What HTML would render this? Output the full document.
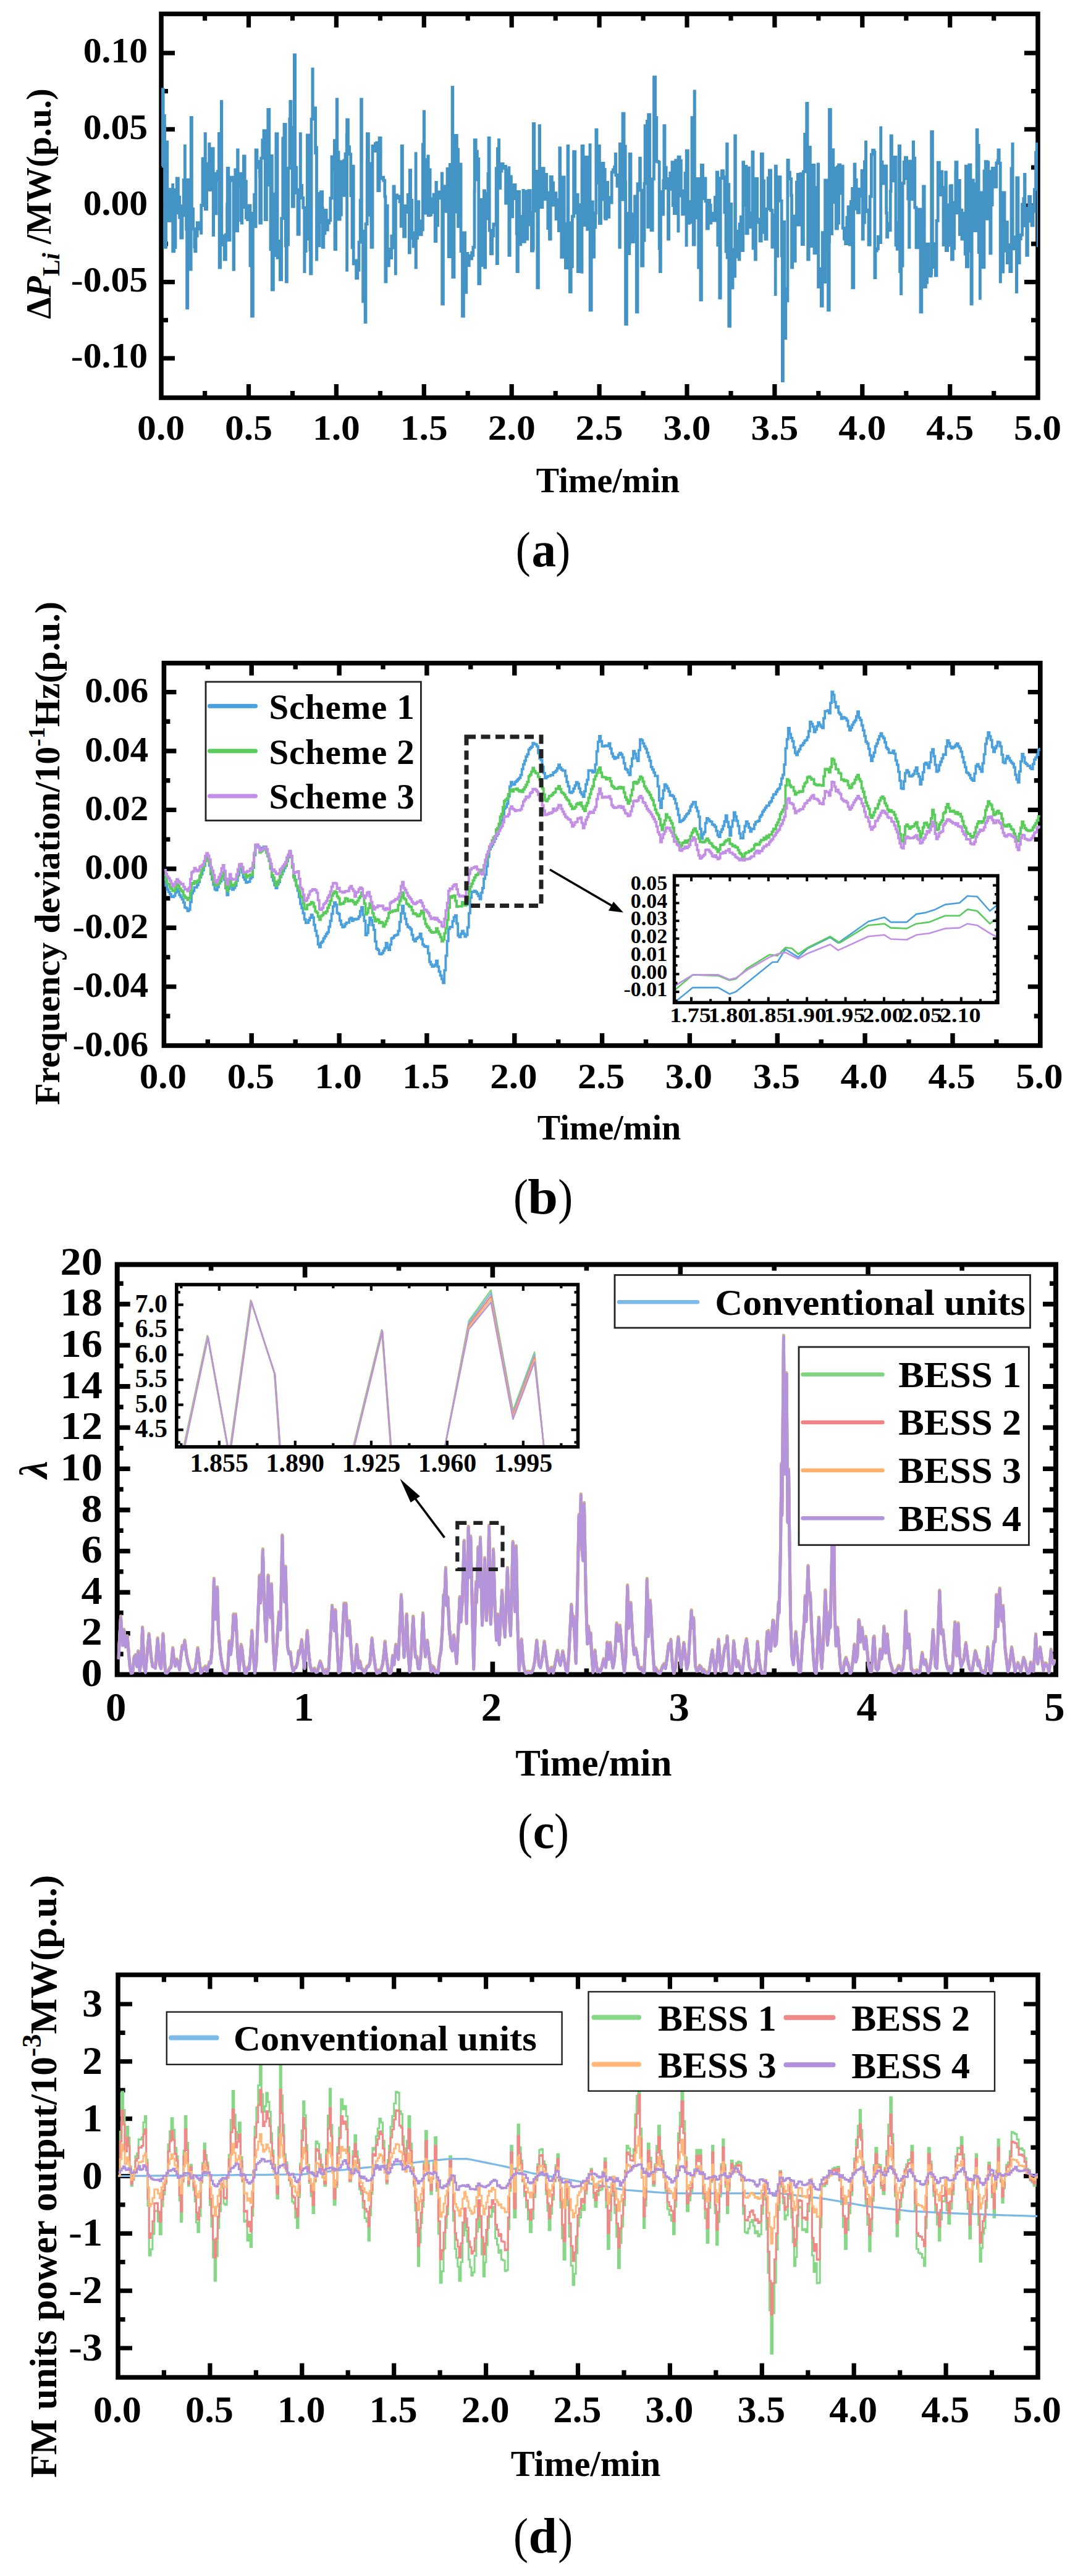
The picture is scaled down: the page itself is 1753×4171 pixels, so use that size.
<!DOCTYPE html>
<html><head><meta charset="utf-8"><title>Figure</title>
<style>html,body{margin:0;padding:0;background:#fff;} svg{display:block;} text{font-family:"Liberation Serif", serif;fill:#000;}</style>
</head><body>
<svg width="1753" height="4171" viewBox="0 0 1753 4171">
<rect width="1753" height="4171" fill="#fff"/>
<rect x="261" y="22.5" width="1419" height="621.5" fill="none" stroke="#000" stroke-width="7.5" stroke-linecap="square"/>
<path d="M402.5 644V622M402.5 22.5V44.5M544.4 644V622M544.4 22.5V44.5M686.3 644V622M686.3 22.5V44.5M828.2 644V622M828.2 22.5V44.5M970.1 644V622M970.1 22.5V44.5M1112 644V622M1112 22.5V44.5M1253.9 644V622M1253.9 22.5V44.5M1395.8 644V622M1395.8 22.5V44.5M1537.7 644V622M1537.7 22.5V44.5" stroke="#000" stroke-width="7.2" fill="none"/>
<path d="M331.6 644V633M331.6 22.5V33.5M473.5 644V633M473.5 22.5V33.5M615.4 644V633M615.4 22.5V33.5M757.2 644V633M757.2 22.5V33.5M899.2 644V633M899.2 22.5V33.5M1041.1 644V633M1041.1 22.5V33.5M1183 644V633M1183 22.5V33.5M1324.8 644V633M1324.8 22.5V33.5M1466.8 644V633M1466.8 22.5V33.5M1608.7 644V633M1608.7 22.5V33.5" stroke="#000" stroke-width="7.2" fill="none"/>
<path d="M261 580.1H283M1680 580.1H1658M261 456.6H283M1680 456.6H1658M261 333H283M1680 333H1658M261 209.4H283M1680 209.4H1658M261 85.9H283M1680 85.9H1658" stroke="#000" stroke-width="7.2" fill="none"/>
<path d="M261 518.4H272M1680 518.4H1669M261 394.8H272M1680 394.8H1669M261 271.2H272M1680 271.2H1669M261 147.6H272M1680 147.6H1669" stroke="#000" stroke-width="7.2" fill="none"/>
<clipPath id="c1"><rect x="261" y="22.5" width="1419" height="621.5"/></clipPath>
<g clip-path="url(#c1)">
<polyline points="262.0,269.1 263.3,269.1 263.3,144.6 264.2,144.6 264.2,187.4 266.4,187.4 266.4,205.0 266.6,205.0 266.6,400.3 268.6,400.3 268.6,301.4 269.8,301.4 269.8,229.8 270.8,229.8 270.8,334.8 273.0,334.8 273.0,357.6 275.2,357.6 275.2,306.7 277.4,306.7 277.4,327.6 279.6,327.6 279.6,299.3 279.7,299.3 279.7,406.9 281.8,406.9 281.8,400.7 284.0,400.7 284.0,307.4 286.2,307.4 286.2,346.9 286.2,346.9 286.2,288.9 288.4,288.9 288.4,319.2 290.6,319.2 290.6,352.0 292.8,352.0 292.8,385.2 295.0,385.2 295.0,333.5 297.2,333.5 297.2,291.3 299.3,291.3 299.3,236.4 299.4,236.4 299.4,348.8 301.6,348.8 301.6,371.2 302.6,371.2 302.6,498.7 303.8,498.7 303.8,291.2 306.0,291.2 306.0,400.5 308.2,400.5 308.2,436.0 309.2,436.0 309.2,190.5 310.4,190.5 310.4,338.3 312.6,338.3 312.6,370.7 314.8,370.7 314.8,399.5 315.7,399.5 315.7,406.9 317.0,406.9 317.0,382.0 319.2,382.0 319.2,360.7 321.4,360.7 321.4,370.2 323.6,370.2 323.6,370.8 325.6,370.8 325.6,377.4 325.8,377.4 325.8,332.5 328.0,332.5 328.0,257.0 330.2,257.0 330.2,296.4 332.1,296.4 332.1,216.7 332.4,216.7 332.4,338.5 334.6,338.5 334.6,293.5 336.8,293.5 336.8,265.2 338.7,265.2 338.7,233.1 339.0,233.1 339.0,307.7 341.2,307.7 341.2,272.6 343.4,272.6 343.4,240.7 345.2,240.7 345.2,380.7 345.6,380.7 345.6,281.2 347.8,281.2 347.8,345.9 350.0,345.9 350.0,292.5 352.2,292.5 352.2,277.6 354.4,277.6 354.4,216.4 355.1,216.4 355.1,433.1 356.6,433.1 356.6,376.1 358.4,376.1 358.4,164.3 358.8,164.3 358.8,381.9 361.0,381.9 361.0,396.5 363.2,396.5 363.2,420.0 365.4,420.0 365.4,380.2 367.6,380.2 367.6,331.0 368.2,331.0 368.2,272.5 369.8,272.5 369.8,388.8 372.0,388.8 372.0,292.4 374.2,292.4 374.2,287.2 376.4,287.2 376.4,289.2 378.0,289.2 378.0,436.4 378.6,436.4 378.6,297.0 380.8,297.0 380.8,275.0 383.0,275.0 383.0,373.9 384.6,373.9 384.6,243.0 385.2,243.0 385.2,302.6 387.4,302.6 387.4,281.1 389.6,281.1 389.6,356.6 391.1,356.6 391.1,361.0 391.8,361.0 391.8,316.7 394.0,316.7 394.0,335.6 394.4,335.6 394.4,252.8 396.2,252.8 396.2,293.7 398.4,293.7 398.4,352.8 400.6,352.8 400.6,355.6 402.8,355.6 402.8,333.0 405.0,333.0 405.0,430.0 407.2,430.0 407.2,345.5 407.5,345.5 407.5,511.8 409.4,511.8 409.4,366.9 411.6,366.9 411.6,315.2 413.8,315.2 413.8,366.8 414.1,366.8 414.1,243.0 416.0,243.0 416.0,271.4 418.2,271.4 418.2,261.3 420.4,261.3 420.4,284.8 420.7,284.8 420.7,361.0 422.6,361.0 422.6,256.2 424.8,256.2 424.8,227.0 427.0,227.0 427.0,211.6 429.2,211.6 429.2,355.5 431.4,355.5 431.4,252.1 433.6,252.1 433.6,245.5 433.8,245.5 433.8,177.4 435.8,177.4 435.8,299.6 438.0,299.6 438.0,403.8 440.2,403.8 440.2,252.3 440.3,252.3 440.3,469.2 442.4,469.2 442.4,413.6 444.6,413.6 444.6,314.2 446.8,314.2 446.8,247.0 446.9,247.0 446.9,216.7 449.0,216.7 449.0,417.4 451.2,417.4 451.2,390.3 453.4,390.3 453.4,426.2 453.4,426.2 453.4,452.8 455.6,452.8 455.6,353.7 457.8,353.7 457.8,223.8 460.0,223.8 460.0,201.3 462.2,201.3 462.2,398.0 463.3,398.0 463.3,456.1 464.4,456.1 464.4,396.2 466.6,396.2 466.6,272.3 468.8,272.3 468.8,192.7 469.8,192.7 469.8,164.3 471.0,164.3 471.0,206.2 473.2,206.2 473.2,334.4 475.4,334.4 475.4,253.6 476.4,253.6 476.4,88.9 477.6,88.9 477.6,271.1 479.8,271.1 479.8,312.4 482.0,312.4 482.0,379.3 484.2,379.3 484.2,307.1 486.2,307.1 486.2,216.7 486.4,216.7 486.4,300.5 488.6,300.5 488.6,320.5 490.8,320.5 490.8,336.3 492.8,336.3 492.8,439.7 493.0,439.7 493.0,406.5 495.2,406.5 495.2,387.2 497.4,387.2 497.4,218.8 499.6,218.8 499.6,280.9 501.8,280.9 501.8,404.6 502.6,404.6 502.6,443.0 504.0,443.0 504.0,192.8 505.9,192.8 505.9,111.8 506.2,111.8 506.2,189.6 508.4,189.6 508.4,174.8 510.6,174.8 510.6,247.9 512.5,247.9 512.5,236.4 512.5,236.4 512.5,420.0 512.8,420.0 512.8,339.4 515.0,339.4 515.0,397.8 517.2,397.8 517.2,313.5 519.4,313.5 519.4,310.6 521.6,310.6 521.6,359.8 522.3,359.8 522.3,334.8 522.3,334.8 522.3,400.3 523.8,400.3 523.8,377.9 526.0,377.9 526.0,340.3 528.2,340.3 528.2,372.1 530.4,372.1 530.4,361.1 532.6,361.1 532.6,356.9 534.8,356.9 534.8,320.8 537.0,320.8 537.0,253.8 539.2,253.8 539.2,275.8 541.4,275.8 541.4,227.7 542.0,227.7 542.0,403.6 543.6,403.6 543.6,288.0 545.2,288.0 545.2,161.0 545.8,161.0 545.8,246.6 548.0,246.6 548.0,355.0 550.2,355.0 550.2,344.8 551.8,344.8 551.8,347.9 552.4,347.9 552.4,261.7 554.6,261.7 554.6,316.4 556.8,316.4 556.8,260.0 559.0,260.0 559.0,249.1 561.2,249.1 561.2,218.5 561.6,218.5 561.6,439.7 561.6,439.7 561.6,193.8 563.4,193.8 563.4,237.8 565.6,237.8 565.6,249.6 567.8,249.6 567.8,316.5 570.0,316.5 570.0,400.8 571.5,400.8 571.5,269.2 572.2,269.2 572.2,427.0 574.4,427.0 574.4,422.0 576.6,422.0 576.6,450.4 578.8,450.4 578.8,437.3 581.0,437.3 581.0,392.2 583.2,392.2 583.2,324.7 584.6,324.7 584.6,161.0 585.4,161.0 585.4,374.4 587.6,374.4 587.6,488.0 589.8,488.0 589.8,439.9 591.1,439.9 591.1,521.6 592.0,521.6 592.0,362.7 594.2,362.7 594.2,262.4 594.4,262.4 594.4,216.7 596.4,216.7 596.4,264.9 598.6,264.9 598.6,348.3 600.8,348.3 600.8,361.1 601.0,361.1 601.0,400.3 603.0,400.3 603.0,236.5 605.2,236.5 605.2,244.7 607.4,244.7 607.4,232.7 609.6,232.7 609.6,231.2 611.8,231.2 611.8,308.5 614.0,308.5 614.0,292.9 614.1,292.9 614.1,223.3 616.2,223.3 616.2,289.1 618.4,289.1 618.4,287.1 620.6,287.1 620.6,292.2 622.8,292.2 622.8,318.1 623.9,318.1 623.9,456.1 625.0,456.1 625.0,333.2 627.2,333.2 627.2,430.2 629.4,430.2 629.4,403.3 631.6,403.3 631.6,417.7 633.8,417.7 633.8,382.2 636.0,382.2 636.0,401.0 637.0,401.0 637.0,302.0 638.2,302.0 638.2,347.3 640.3,347.3 640.3,443.0 640.4,443.0 640.4,315.9 642.6,315.9 642.6,320.5 644.8,320.5 644.8,317.9 647.0,317.9 647.0,326.7 649.2,326.7 649.2,366.4 650.2,366.4 650.2,236.4 651.4,236.4 651.4,361.2 653.6,361.2 653.6,383.1 655.8,383.1 655.8,333.3 658.0,333.3 658.0,343.6 660.2,343.6 660.2,315.4 662.4,315.4 662.4,409.2 663.3,409.2 663.3,275.7 664.6,275.7 664.6,324.4 666.8,324.4 666.8,385.3 669.0,385.3 669.0,399.0 671.2,399.0 671.2,377.0 673.1,377.0 673.1,246.2 673.1,246.2 673.1,433.1 673.4,433.1 673.4,385.7 675.6,385.7 675.6,326.7 677.8,326.7 677.8,357.8 680.0,357.8 680.0,379.9 682.2,379.9 682.2,372.0 684.4,372.0 684.4,233.9 686.2,233.9 686.2,180.7 686.6,180.7 686.6,258.6 688.8,258.6 688.8,345.2 691.0,345.2 691.0,317.5 692.8,317.5 692.8,252.8 693.2,252.8 693.2,348.7 695.4,348.7 695.4,274.8 696.1,274.8 696.1,347.9 697.6,347.9 697.6,343.9 699.8,343.9 699.8,321.9 702.0,321.9 702.0,314.9 704.2,314.9 704.2,390.6 705.9,390.6 705.9,295.4 706.4,295.4 706.4,364.8 708.6,364.8 708.6,311.4 710.8,311.4 710.8,310.9 713.0,310.9 713.0,320.8 715.2,320.8 715.2,280.9 715.7,280.9 715.7,492.1 717.4,492.1 717.4,307.9 719.6,307.9 719.6,301.6 721.8,301.6 721.8,342.3 724.0,342.3 724.0,273.4 726.2,273.4 726.2,415.6 728.4,415.6 728.4,266.5 730.6,266.5 730.6,366.8 732.1,366.8 732.1,141.3 732.8,141.3 732.8,448.7 735.0,448.7 735.0,343.1 737.2,343.1 737.2,219.3 739.4,219.3 739.4,241.9 741.6,241.9 741.6,366.7 743.8,366.7 743.8,318.5 745.2,318.5 745.2,265.9 746.0,265.9 746.0,406.5 748.2,406.5 748.2,404.7 748.5,404.7 748.5,511.8 750.4,511.8 750.4,376.9 752.6,376.9 752.6,473.3 754.8,473.3 754.8,410.3 757.0,410.3 757.0,429.9 759.2,429.9 759.2,414.2 761.4,414.2 761.4,418.8 763.6,418.8 763.6,409.2 764.9,409.2 764.9,413.4 765.8,413.4 765.8,400.3 768.0,400.3 768.0,310.1 768.2,310.1 768.2,226.6 770.2,226.6 770.2,245.1 772.4,245.1 772.4,291.2 774.6,291.2 774.6,257.5 774.8,257.5 774.8,459.3 776.8,459.3 776.8,323.3 779.0,323.3 779.0,429.8 781.2,429.8 781.2,372.2 783.4,372.2 783.4,308.8 784.6,308.8 784.6,433.1 785.6,433.1 785.6,354.2 787.8,354.2 787.8,313.3 790.0,313.3 790.0,281.3 791.1,281.3 791.1,223.3 792.2,223.3 792.2,373.1 794.4,373.1 794.4,410.8 796.6,410.8 796.6,382.1 798.8,382.1 798.8,363.0 801.0,363.0 801.0,364.5 803.2,364.5 803.2,272.6 804.3,272.6 804.3,426.6 805.4,426.6 805.4,240.6 807.5,240.6 807.5,226.6 807.6,226.6 807.6,304.5 809.8,304.5 809.8,277.0 812.0,277.0 812.0,265.3 814.2,265.3 814.2,272.3 816.4,272.3 816.4,269.4 818.6,269.4 818.6,329.0 820.8,329.0 820.8,297.9 823.0,297.9 823.0,275.6 823.9,275.6 823.9,269.2 823.9,269.2 823.9,413.4 825.2,413.4 825.2,285.9 827.4,285.9 827.4,350.9 829.6,350.9 829.6,321.6 831.8,321.6 831.8,299.5 834.0,299.5 834.0,317.9 836.2,317.9 836.2,378.2 837.0,378.2 837.0,439.7 838.4,439.7 838.4,310.5 840.6,310.5 840.6,395.8 842.8,395.8 842.8,350.4 845.0,350.4 845.0,356.9 846.9,356.9 846.9,308.5 847.2,308.5 847.2,391.4 849.4,391.4 849.4,317.0 851.6,317.0 851.6,309.8 853.4,309.8 853.4,387.2 853.8,387.2 853.8,363.8 856.0,363.8 856.0,308.7 858.2,308.7 858.2,343.9 860.4,343.9 860.4,406.2 862.6,406.2 862.6,403.2 863.3,403.2 863.3,200.3 864.8,200.3 864.8,341.6 867.0,341.6 867.0,277.4 869.2,277.4 869.2,297.9 869.8,297.9 869.8,465.9 871.4,465.9 871.4,314.8 873.1,314.8 873.1,203.6 873.6,203.6 873.6,283.1 875.8,283.1 875.8,335.7 878.0,335.7 878.0,272.6 880.2,272.6 880.2,309.9 882.4,309.9 882.4,322.5 883.0,322.5 883.0,282.3 884.6,282.3 884.6,312.0 886.8,312.0 886.8,369.5 889.0,369.5 889.0,366.8 889.5,366.8 889.5,387.2 891.2,387.2 891.2,286.3 893.4,286.3 893.4,296.1 895.6,296.1 895.6,332.1 897.8,332.1 897.8,312.7 900.0,312.7 900.0,354.6 902.2,354.6 902.2,323.5 904.4,323.5 904.4,373.6 905.9,373.6 905.9,239.7 906.6,239.7 906.6,331.1 908.8,331.1 908.8,416.4 911.0,416.4 911.0,287.0 913.2,287.0 913.2,362.1 915.4,362.1 915.4,433.8 917.6,433.8 917.6,408.3 919.0,408.3 919.0,236.4 919.8,236.4 919.8,403.2 922.0,403.2 922.0,360.8 922.3,360.8 922.3,472.5 924.2,472.5 924.2,431.6 926.4,431.6 926.4,350.4 928.6,350.4 928.6,245.7 930.8,245.7 930.8,344.8 933.0,344.8 933.0,315.2 935.2,315.2 935.2,353.2 935.4,353.2 935.4,439.7 937.4,439.7 937.4,331.3 939.6,331.3 939.6,434.1 941.8,434.1 941.8,440.4 942.0,440.4 942.0,236.4 944.0,236.4 944.0,364.5 946.2,364.5 946.2,361.4 948.4,361.4 948.4,254.5 950.6,254.5 950.6,371.4 952.8,371.4 952.8,346.7 955.0,346.7 955.0,234.7 955.1,234.7 955.1,502.0 957.2,502.0 957.2,327.0 959.4,327.0 959.4,416.1 961.6,416.1 961.6,368.0 963.8,368.0 963.8,344.8 964.9,344.8 964.9,210.2 966.0,210.2 966.0,268.1 968.2,268.1 968.2,296.2 970.0,296.2 970.0,236.4 970.4,236.4 970.4,361.5 972.6,361.5 972.6,323.0 974.8,323.0 974.8,264.5 977.0,264.5 977.0,274.5 979.2,274.5 979.2,352.4 979.8,352.4 979.8,354.4 981.4,354.4 981.4,342.0 983.1,342.0 983.1,295.4 983.6,295.4 983.6,351.3 985.8,351.3 985.8,319.8 988.0,319.8 988.0,328.0 990.2,328.0 990.2,278.8 992.4,278.8 992.4,274.8 994.6,274.8 994.6,270.3 996.2,270.3 996.2,249.5 996.8,249.5 996.8,283.6 999.0,283.6 999.0,301.4 1001.2,301.4 1001.2,283.2 1002.8,283.2 1002.8,400.3 1003.4,400.3 1003.4,233.1 1005.6,233.1 1005.6,240.5 1007.8,240.5 1007.8,323.2 1008.0,323.2 1008.0,183.9 1010.0,183.9 1010.0,236.8 1012.2,236.8 1012.2,294.8 1012.6,294.8 1012.6,524.9 1014.4,524.9 1014.4,345.3 1016.6,345.3 1016.6,410.6 1018.8,410.6 1018.8,394.9 1019.2,394.9 1019.2,249.5 1021.0,249.5 1021.0,375.5 1022.5,375.5 1022.5,387.2 1023.2,387.2 1023.2,391.7 1025.4,391.7 1025.4,346.7 1027.6,346.7 1027.6,317.9 1029.8,317.9 1029.8,377.9 1030.3,377.9 1030.3,505.2 1032.0,505.2 1032.0,297.7 1034.2,297.7 1034.2,307.1 1035.6,307.1 1035.6,256.1 1036.4,256.1 1036.4,308.2 1038.6,308.2 1038.6,430.4 1040.8,430.4 1040.8,389.3 1043.0,389.3 1043.0,297.1 1044.1,297.1 1044.1,203.6 1045.2,203.6 1045.2,216.2 1047.4,216.2 1047.4,196.4 1048.7,196.4 1048.7,367.5 1049.6,367.5 1049.6,185.6 1051.8,185.6 1051.8,299.5 1054.0,299.5 1054.0,372.9 1056.2,372.9 1056.2,289.8 1058.4,289.8 1058.4,270.4 1058.5,270.4 1058.5,124.9 1060.6,124.9 1060.6,190.3 1062.8,190.3 1062.8,261.4 1065.0,261.4 1065.0,262.3 1067.2,262.3 1067.2,402.3 1068.4,402.3 1068.4,439.7 1069.4,439.7 1069.4,310.4 1071.6,310.4 1071.6,347.0 1073.8,347.0 1073.8,292.4 1074.9,292.4 1074.9,203.6 1076.0,203.6 1076.0,271.1 1078.2,271.1 1078.2,304.7 1080.4,304.7 1080.4,289.4 1081.5,289.4 1081.5,387.2 1082.6,387.2 1082.6,306.3 1084.8,306.3 1084.8,280.1 1087.0,280.1 1087.0,287.8 1088.0,287.8 1088.0,262.6 1089.2,262.6 1089.2,332.5 1091.4,332.5 1091.4,345.5 1093.6,345.5 1093.6,259.6 1095.8,259.6 1095.8,285.5 1097.9,285.5 1097.9,374.1 1098.0,374.1 1098.0,254.1 1100.2,254.1 1100.2,260.3 1102.4,260.3 1102.4,317.1 1104.6,317.1 1104.6,346.8 1106.8,346.8 1106.8,308.8 1109.0,308.8 1109.0,280.3 1111.0,280.3 1111.0,397.0 1111.2,397.0 1111.2,244.2 1113.4,244.2 1113.4,361.4 1115.6,361.4 1115.6,359.9 1117.8,359.9 1117.8,326.5 1120.0,326.5 1120.0,190.5 1122.2,190.5 1122.2,396.2 1124.1,396.2 1124.1,147.9 1124.4,147.9 1124.4,307.4 1126.6,307.4 1126.6,352.6 1128.8,352.6 1128.8,289.4 1130.7,289.4 1130.7,433.1 1131.0,433.1 1131.0,358.1 1133.2,358.1 1133.2,329.6 1133.9,329.6 1133.9,485.6 1135.4,485.6 1135.4,267.4 1137.6,267.4 1137.6,303.4 1139.8,303.4 1139.8,321.6 1140.5,321.6 1140.5,288.9 1142.0,288.9 1142.0,325.9 1144.2,325.9 1144.2,370.0 1146.4,370.0 1146.4,324.5 1148.6,324.5 1148.6,332.3 1150.3,332.3 1150.3,361.0 1150.8,361.0 1150.8,346.8 1153.0,346.8 1153.0,345.5 1155.2,345.5 1155.2,357.0 1157.4,357.0 1157.4,319.5 1159.6,319.5 1159.6,348.4 1160.2,348.4 1160.2,279.0 1161.8,279.0 1161.8,396.9 1164.0,396.9 1164.0,296.8 1164.8,296.8 1164.8,482.3 1166.2,482.3 1166.2,288.6 1168.4,288.6 1168.4,276.6 1170.6,276.6 1170.6,286.6 1172.8,286.6 1172.8,343.9 1175.0,343.9 1175.0,407.0 1176.6,407.0 1176.6,233.1 1177.2,233.1 1177.2,417.2 1179.4,417.2 1179.4,298.7 1179.8,298.7 1179.8,528.2 1181.6,528.2 1181.6,330.4 1183.8,330.4 1183.8,466.0 1186.0,466.0 1186.0,403.8 1188.2,403.8 1188.2,447.4 1189.7,447.4 1189.7,220.0 1190.4,220.0 1190.4,374.4 1192.6,374.4 1192.6,415.9 1194.8,415.9 1194.8,412.1 1196.2,412.1 1196.2,420.0 1197.0,420.0 1197.0,362.9 1199.2,362.9 1199.2,351.2 1201.4,351.2 1201.4,405.7 1202.8,405.7 1202.8,262.6 1203.6,262.6 1203.6,332.7 1205.8,332.7 1205.8,269.5 1208.0,269.5 1208.0,377.9 1210.2,377.9 1210.2,271.8 1212.4,271.8 1212.4,344.8 1214.6,344.8 1214.6,367.8 1216.8,367.8 1216.8,357.1 1217.9,357.1 1217.9,246.2 1219.0,246.2 1219.0,402.0 1221.2,402.0 1221.2,289.8 1222.5,289.8 1222.5,420.0 1223.4,420.0 1223.4,289.4 1225.6,289.4 1225.6,360.0 1227.8,360.0 1227.8,355.0 1230.0,355.0 1230.0,390.1 1232.2,390.1 1232.2,369.9 1232.3,369.9 1232.3,249.5 1234.4,249.5 1234.4,292.8 1236.6,292.8 1236.6,376.3 1238.8,376.3 1238.8,361.4 1238.9,361.4 1238.9,387.2 1241.0,387.2 1241.0,338.3 1243.2,338.3 1243.2,288.2 1245.4,288.2 1245.4,275.9 1247.6,275.9 1247.6,340.5 1249.8,340.5 1249.8,400.2 1252.0,400.2 1252.0,348.4 1254.2,348.4 1254.2,392.9 1255.2,392.9 1255.2,479.0 1255.2,479.0 1255.2,269.2 1256.4,269.2 1256.4,414.7 1258.6,414.7 1258.6,318.5 1260.8,318.5 1260.8,286.6 1263.0,286.6 1263.0,325.4 1265.2,325.4 1265.2,414.2 1266.4,414.2 1266.4,616.7 1267.4,616.7 1267.4,359.5 1269.6,359.5 1269.6,547.7 1271.8,547.7 1271.8,467.2 1274.0,467.2 1274.0,487.0 1274.9,487.0 1274.9,259.3 1276.2,259.3 1276.2,279.0 1278.4,279.0 1278.4,289.6 1280.6,289.6 1280.6,316.7 1281.5,316.7 1281.5,433.1 1282.8,433.1 1282.8,349.8 1285.0,349.8 1285.0,422.7 1287.2,422.7 1287.2,362.9 1289.4,362.9 1289.4,295.2 1291.3,295.2 1291.3,282.3 1291.6,282.3 1291.6,364.0 1293.8,364.0 1293.8,309.0 1296.0,309.0 1296.0,281.3 1298.2,281.3 1298.2,395.5 1300.4,395.5 1300.4,277.8 1302.6,277.8 1302.6,217.3 1304.8,217.3 1304.8,234.9 1305.7,234.9 1305.7,167.5 1307.0,167.5 1307.0,278.4 1307.7,278.4 1307.7,420.0 1309.2,420.0 1309.2,238.5 1311.4,238.5 1311.4,398.7 1313.6,398.7 1313.6,354.2 1315.8,354.2 1315.8,267.3 1318.0,267.3 1318.0,409.9 1320.2,409.9 1320.2,303.6 1322.4,303.6 1322.4,378.8 1324.1,378.8 1324.1,265.9 1324.6,265.9 1324.6,464.7 1326.8,464.7 1326.8,435.1 1329.0,435.1 1329.0,458.8 1329.3,458.8 1329.3,495.4 1331.2,495.4 1331.2,376.7 1333.4,376.7 1333.4,456.6 1335.6,456.6 1335.6,291.8 1337.8,291.8 1337.8,406.1 1340.0,406.1 1340.0,324.9 1340.5,324.9 1340.5,502.0 1342.2,502.0 1342.2,391.6 1342.5,391.6 1342.5,177.4 1344.4,177.4 1344.4,378.7 1346.6,378.7 1346.6,242.6 1348.8,242.6 1348.8,272.4 1351.0,272.4 1351.0,327.7 1353.2,327.7 1353.2,370.2 1355.4,370.2 1355.4,270.5 1356.9,270.5 1356.9,361.0 1357.6,361.0 1357.6,266.9 1359.8,266.9 1359.8,313.1 1362.0,313.1 1362.0,312.3 1363.4,312.3 1363.4,269.2 1364.2,269.2 1364.2,369.3 1366.4,369.3 1366.4,386.8 1368.6,386.8 1368.6,394.5 1370.8,394.5 1370.8,352.2 1373.0,352.2 1373.0,334.8 1375.2,334.8 1375.2,396.2 1377.4,396.2 1377.4,326.5 1379.6,326.5 1379.6,305.4 1379.8,305.4 1379.8,465.9 1381.8,465.9 1381.8,326.5 1383.1,326.5 1383.1,265.9 1384.0,265.9 1384.0,291.2 1386.2,291.2 1386.2,338.4 1388.4,338.4 1388.4,344.3 1390.6,344.3 1390.6,306.1 1392.8,306.1 1392.8,317.9 1395.0,317.9 1395.0,276.4 1396.2,276.4 1396.2,387.2 1397.2,387.2 1397.2,360.4 1399.4,360.4 1399.4,261.8 1401.5,261.8 1401.5,229.8 1401.6,229.8 1401.6,342.5 1403.8,342.5 1403.8,340.2 1406.0,340.2 1406.0,396.4 1408.2,396.4 1408.2,318.1 1410.4,318.1 1410.4,250.1 1412.6,250.1 1412.6,243.2 1414.8,243.2 1414.8,246.3 1415.9,246.3 1415.9,449.5 1417.0,449.5 1417.0,406.0 1419.2,406.0 1419.2,402.8 1421.4,402.8 1421.4,383.3 1423.6,383.3 1423.6,392.6 1425.7,392.6 1425.7,206.9 1425.8,206.9 1425.8,262.1 1428.0,262.1 1428.0,277.8 1430.2,277.8 1430.2,297.1 1432.4,297.1 1432.4,268.8 1434.6,268.8 1434.6,345.1 1435.6,345.1 1435.6,383.9 1436.8,383.9 1436.8,361.9 1439.0,361.9 1439.0,372.9 1441.2,372.9 1441.2,309.7 1442.1,309.7 1442.1,220.0 1443.4,220.0 1443.4,292.9 1445.6,292.9 1445.6,276.2 1447.8,276.2 1447.8,254.4 1450.0,254.4 1450.0,396.9 1452.2,396.9 1452.2,403.4 1454.4,403.4 1454.4,360.6 1455.2,360.6 1455.2,236.4 1456.6,236.4 1456.6,439.6 1458.5,439.6 1458.5,475.7 1458.8,475.7 1458.8,430.4 1461.0,430.4 1461.0,296.6 1463.2,296.6 1463.2,262.5 1465.4,262.5 1465.4,255.2 1467.6,255.2 1467.6,289.0 1469.8,289.0 1469.8,322.1 1471.6,322.1 1471.6,400.3 1472.0,400.3 1472.0,261.2 1474.2,261.2 1474.2,322.7 1476.4,322.7 1476.4,304.2 1478.2,304.2 1478.2,229.8 1478.6,229.8 1478.6,256.2 1480.8,256.2 1480.8,336.0 1483.0,336.0 1483.0,400.8 1485.2,400.8 1485.2,386.1 1487.4,386.1 1487.4,339.0 1489.6,339.0 1489.6,340.2 1490.0,340.2 1490.0,505.2 1491.8,505.2 1491.8,365.1 1494.0,365.1 1494.0,350.9 1494.6,350.9 1494.6,302.0 1496.2,302.0 1496.2,464.6 1498.4,464.6 1498.4,457.4 1500.6,457.4 1500.6,395.1 1502.8,395.1 1502.8,432.9 1505.0,432.9 1505.0,446.9 1507.2,446.9 1507.2,442.5 1507.7,442.5 1507.7,213.4 1509.4,213.4 1509.4,432.6 1511.6,432.6 1511.6,394.6 1513.8,394.6 1513.8,417.0 1514.3,417.0 1514.3,446.2 1516.0,446.2 1516.0,357.3 1518.2,357.3 1518.2,263.2 1520.4,263.2 1520.4,315.7 1522.6,315.7 1522.6,277.9 1524.8,277.9 1524.8,303.5 1527.0,303.5 1527.0,396.7 1529.2,396.7 1529.2,383.8 1530.7,383.8 1530.7,279.0 1531.4,279.0 1531.4,405.6 1533.6,405.6 1533.6,331.6 1535.8,331.6 1535.8,397.2 1538.0,397.2 1538.0,301.2 1540.2,301.2 1540.2,300.6 1540.5,300.6 1540.5,420.0 1542.4,420.0 1542.4,402.4 1544.6,402.4 1544.6,328.0 1546.8,328.0 1546.8,277.3 1547.0,277.3 1547.0,262.6 1549.0,262.6 1549.0,344.9 1551.2,344.9 1551.2,292.3 1553.4,292.3 1553.4,379.5 1555.6,379.5 1555.6,340.2 1556.9,340.2 1556.9,387.2 1557.8,387.2 1557.8,382.4 1560.0,382.4 1560.0,345.4 1562.2,345.4 1562.2,411.3 1563.4,411.3 1563.4,269.2 1564.4,269.2 1564.4,431.8 1566.6,431.8 1566.6,406.4 1568.8,406.4 1568.8,266.9 1571.0,266.9 1571.0,354.4 1572.0,354.4 1572.0,492.1 1573.2,492.1 1573.2,292.0 1575.4,292.0 1575.4,320.3 1577.6,320.3 1577.6,373.7 1579.8,373.7 1579.8,297.8 1581.1,297.8 1581.1,210.2 1582.0,210.2 1582.0,235.3 1584.2,235.3 1584.2,408.5 1586.4,408.5 1586.4,485.6 1586.4,485.6 1586.4,321.1 1588.6,321.1 1588.6,312.0 1590.8,312.0 1590.8,432.9 1593.0,432.9 1593.0,277.0 1595.2,277.0 1595.2,261.7 1597.4,261.7 1597.4,354.3 1599.5,354.3 1599.5,262.6 1599.6,262.6 1599.6,277.6 1601.8,277.6 1601.8,302.4 1602.8,302.4 1602.8,410.2 1604.0,410.2 1604.0,331.6 1606.2,331.6 1606.2,272.5 1608.4,272.5 1608.4,294.4 1610.6,294.4 1610.6,302.7 1612.8,302.7 1612.8,264.0 1615.0,264.0 1615.0,259.8 1615.9,259.8 1615.9,243.0 1617.2,243.0 1617.2,264.4 1619.2,264.4 1619.2,456.1 1619.4,456.1 1619.4,408.9 1621.6,408.9 1621.6,440.2 1623.8,440.2 1623.8,311.9 1626.0,311.9 1626.0,406.3 1628.2,406.3 1628.2,359.7 1630.4,359.7 1630.4,425.5 1632.6,425.5 1632.6,396.5 1634.8,396.5 1634.8,439.6 1637.0,439.6 1637.0,272.8 1638.9,272.8 1638.9,233.1 1639.2,233.1 1639.2,402.8 1641.4,402.8 1641.4,383.9 1643.6,383.9 1643.6,384.1 1645.4,384.1 1645.4,472.5 1645.8,472.5 1645.8,287.8 1648.0,287.8 1648.0,425.6 1650.2,425.6 1650.2,386.5 1652.4,386.5 1652.4,380.3 1654.6,380.3 1654.6,331.0 1656.8,331.0 1656.8,321.7 1658.5,321.7 1658.5,282.3 1659.0,282.3 1659.0,365.6 1661.2,365.6 1661.2,337.5 1661.8,337.5 1661.8,413.4 1663.4,413.4 1663.4,358.1 1665.6,358.1 1665.6,318.5 1667.8,318.5 1667.8,332.9 1670.0,332.9 1670.0,365.2 1672.2,365.2 1672.2,342.1 1674.4,342.1 1674.4,306.9 1676.6,306.9 1676.6,246.8 1678.2,246.8 1678.2,233.1 1678.8,233.1 1678.8,296.3 1680.2,296.3 1680.2,400.3" fill="none" stroke="#4394c4" stroke-width="4.8" stroke-linejoin="miter" stroke-linecap="butt" />
</g>
<text x="0" y="0" font-size="56" text-anchor="end" font-weight="bold" transform="translate(239 595.3) scale(1.065 1)" ><tspan font-weight="normal">-</tspan>0.10</text>
<text x="0" y="0" font-size="56" text-anchor="end" font-weight="bold" transform="translate(239 471.8) scale(1.065 1)" ><tspan font-weight="normal">-</tspan>0.05</text>
<text x="0" y="0" font-size="56" text-anchor="end" font-weight="bold" transform="translate(239 348.2) scale(1.065 1)" >0.00</text>
<text x="0" y="0" font-size="56" text-anchor="end" font-weight="bold" transform="translate(239 224.6) scale(1.065 1)" >0.05</text>
<text x="0" y="0" font-size="56" text-anchor="end" font-weight="bold" transform="translate(239 101.1) scale(1.065 1)" >0.10</text>
<text x="0" y="0" font-size="56.5" text-anchor="middle" font-weight="bold" transform="translate(260.6 712) scale(1.09 1)" >0.0</text>
<text x="0" y="0" font-size="56.5" text-anchor="middle" font-weight="bold" transform="translate(402.5 712) scale(1.09 1)" >0.5</text>
<text x="0" y="0" font-size="56.5" text-anchor="middle" font-weight="bold" transform="translate(544.4 712) scale(1.09 1)" >1.0</text>
<text x="0" y="0" font-size="56.5" text-anchor="middle" font-weight="bold" transform="translate(686.3 712) scale(1.09 1)" >1.5</text>
<text x="0" y="0" font-size="56.5" text-anchor="middle" font-weight="bold" transform="translate(828.2 712) scale(1.09 1)" >2.0</text>
<text x="0" y="0" font-size="56.5" text-anchor="middle" font-weight="bold" transform="translate(970.1 712) scale(1.09 1)" >2.5</text>
<text x="0" y="0" font-size="56.5" text-anchor="middle" font-weight="bold" transform="translate(1112 712) scale(1.09 1)" >3.0</text>
<text x="0" y="0" font-size="56.5" text-anchor="middle" font-weight="bold" transform="translate(1253.9 712) scale(1.09 1)" >3.5</text>
<text x="0" y="0" font-size="56.5" text-anchor="middle" font-weight="bold" transform="translate(1395.8 712) scale(1.09 1)" >4.0</text>
<text x="0" y="0" font-size="56.5" text-anchor="middle" font-weight="bold" transform="translate(1537.7 712) scale(1.09 1)" >4.5</text>
<text x="0" y="0" font-size="56.5" text-anchor="middle" font-weight="bold" transform="translate(1679.6 712) scale(1.09 1)" >5.0</text>
<text x="984" y="797" font-size="56" text-anchor="middle" font-weight="bold" >Time/min</text>
<text transform="translate(81.5 330) rotate(-90)" font-size="56" font-weight="bold" text-anchor="middle">&#916;<tspan font-style="italic">P</tspan><tspan font-size="40" dy="14.5">L<tspan font-style="italic">i</tspan></tspan><tspan dy="-14.5"> /MW(p.u.)</tspan></text>
<text x="0" y="0" font-size="72" transform="translate(834.7 916.7) scale(1 1.13)">(</text>
<text x="0" y="0" font-size="72" transform="translate(899.3 916.7) scale(1 1.13)">)</text>
<text x="0" y="0" font-size="72" font-weight="bold" text-anchor="middle" transform="translate(880.4 916.7) scale(1.1 1.13)">a</text>
<rect x="265.4" y="1073.7" width="1418.4" height="619.3" fill="none" stroke="#000" stroke-width="7.6" stroke-linecap="square"/>
<path d="M407.2 1693V1673M407.2 1073.7V1093.7M549.1 1693V1673M549.1 1073.7V1093.7M690.9 1693V1673M690.9 1073.7V1093.7M832.8 1693V1673M832.8 1073.7V1093.7M974.6 1693V1673M974.6 1073.7V1093.7M1116.4 1693V1673M1116.4 1073.7V1093.7M1258.3 1693V1673M1258.3 1073.7V1093.7M1400.1 1693V1673M1400.1 1073.7V1093.7M1542 1693V1673M1542 1073.7V1093.7" stroke="#000" stroke-width="7.4" fill="none"/>
<path d="M336.3 1693V1683M336.3 1073.7V1083.7M478.2 1693V1683M478.2 1073.7V1083.7M620 1693V1683M620 1073.7V1083.7M761.8 1693V1683M761.8 1073.7V1083.7M903.7 1693V1683M903.7 1073.7V1083.7M1045.5 1693V1683M1045.5 1073.7V1083.7M1187.4 1693V1683M1187.4 1073.7V1083.7M1329.2 1693V1683M1329.2 1073.7V1083.7M1471 1693V1683M1471 1073.7V1083.7M1612.9 1693V1683M1612.9 1073.7V1083.7" stroke="#000" stroke-width="7.4" fill="none"/>
<path d="M265.4 1597.6H285.4M1683.8 1597.6H1663.8M265.4 1502.2H285.4M1683.8 1502.2H1663.8M265.4 1406.8H285.4M1683.8 1406.8H1663.8M265.4 1311.4H285.4M1683.8 1311.4H1663.8M265.4 1216H285.4M1683.8 1216H1663.8M265.4 1120.6H285.4M1683.8 1120.6H1663.8" stroke="#000" stroke-width="7.4" fill="none"/>
<path d="M265.4 1645.3H275.4M1683.8 1645.3H1673.8M265.4 1549.9H275.4M1683.8 1549.9H1673.8M265.4 1454.5H275.4M1683.8 1454.5H1673.8M265.4 1359.1H275.4M1683.8 1359.1H1673.8M265.4 1263.7H275.4M1683.8 1263.7H1673.8M265.4 1168.3H275.4M1683.8 1168.3H1673.8" stroke="#000" stroke-width="7.4" fill="none"/>
<clipPath id="c2"><rect x="265.4" y="1073.7" width="1418.4" height="619.3"/></clipPath>
<g clip-path="url(#c2)">
<polyline points="266.0,1424.3 268.2,1424.3 268.2,1433.9 270.4,1433.9 270.4,1440.1 272.6,1440.1 272.6,1444.2 274.8,1444.2 274.8,1447.6 277.0,1447.6 277.0,1452.1 279.2,1452.1 279.2,1452.4 281.4,1452.4 281.4,1450.4 283.6,1450.4 283.6,1445.3 285.8,1445.3 285.8,1439.0 288.0,1439.0 288.0,1443.3 290.2,1443.3 290.2,1449.1 292.4,1449.1 292.4,1452.6 294.6,1452.6 294.6,1456.1 296.8,1456.1 296.8,1461.3 299.0,1461.3 299.0,1469.4 301.2,1469.4 301.2,1470.4 303.4,1470.4 303.4,1475.0 305.6,1475.0 305.6,1472.9 307.8,1472.9 307.8,1460.6 310.0,1460.6 310.0,1446.7 312.2,1446.7 312.2,1442.6 314.4,1442.6 314.4,1436.8 316.6,1436.8 316.6,1436.8 318.8,1436.8 318.8,1433.2 321.0,1433.2 321.0,1428.1 323.2,1428.1 323.2,1420.7 325.4,1420.7 325.4,1415.5 327.6,1415.5 327.6,1409.0 329.8,1409.0 329.8,1401.8 332.0,1401.8 332.0,1392.0 334.2,1392.0 334.2,1387.9 336.4,1387.9 336.4,1391.6 338.6,1391.6 338.6,1401.6 340.8,1401.6 340.8,1415.3 343.0,1415.3 343.0,1424.2 345.2,1424.2 345.2,1432.7 347.4,1432.7 347.4,1439.8 349.6,1439.8 349.6,1441.3 351.8,1441.3 351.8,1436.4 354.0,1436.4 354.0,1430.3 356.2,1430.3 356.2,1427.0 358.4,1427.0 358.4,1418.7 360.6,1418.7 360.6,1413.1 362.8,1413.1 362.8,1424.7 365.0,1424.7 365.0,1438.1 367.2,1438.1 367.2,1449.4 369.4,1449.4 369.4,1439.1 371.6,1439.1 371.6,1430.1 373.8,1430.1 373.8,1435.7 376.0,1435.7 376.0,1440.5 378.2,1440.5 378.2,1437.8 380.4,1437.8 380.4,1434.2 382.6,1434.2 382.6,1426.0 384.8,1426.0 384.8,1417.3 387.0,1417.3 387.0,1406.9 389.2,1406.9 389.2,1404.1 391.4,1404.1 391.4,1412.6 393.6,1412.6 393.6,1420.7 395.8,1420.7 395.8,1424.3 398.0,1424.3 398.0,1429.1 400.2,1429.1 400.2,1428.2 402.4,1428.2 402.4,1427.6 404.6,1427.6 404.6,1422.6 406.8,1422.6 406.8,1420.2 409.0,1420.2 409.0,1404.9 411.2,1404.9 411.2,1384.6 413.4,1384.6 413.4,1367.8 415.6,1367.8 415.6,1368.2 417.8,1368.2 417.8,1371.0 420.0,1371.0 420.0,1375.5 422.2,1375.5 422.2,1372.9 424.4,1372.9 424.4,1373.8 426.6,1373.8 426.6,1371.0 428.8,1371.0 428.8,1371.1 431.0,1371.1 431.0,1377.3 433.2,1377.3 433.2,1386.4 435.4,1386.4 435.4,1393.4 437.6,1393.4 437.6,1406.5 439.8,1406.5 439.8,1419.8 442.0,1419.8 442.0,1425.9 444.2,1425.9 444.2,1433.3 446.4,1433.3 446.4,1438.2 448.6,1438.2 448.6,1431.8 450.8,1431.8 450.8,1428.1 453.0,1428.1 453.0,1420.1 455.2,1420.1 455.2,1415.7 457.4,1415.7 457.4,1410.6 459.6,1410.6 459.6,1405.6 461.8,1405.6 461.8,1401.9 464.0,1401.9 464.0,1392.7 466.2,1392.7 466.2,1388.0 468.4,1388.0 468.4,1379.8 470.6,1379.8 470.6,1386.9 472.8,1386.9 472.8,1403.1 475.0,1403.1 475.0,1418.3 477.2,1418.3 477.2,1424.7 479.4,1424.7 479.4,1434.3 481.6,1434.3 481.6,1442.3 483.8,1442.3 483.8,1452.5 486.0,1452.5 486.0,1463.6 488.2,1463.6 488.2,1470.5 490.4,1470.5 490.4,1478.6 492.6,1478.6 492.6,1488.7 494.8,1488.7 494.8,1494.3 497.0,1494.3 497.0,1494.1 499.2,1494.1 499.2,1490.0 501.4,1490.0 501.4,1486.1 503.6,1486.1 503.6,1481.2 505.8,1481.2 505.8,1485.5 508.0,1485.5 508.0,1497.5 510.2,1497.5 510.2,1507.2 512.4,1507.2 512.4,1515.3 514.6,1515.3 514.6,1529.2 516.8,1529.2 516.8,1533.5 519.0,1533.5 519.0,1526.7 521.2,1526.7 521.2,1524.4 523.4,1524.4 523.4,1519.5 525.6,1519.5 525.6,1516.1 527.8,1516.1 527.8,1512.2 530.0,1512.2 530.0,1509.3 532.2,1509.3 532.2,1500.7 534.4,1500.7 534.4,1491.0 536.6,1491.0 536.6,1479.6 538.8,1479.6 538.8,1467.7 541.0,1467.7 541.0,1461.2 543.2,1461.2 543.2,1464.9 545.4,1464.9 545.4,1478.2 547.6,1478.2 547.6,1479.9 549.8,1479.9 549.8,1490.6 552.0,1490.6 552.0,1497.1 554.2,1497.1 554.2,1501.3 556.4,1501.3 556.4,1500.0 558.6,1500.0 558.6,1496.0 560.8,1496.0 560.8,1493.8 563.0,1493.8 563.0,1493.9 565.2,1493.9 565.2,1488.2 567.4,1488.2 567.4,1486.1 569.6,1486.1 569.6,1491.0 571.8,1491.0 571.8,1488.0 574.0,1488.0 574.0,1488.8 576.2,1488.8 576.2,1488.4 578.4,1488.4 578.4,1487.7 580.6,1487.7 580.6,1484.0 582.8,1484.0 582.8,1475.1 585.0,1475.1 585.0,1469.0 587.2,1469.0 587.2,1481.4 589.4,1481.4 589.4,1491.0 591.6,1491.0 591.6,1514.2 593.8,1514.2 593.8,1510.7 596.0,1510.7 596.0,1497.7 598.2,1497.7 598.2,1485.8 600.4,1485.8 600.4,1489.8 602.6,1489.8 602.6,1498.0 604.8,1498.0 604.8,1505.7 607.0,1505.7 607.0,1524.4 609.2,1524.4 609.2,1536.0 611.4,1536.0 611.4,1538.2 613.6,1538.2 613.6,1544.4 615.8,1544.4 615.8,1545.0 618.0,1545.0 618.0,1543.1 620.2,1543.1 620.2,1539.4 622.4,1539.4 622.4,1535.4 624.6,1535.4 624.6,1527.0 626.8,1527.0 626.8,1534.2 629.0,1534.2 629.0,1538.2 631.2,1538.2 631.2,1529.4 633.4,1529.4 633.4,1519.5 635.6,1519.5 635.6,1518.4 637.8,1518.4 637.8,1515.1 640.0,1515.1 640.0,1514.4 642.2,1514.4 642.2,1513.3 644.4,1513.3 644.4,1507.4 646.6,1507.4 646.6,1492.9 648.8,1492.9 648.8,1478.9 651.0,1478.9 651.0,1466.6 653.2,1466.6 653.2,1479.1 655.4,1479.1 655.4,1487.6 657.6,1487.6 657.6,1496.6 659.8,1496.6 659.8,1500.6 662.0,1500.6 662.0,1501.8 664.2,1501.8 664.2,1504.5 666.4,1504.5 666.4,1513.6 668.6,1513.6 668.6,1521.3 670.8,1521.3 670.8,1524.1 673.0,1524.1 673.0,1520.2 675.2,1520.2 675.2,1518.4 677.4,1518.4 677.4,1517.1 679.6,1517.1 679.6,1511.9 681.8,1511.9 681.8,1520.5 684.0,1520.5 684.0,1529.3 686.2,1529.3 686.2,1531.8 688.4,1531.8 688.4,1533.1 690.6,1533.1 690.6,1532.3 692.8,1532.3 692.8,1543.5 695.0,1543.5 695.0,1557.5 697.2,1557.5 697.2,1561.7 699.4,1561.7 699.4,1565.0 701.6,1565.0 701.6,1564.4 703.8,1564.4 703.8,1562.2 706.0,1562.2 706.0,1555.7 708.2,1555.7 708.2,1565.1 710.4,1565.1 710.4,1573.1 712.6,1573.1 712.6,1579.6 714.8,1579.6 714.8,1585.3 717.0,1585.3 717.0,1591.7 719.2,1591.7 719.2,1571.1 721.4,1571.1 721.4,1547.5 723.6,1547.5 723.6,1523.6 725.8,1523.6 725.8,1504.2 728.0,1504.2 728.0,1501.2 730.2,1501.2 730.2,1500.8 732.4,1500.8 732.4,1491.6 734.6,1491.6 734.6,1485.2 736.8,1485.2 736.8,1482.2 739.0,1482.2 739.0,1495.2 741.2,1495.2 741.2,1514.9 743.4,1514.9 743.4,1517.3 745.6,1517.3 745.6,1512.0 747.8,1512.0 747.8,1507.4 750.0,1507.4 750.0,1511.7 752.2,1511.7 752.2,1516.6 754.4,1516.6 754.4,1513.9 756.6,1513.9 756.6,1501.5 758.8,1501.5 758.8,1478.7 761.0,1478.7 761.0,1453.7 763.2,1453.7 763.2,1443.9 765.4,1443.9 765.4,1444.3 767.6,1444.3 767.6,1442.3 769.8,1442.3 769.8,1444.2 772.0,1444.2 772.0,1447.1 774.2,1447.1 774.2,1450.9 776.4,1450.9 776.4,1455.8 778.6,1455.8 778.6,1445.7 780.8,1445.7 780.8,1438.0 783.0,1438.0 783.0,1422.9 785.2,1422.9 785.2,1416.1 787.4,1416.1 787.4,1402.6 789.6,1402.6 789.6,1387.3 791.8,1387.3 791.8,1375.2 794.0,1375.2 794.0,1371.2 796.2,1371.2 796.2,1367.7 798.4,1367.7 798.4,1363.1 800.6,1363.1 800.6,1358.1 802.8,1358.1 802.8,1353.0 805.0,1353.0 805.0,1350.4 807.2,1350.4 807.2,1343.0 809.4,1343.0 809.4,1333.0 811.6,1333.0 811.6,1328.5 813.8,1328.5 813.8,1318.5 816.0,1318.5 816.0,1308.8 818.2,1308.8 818.2,1306.7 820.4,1306.7 820.4,1301.4 822.6,1301.4 822.6,1289.6 824.8,1289.6 824.8,1273.4 827.0,1273.4 827.0,1266.2 829.2,1266.2 829.2,1270.6 831.4,1270.6 831.4,1270.0 833.6,1270.0 833.6,1266.1 835.8,1266.1 835.8,1264.3 838.0,1264.3 838.0,1261.9 840.2,1261.9 840.2,1259.6 842.4,1259.6 842.4,1254.9 844.6,1254.9 844.6,1245.3 846.8,1245.3 846.8,1237.6 849.0,1237.6 849.0,1231.8 851.2,1231.8 851.2,1225.2 853.4,1225.2 853.4,1221.4 855.6,1221.4 855.6,1213.7 857.8,1213.7 857.8,1211.2 860.0,1211.2 860.0,1209.1 862.2,1209.1 862.2,1203.2 864.4,1203.2 864.4,1204.6 866.6,1204.6 866.6,1205.4 868.8,1205.4 868.8,1208.3 871.0,1208.3 871.0,1219.3 873.2,1219.3 873.2,1228.1 875.4,1228.1 875.4,1230.9 877.6,1230.9 877.6,1241.5 879.8,1241.5 879.8,1251.9 882.0,1251.9 882.0,1260.1 884.2,1260.1 884.2,1258.3 886.4,1258.3 886.4,1256.7 888.6,1256.7 888.6,1256.7 890.8,1256.7 890.8,1255.1 893.0,1255.1 893.0,1255.0 895.2,1255.0 895.2,1251.0 897.4,1251.0 897.4,1250.2 899.6,1250.2 899.6,1247.8 901.8,1247.8 901.8,1244.0 904.0,1244.0 904.0,1238.1 906.2,1238.1 906.2,1242.8 908.4,1242.8 908.4,1246.0 910.6,1246.0 910.6,1247.9 912.8,1247.9 912.8,1247.7 915.0,1247.7 915.0,1256.5 917.2,1256.5 917.2,1266.1 919.4,1266.1 919.4,1273.1 921.6,1273.1 921.6,1282.6 923.8,1282.6 923.8,1283.9 926.0,1283.9 926.0,1281.7 928.2,1281.7 928.2,1276.9 930.4,1276.9 930.4,1271.8 932.6,1271.8 932.6,1266.3 934.8,1266.3 934.8,1268.9 937.0,1268.9 937.0,1276.7 939.2,1276.7 939.2,1283.0 941.4,1283.0 941.4,1286.4 943.6,1286.4 943.6,1290.2 945.8,1290.2 945.8,1281.2 948.0,1281.2 948.0,1270.0 950.2,1270.0 950.2,1262.6 952.4,1262.6 952.4,1247.3 954.6,1247.3 954.6,1247.9 956.8,1247.9 956.8,1247.4 959.0,1247.4 959.0,1250.7 961.2,1250.7 961.2,1249.4 963.4,1249.4 963.4,1237.8 965.6,1237.8 965.6,1216.6 967.8,1216.6 967.8,1201.2 970.0,1201.2 970.0,1191.9 972.2,1191.9 972.2,1200.2 974.4,1200.2 974.4,1208.4 976.6,1208.4 976.6,1208.6 978.8,1208.6 978.8,1207.3 981.0,1207.3 981.0,1207.1 983.2,1207.1 983.2,1208.1 985.4,1208.1 985.4,1203.7 987.6,1203.7 987.6,1212.2 989.8,1212.2 989.8,1220.1 992.0,1220.1 992.0,1225.1 994.2,1225.1 994.2,1228.7 996.4,1228.7 996.4,1226.1 998.6,1226.1 998.6,1226.9 1000.8,1226.9 1000.8,1222.2 1003.0,1222.2 1003.0,1219.1 1005.2,1219.1 1005.2,1221.4 1007.4,1221.4 1007.4,1226.4 1009.6,1226.4 1009.6,1235.8 1011.8,1235.8 1011.8,1244.8 1014.0,1244.8 1014.0,1246.5 1016.2,1246.5 1016.2,1250.8 1018.4,1250.8 1018.4,1254.9 1020.6,1254.9 1020.6,1240.9 1022.8,1240.9 1022.8,1228.2 1025.0,1228.2 1025.0,1216.2 1027.2,1216.2 1027.2,1220.3 1029.4,1220.3 1029.4,1227.5 1031.6,1227.5 1031.6,1232.0 1033.8,1232.0 1033.8,1214.6 1036.0,1214.6 1036.0,1197.2 1038.2,1197.2 1038.2,1198.7 1040.4,1198.7 1040.4,1203.6 1042.6,1203.6 1042.6,1208.5 1044.8,1208.5 1044.8,1212.3 1047.0,1212.3 1047.0,1218.8 1049.2,1218.8 1049.2,1225.5 1051.4,1225.5 1051.4,1231.8 1053.6,1231.8 1053.6,1241.8 1055.8,1241.8 1055.8,1245.9 1058.0,1245.9 1058.0,1250.8 1060.2,1250.8 1060.2,1256.3 1062.4,1256.3 1062.4,1256.3 1064.6,1256.3 1064.6,1273.1 1066.8,1273.1 1066.8,1296.1 1069.0,1296.1 1069.0,1308.1 1071.2,1308.1 1071.2,1293.0 1073.4,1293.0 1073.4,1280.0 1075.6,1280.0 1075.6,1270.1 1077.8,1270.1 1077.8,1272.7 1080.0,1272.7 1080.0,1276.4 1082.2,1276.4 1082.2,1281.5 1084.4,1281.5 1084.4,1288.0 1086.6,1288.0 1086.6,1287.5 1088.8,1287.5 1088.8,1289.3 1091.0,1289.3 1091.0,1293.6 1093.2,1293.6 1093.2,1300.9 1095.4,1300.9 1095.4,1309.5 1097.6,1309.5 1097.6,1319.7 1099.8,1319.7 1099.8,1330.8 1102.0,1330.8 1102.0,1329.1 1104.2,1329.1 1104.2,1328.2 1106.4,1328.2 1106.4,1325.5 1108.6,1325.5 1108.6,1322.0 1110.8,1322.0 1110.8,1318.7 1113.0,1318.7 1113.0,1316.8 1115.2,1316.8 1115.2,1312.9 1117.4,1312.9 1117.4,1306.0 1119.6,1306.0 1119.6,1302.5 1121.8,1302.5 1121.8,1298.6 1124.0,1298.6 1124.0,1298.7 1126.2,1298.7 1126.2,1307.3 1128.4,1307.3 1128.4,1313.3 1130.6,1313.3 1130.6,1322.5 1132.8,1322.5 1132.8,1342.1 1135.0,1342.1 1135.0,1357.9 1137.2,1357.9 1137.2,1350.9 1139.4,1350.9 1139.4,1347.4 1141.6,1347.4 1141.6,1332.6 1143.8,1332.6 1143.8,1324.9 1146.0,1324.9 1146.0,1326.9 1148.2,1326.9 1148.2,1329.6 1150.4,1329.6 1150.4,1330.3 1152.6,1330.3 1152.6,1334.9 1154.8,1334.9 1154.8,1336.0 1157.0,1336.0 1157.0,1338.7 1159.2,1338.7 1159.2,1345.3 1161.4,1345.3 1161.4,1352.5 1163.6,1352.5 1163.6,1355.1 1165.8,1355.1 1165.8,1347.2 1168.0,1347.2 1168.0,1342.9 1170.2,1342.9 1170.2,1337.4 1172.4,1337.4 1172.4,1330.0 1174.6,1330.0 1174.6,1320.4 1176.8,1320.4 1176.8,1330.8 1179.0,1330.8 1179.0,1339.2 1181.2,1339.2 1181.2,1352.9 1183.4,1352.9 1183.4,1338.7 1185.6,1338.7 1185.6,1328.7 1187.8,1328.7 1187.8,1315.5 1190.0,1315.5 1190.0,1321.9 1192.2,1321.9 1192.2,1329.2 1194.4,1329.2 1194.4,1337.4 1196.6,1337.4 1196.6,1349.5 1198.8,1349.5 1198.8,1357.4 1201.0,1357.4 1201.0,1357.0 1203.2,1357.0 1203.2,1346.8 1205.4,1346.8 1205.4,1337.5 1207.6,1337.5 1207.6,1330.1 1209.8,1330.1 1209.8,1333.9 1212.0,1333.9 1212.0,1340.0 1214.2,1340.0 1214.2,1346.5 1216.4,1346.5 1216.4,1341.9 1218.6,1341.9 1218.6,1342.3 1220.8,1342.3 1220.8,1335.1 1223.0,1335.1 1223.0,1330.9 1225.2,1330.9 1225.2,1330.1 1227.4,1330.1 1227.4,1329.0 1229.6,1329.0 1229.6,1322.4 1231.8,1322.4 1231.8,1319.7 1234.0,1319.7 1234.0,1314.4 1236.2,1314.4 1236.2,1311.4 1238.4,1311.4 1238.4,1307.8 1240.6,1307.8 1240.6,1304.7 1242.8,1304.7 1242.8,1304.3 1245.0,1304.3 1245.0,1299.5 1247.2,1299.5 1247.2,1297.5 1249.4,1297.5 1249.4,1292.0 1251.6,1292.0 1251.6,1286.5 1253.8,1286.5 1253.8,1286.0 1256.0,1286.0 1256.0,1282.0 1258.2,1282.0 1258.2,1278.3 1260.4,1278.3 1260.4,1276.6 1262.6,1276.6 1262.6,1270.0 1264.8,1270.0 1264.8,1260.3 1267.0,1260.3 1267.0,1254.5 1269.2,1254.5 1269.2,1238.0 1271.4,1238.0 1271.4,1211.6 1273.6,1211.6 1273.6,1196.9 1275.8,1196.9 1275.8,1178.9 1278.0,1178.9 1278.0,1188.3 1280.2,1188.3 1280.2,1194.8 1282.4,1194.8 1282.4,1200.2 1284.6,1200.2 1284.6,1210.1 1286.8,1210.1 1286.8,1219.4 1289.0,1219.4 1289.0,1222.6 1291.2,1222.6 1291.2,1216.9 1293.4,1216.9 1293.4,1213.4 1295.6,1213.4 1295.6,1207.7 1297.8,1207.7 1297.8,1206.3 1300.0,1206.3 1300.0,1203.2 1302.2,1203.2 1302.2,1199.5 1304.4,1199.5 1304.4,1198.4 1306.6,1198.4 1306.6,1193.7 1308.8,1193.7 1308.8,1184.0 1311.0,1184.0 1311.0,1168.6 1313.2,1168.6 1313.2,1172.2 1315.4,1172.2 1315.4,1176.7 1317.6,1176.7 1317.6,1185.4 1319.8,1185.4 1319.8,1181.3 1322.0,1181.3 1322.0,1175.9 1324.2,1175.9 1324.2,1169.6 1326.4,1169.6 1326.4,1173.3 1328.6,1173.3 1328.6,1176.5 1330.8,1176.5 1330.8,1178.9 1333.0,1178.9 1333.0,1163.0 1335.2,1163.0 1335.2,1151.5 1337.4,1151.5 1337.4,1151.5 1339.6,1151.5 1339.6,1150.1 1341.8,1150.1 1341.8,1154.8 1344.0,1154.8 1344.0,1138.1 1346.2,1138.1 1346.2,1120.1 1348.4,1120.1 1348.4,1125.1 1350.6,1125.1 1350.6,1136.7 1352.8,1136.7 1352.8,1145.5 1355.0,1145.5 1355.0,1143.8 1357.2,1143.8 1357.2,1153.9 1359.4,1153.9 1359.4,1156.7 1361.6,1156.7 1361.6,1163.8 1363.8,1163.8 1363.8,1161.2 1366.0,1161.2 1366.0,1162.2 1368.2,1162.2 1368.2,1163.3 1370.4,1163.3 1370.4,1166.7 1372.6,1166.7 1372.6,1175.8 1374.8,1175.8 1374.8,1182.6 1377.0,1182.6 1377.0,1178.3 1379.2,1178.3 1379.2,1173.5 1381.4,1173.5 1381.4,1169.5 1383.6,1169.5 1383.6,1166.6 1385.8,1166.6 1385.8,1159.8 1388.0,1159.8 1388.0,1152.2 1390.2,1152.2 1390.2,1162.1 1392.4,1162.1 1392.4,1165.9 1394.6,1165.9 1394.6,1174.5 1396.8,1174.5 1396.8,1182.6 1399.0,1182.6 1399.0,1191.6 1401.2,1191.6 1401.2,1201.0 1403.4,1201.0 1403.4,1203.8 1405.6,1203.8 1405.6,1212.4 1407.8,1212.4 1407.8,1222.9 1410.0,1222.9 1410.0,1232.0 1412.2,1232.0 1412.2,1225.2 1414.4,1225.2 1414.4,1218.6 1416.6,1218.6 1416.6,1208.4 1418.8,1208.4 1418.8,1203.8 1421.0,1203.8 1421.0,1197.4 1423.2,1197.4 1423.2,1191.9 1425.4,1191.9 1425.4,1187.5 1427.6,1187.5 1427.6,1192.3 1429.8,1192.3 1429.8,1195.4 1432.0,1195.4 1432.0,1202.0 1434.2,1202.0 1434.2,1210.3 1436.4,1210.3 1436.4,1213.2 1438.6,1213.2 1438.6,1218.7 1440.8,1218.7 1440.8,1219.0 1443.0,1219.0 1443.0,1219.0 1445.2,1219.0 1445.2,1215.4 1447.4,1215.4 1447.4,1220.4 1449.6,1220.4 1449.6,1231.4 1451.8,1231.4 1451.8,1238.4 1454.0,1238.4 1454.0,1249.6 1456.2,1249.6 1456.2,1264.2 1458.4,1264.2 1458.4,1276.3 1460.6,1276.3 1460.6,1277.4 1462.8,1277.4 1462.8,1265.2 1465.0,1265.2 1465.0,1251.8 1467.2,1251.8 1467.2,1247.2 1469.4,1247.2 1469.4,1250.2 1471.6,1250.2 1471.6,1256.8 1473.8,1256.8 1473.8,1257.1 1476.0,1257.1 1476.0,1255.5 1478.2,1255.5 1478.2,1253.1 1480.4,1253.1 1480.4,1247.8 1482.6,1247.8 1482.6,1242.7 1484.8,1242.7 1484.8,1252.9 1487.0,1252.9 1487.0,1257.3 1489.2,1257.3 1489.2,1270.0 1491.4,1270.0 1491.4,1262.0 1493.6,1262.0 1493.6,1250.4 1495.8,1250.4 1495.8,1237.2 1498.0,1237.2 1498.0,1235.1 1500.2,1235.1 1500.2,1238.2 1502.4,1238.2 1502.4,1243.6 1504.6,1243.6 1504.6,1234.1 1506.8,1234.1 1506.8,1218.5 1509.0,1218.5 1509.0,1213.1 1511.2,1213.1 1511.2,1224.5 1513.4,1224.5 1513.4,1238.4 1515.6,1238.4 1515.6,1249.7 1517.8,1249.7 1517.8,1247.6 1520.0,1247.6 1520.0,1238.9 1522.2,1238.9 1522.2,1233.5 1524.4,1233.5 1524.4,1227.9 1526.6,1227.9 1526.6,1221.4 1528.8,1221.4 1528.8,1222.0 1531.0,1222.0 1531.0,1208.8 1533.2,1208.8 1533.2,1199.0 1535.4,1199.0 1535.4,1203.2 1537.6,1203.2 1537.6,1208.6 1539.8,1208.6 1539.8,1211.7 1542.0,1211.7 1542.0,1210.5 1544.2,1210.5 1544.2,1209.1 1546.4,1209.1 1546.4,1206.3 1548.6,1206.3 1548.6,1203.9 1550.8,1203.9 1550.8,1208.3 1553.0,1208.3 1553.0,1211.4 1555.2,1211.4 1555.2,1217.1 1557.4,1217.1 1557.4,1225.9 1559.6,1225.9 1559.6,1234.5 1561.8,1234.5 1561.8,1242.2 1564.0,1242.2 1564.0,1250.6 1566.2,1250.6 1566.2,1252.2 1568.4,1252.2 1568.4,1255.0 1570.6,1255.0 1570.6,1259.8 1572.8,1259.8 1572.8,1262.5 1575.0,1262.5 1575.0,1264.0 1577.2,1264.0 1577.2,1252.7 1579.4,1252.7 1579.4,1240.1 1581.6,1240.1 1581.6,1237.3 1583.8,1237.3 1583.8,1241.6 1586.0,1241.6 1586.0,1245.2 1588.2,1245.2 1588.2,1249.7 1590.4,1249.7 1590.4,1235.8 1592.6,1235.8 1592.6,1221.4 1594.8,1221.4 1594.8,1204.5 1597.0,1204.5 1597.0,1195.5 1599.2,1195.5 1599.2,1185.9 1601.4,1185.9 1601.4,1192.2 1603.6,1192.2 1603.6,1198.3 1605.8,1198.3 1605.8,1209.9 1608.0,1209.9 1608.0,1217.7 1610.2,1217.7 1610.2,1211.7 1612.4,1211.7 1612.4,1207.9 1614.6,1207.9 1614.6,1201.1 1616.8,1201.1 1616.8,1202.3 1619.0,1202.3 1619.0,1208.6 1621.2,1208.6 1621.2,1221.9 1623.4,1221.9 1623.4,1234.1 1625.6,1234.1 1625.6,1235.5 1627.8,1235.5 1627.8,1228.7 1630.0,1228.7 1630.0,1224.2 1632.2,1224.2 1632.2,1227.5 1634.4,1227.5 1634.4,1231.6 1636.6,1231.6 1636.6,1234.6 1638.8,1234.6 1638.8,1236.7 1641.0,1236.7 1641.0,1242.5 1643.2,1242.5 1643.2,1254.5 1645.4,1254.5 1645.4,1262.0 1647.6,1262.0 1647.6,1266.8 1649.8,1266.8 1649.8,1249.2 1652.0,1249.2 1652.0,1232.9 1654.2,1232.9 1654.2,1220.9 1656.4,1220.9 1656.4,1226.2 1658.6,1226.2 1658.6,1235.1 1660.8,1235.1 1660.8,1237.1 1663.0,1237.1 1663.0,1239.9 1665.2,1239.9 1665.2,1240.0 1667.4,1240.0 1667.4,1243.7 1669.6,1243.7 1669.6,1245.3 1671.8,1245.3 1671.8,1237.1 1674.0,1237.1 1674.0,1229.8 1676.2,1229.8 1676.2,1226.6 1678.4,1226.6 1678.4,1222.1 1680.6,1222.1 1680.6,1214.3 1682.8,1214.3 1682.8,1210.9" fill="none" stroke="#4aa0dd" stroke-width="3.8" stroke-linejoin="miter" stroke-linecap="butt" />
<polyline points="266.0,1417.6 268.2,1417.6 268.2,1423.0 270.4,1423.0 270.4,1430.8 272.6,1430.8 272.6,1431.4 274.8,1431.4 274.8,1436.6 277.0,1436.6 277.0,1439.1 279.2,1439.1 279.2,1442.7 281.4,1442.7 281.4,1442.7 283.6,1442.7 283.6,1436.7 285.8,1436.7 285.8,1431.6 288.0,1431.6 288.0,1434.2 290.2,1434.2 290.2,1438.7 292.4,1438.7 292.4,1441.5 294.6,1441.5 294.6,1443.5 296.8,1443.5 296.8,1449.8 299.0,1449.8 299.0,1452.4 301.2,1452.4 301.2,1454.2 303.4,1454.2 303.4,1457.0 305.6,1457.0 305.6,1453.9 307.8,1453.9 307.8,1442.8 310.0,1442.8 310.0,1429.8 312.2,1429.8 312.2,1431.4 314.4,1431.4 314.4,1426.8 316.6,1426.8 316.6,1429.0 318.8,1429.0 318.8,1426.6 321.0,1426.6 321.0,1425.1 323.2,1425.1 323.2,1418.0 325.4,1418.0 325.4,1409.2 327.6,1409.2 327.6,1404.7 329.8,1404.7 329.8,1400.9 332.0,1400.9 332.0,1394.2 334.2,1394.2 334.2,1387.8 336.4,1387.8 336.4,1391.3 338.6,1391.3 338.6,1397.5 340.8,1397.5 340.8,1411.9 343.0,1411.9 343.0,1420.5 345.2,1420.5 345.2,1427.5 347.4,1427.5 347.4,1433.0 349.6,1433.0 349.6,1433.7 351.8,1433.7 351.8,1431.4 354.0,1431.4 354.0,1429.9 356.2,1429.9 356.2,1424.2 358.4,1424.2 358.4,1417.1 360.6,1417.1 360.6,1412.4 362.8,1412.4 362.8,1421.6 365.0,1421.6 365.0,1435.7 367.2,1435.7 367.2,1442.9 369.4,1442.9 369.4,1434.2 371.6,1434.2 371.6,1425.6 373.8,1425.6 373.8,1432.6 376.0,1432.6 376.0,1434.5 378.2,1434.5 378.2,1432.5 380.4,1432.5 380.4,1429.6 382.6,1429.6 382.6,1420.1 384.8,1420.1 384.8,1411.0 387.0,1411.0 387.0,1402.5 389.2,1402.5 389.2,1399.6 391.4,1399.6 391.4,1405.7 393.6,1405.7 393.6,1413.9 395.8,1413.9 395.8,1415.4 398.0,1415.4 398.0,1420.8 400.2,1420.8 400.2,1417.7 402.4,1417.7 402.4,1418.6 404.6,1418.6 404.6,1416.1 406.8,1416.1 406.8,1417.0 409.0,1417.0 409.0,1403.4 411.2,1403.4 411.2,1383.3 413.4,1383.3 413.4,1370.3 415.6,1370.3 415.6,1369.9 417.8,1369.9 417.8,1372.1 420.0,1372.1 420.0,1380.1 422.2,1380.1 422.2,1378.6 424.4,1378.6 424.4,1376.6 426.6,1376.6 426.6,1373.4 428.8,1373.4 428.8,1374.7 431.0,1374.7 431.0,1380.9 433.2,1380.9 433.2,1386.6 435.4,1386.6 435.4,1394.1 437.6,1394.1 437.6,1404.2 439.8,1404.2 439.8,1416.8 442.0,1416.8 442.0,1420.6 444.2,1420.6 444.2,1427.3 446.4,1427.3 446.4,1434.2 448.6,1434.2 448.6,1428.2 450.8,1428.2 450.8,1425.3 453.0,1425.3 453.0,1419.0 455.2,1419.0 455.2,1413.4 457.4,1413.4 457.4,1405.1 459.6,1405.1 459.6,1403.2 461.8,1403.2 461.8,1399.9 464.0,1399.9 464.0,1394.8 466.2,1394.8 466.2,1385.8 468.4,1385.8 468.4,1382.2 470.6,1382.2 470.6,1387.4 472.8,1387.4 472.8,1404.5 475.0,1404.5 475.0,1420.7 477.2,1420.7 477.2,1425.9 479.4,1425.9 479.4,1434.4 481.6,1434.4 481.6,1437.3 483.8,1437.3 483.8,1443.2 486.0,1443.2 486.0,1451.2 488.2,1451.2 488.2,1452.1 490.4,1452.1 490.4,1462.7 492.6,1462.7 492.6,1471.3 494.8,1471.3 494.8,1472.2 497.0,1472.2 497.0,1465.4 499.2,1465.4 499.2,1464.9 501.4,1464.9 501.4,1463.9 503.6,1463.9 503.6,1460.7 505.8,1460.7 505.8,1462.1 508.0,1462.1 508.0,1468.2 510.2,1468.2 510.2,1475.7 512.4,1475.7 512.4,1477.6 514.6,1477.6 514.6,1484.2 516.8,1484.2 516.8,1489.4 519.0,1489.4 519.0,1483.4 521.2,1483.4 521.2,1481.9 523.4,1481.9 523.4,1477.3 525.6,1477.3 525.6,1478.9 527.8,1478.9 527.8,1475.8 530.0,1475.8 530.0,1469.9 532.2,1469.9 532.2,1465.0 534.4,1465.0 534.4,1458.7 536.6,1458.7 536.6,1450.4 538.8,1450.4 538.8,1446.8 541.0,1446.8 541.0,1443.3 543.2,1443.3 543.2,1444.7 545.4,1444.7 545.4,1451.6 547.6,1451.6 547.6,1454.5 549.8,1454.5 549.8,1464.4 552.0,1464.4 552.0,1462.8 554.2,1462.8 554.2,1463.4 556.4,1463.4 556.4,1460.3 558.6,1460.3 558.6,1454.3 560.8,1454.3 560.8,1455.3 563.0,1455.3 563.0,1459.3 565.2,1459.3 565.2,1459.0 567.4,1459.0 567.4,1457.1 569.6,1457.1 569.6,1458.3 571.8,1458.3 571.8,1460.8 574.0,1460.8 574.0,1464.4 576.2,1464.4 576.2,1461.1 578.4,1461.1 578.4,1458.3 580.6,1458.3 580.6,1454.1 582.8,1454.1 582.8,1451.1 585.0,1451.1 585.0,1445.0 587.2,1445.0 587.2,1450.2 589.4,1450.2 589.4,1463.0 591.6,1463.0 591.6,1480.5 593.8,1480.5 593.8,1477.6 596.0,1477.6 596.0,1470.4 598.2,1470.4 598.2,1463.0 600.4,1463.0 600.4,1468.2 602.6,1468.2 602.6,1478.6 604.8,1478.6 604.8,1485.3 607.0,1485.3 607.0,1491.9 609.2,1491.9 609.2,1488.4 611.4,1488.4 611.4,1489.1 613.6,1489.1 613.6,1494.7 615.8,1494.7 615.8,1492.9 618.0,1492.9 618.0,1494.2 620.2,1494.2 620.2,1500.3 622.4,1500.3 622.4,1496.8 624.6,1496.8 624.6,1491.7 626.8,1491.7 626.8,1486.6 629.0,1486.6 629.0,1478.2 631.2,1478.2 631.2,1476.1 633.4,1476.1 633.4,1476.6 635.6,1476.6 635.6,1474.5 637.8,1474.5 637.8,1475.2 640.0,1475.2 640.0,1473.5 642.2,1473.5 642.2,1474.6 644.4,1474.6 644.4,1465.2 646.6,1465.2 646.6,1458.8 648.8,1458.8 648.8,1451.9 651.0,1451.9 651.0,1445.1 653.2,1445.1 653.2,1454.3 655.4,1454.3 655.4,1456.3 657.6,1456.3 657.6,1463.2 659.8,1463.2 659.8,1464.6 662.0,1464.6 662.0,1467.7 664.2,1467.7 664.2,1468.4 666.4,1468.4 666.4,1473.6 668.6,1473.6 668.6,1479.7 670.8,1479.7 670.8,1478.8 673.0,1478.8 673.0,1480.7 675.2,1480.7 675.2,1483.5 677.4,1483.5 677.4,1483.2 679.6,1483.2 679.6,1479.9 681.8,1479.9 681.8,1474.6 684.0,1474.6 684.0,1477.5 686.2,1477.5 686.2,1487.8 688.4,1487.8 688.4,1496.2 690.6,1496.2 690.6,1500.0 692.8,1500.0 692.8,1502.1 695.0,1502.1 695.0,1506.1 697.2,1506.1 697.2,1508.9 699.4,1508.9 699.4,1510.0 701.6,1510.0 701.6,1509.2 703.8,1509.2 703.8,1509.6 706.0,1509.6 706.0,1503.2 708.2,1503.2 708.2,1508.3 710.4,1508.3 710.4,1512.3 712.6,1512.3 712.6,1517.4 714.8,1517.4 714.8,1524.4 717.0,1524.4 717.0,1521.3 719.2,1521.3 719.2,1511.1 721.4,1511.1 721.4,1503.0 723.6,1503.0 723.6,1489.3 725.8,1489.3 725.8,1469.6 728.0,1469.6 728.0,1451.5 730.2,1451.5 730.2,1453.6 732.4,1453.6 732.4,1450.8 734.6,1450.8 734.6,1450.2 736.8,1450.2 736.8,1458.7 739.0,1458.7 739.0,1468.2 741.2,1468.2 741.2,1467.5 743.4,1467.5 743.4,1467.4 745.6,1467.4 745.6,1467.5 747.8,1467.5 747.8,1460.9 750.0,1460.9 750.0,1464.2 752.2,1464.2 752.2,1466.1 754.4,1466.1 754.4,1464.9 756.6,1464.9 756.6,1457.2 758.8,1457.2 758.8,1443.2 761.0,1443.2 761.0,1435.6 763.2,1435.6 763.2,1430.8 765.4,1430.8 765.4,1425.6 767.6,1425.6 767.6,1420.9 769.8,1420.9 769.8,1417.0 772.0,1417.0 772.0,1416.1 774.2,1416.1 774.2,1412.9 776.4,1412.9 776.4,1412.3 778.6,1412.3 778.6,1408.5 780.8,1408.5 780.8,1410.5 783.0,1410.5 783.0,1400.8 785.2,1400.8 785.2,1396.4 787.4,1396.4 787.4,1388.1 789.6,1388.1 789.6,1381.3 791.8,1381.3 791.8,1372.8 794.0,1372.8 794.0,1367.0 796.2,1367.0 796.2,1360.7 798.4,1360.7 798.4,1356.2 800.6,1356.2 800.6,1353.8 802.8,1353.8 802.8,1343.1 805.0,1343.1 805.0,1340.8 807.2,1340.8 807.2,1333.9 809.4,1333.9 809.4,1322.5 811.6,1322.5 811.6,1318.0 813.8,1318.0 813.8,1307.0 816.0,1307.0 816.0,1297.0 818.2,1297.0 818.2,1295.0 820.4,1295.0 820.4,1292.6 822.6,1292.6 822.6,1285.8 824.8,1285.8 824.8,1281.6 827.0,1281.6 827.0,1278.1 829.2,1278.1 829.2,1281.6 831.4,1281.6 831.4,1277.8 833.6,1277.8 833.6,1278.0 835.8,1278.0 835.8,1276.8 838.0,1276.8 838.0,1279.4 840.2,1279.4 840.2,1281.7 842.4,1281.7 842.4,1280.0 844.6,1280.0 844.6,1282.3 846.8,1282.3 846.8,1278.1 849.0,1278.1 849.0,1274.7 851.2,1274.7 851.2,1270.7 853.4,1270.7 853.4,1266.0 855.6,1266.0 855.6,1256.8 857.8,1256.8 857.8,1254.5 860.0,1254.5 860.0,1249.4 862.2,1249.4 862.2,1243.5 864.4,1243.5 864.4,1248.4 866.6,1248.4 866.6,1251.6 868.8,1251.6 868.8,1252.3 871.0,1252.3 871.0,1257.8 873.2,1257.8 873.2,1262.7 875.4,1262.7 875.4,1265.5 877.6,1265.5 877.6,1276.6 879.8,1276.6 879.8,1286.3 882.0,1286.3 882.0,1295.7 884.2,1295.7 884.2,1297.1 886.4,1297.1 886.4,1293.4 888.6,1293.4 888.6,1288.9 890.8,1288.9 890.8,1288.5 893.0,1288.5 893.0,1286.9 895.2,1286.9 895.2,1283.8 897.4,1283.8 897.4,1282.7 899.6,1282.7 899.6,1276.8 901.8,1276.8 901.8,1277.2 904.0,1277.2 904.0,1272.9 906.2,1272.9 906.2,1277.9 908.4,1277.9 908.4,1282.9 910.6,1282.9 910.6,1284.4 912.8,1284.4 912.8,1286.6 915.0,1286.6 915.0,1290.9 917.2,1290.9 917.2,1294.4 919.4,1294.4 919.4,1296.3 921.6,1296.3 921.6,1301.8 923.8,1301.8 923.8,1305.1 926.0,1305.1 926.0,1309.8 928.2,1309.8 928.2,1309.1 930.4,1309.1 930.4,1306.7 932.6,1306.7 932.6,1302.2 934.8,1302.2 934.8,1300.3 937.0,1300.3 937.0,1302.7 939.2,1302.7 939.2,1299.5 941.4,1299.5 941.4,1305.3 943.6,1305.3 943.6,1309.9 945.8,1309.9 945.8,1313.2 948.0,1313.2 948.0,1304.6 950.2,1304.6 950.2,1300.0 952.4,1300.0 952.4,1292.0 954.6,1292.0 954.6,1285.6 956.8,1285.6 956.8,1277.6 959.0,1277.6 959.0,1273.0 961.2,1273.0 961.2,1262.0 963.4,1262.0 963.4,1256.7 965.6,1256.7 965.6,1251.6 967.8,1251.6 967.8,1246.4 970.0,1246.4 970.0,1242.8 972.2,1242.8 972.2,1251.2 974.4,1251.2 974.4,1258.0 976.6,1258.0 976.6,1258.3 978.8,1258.3 978.8,1258.6 981.0,1258.6 981.0,1261.8 983.2,1261.8 983.2,1259.9 985.4,1259.9 985.4,1259.8 987.6,1259.8 987.6,1264.9 989.8,1264.9 989.8,1272.3 992.0,1272.3 992.0,1274.2 994.2,1274.2 994.2,1276.9 996.4,1276.9 996.4,1277.0 998.6,1277.0 998.6,1276.9 1000.8,1276.9 1000.8,1275.0 1003.0,1275.0 1003.0,1274.2 1005.2,1274.2 1005.2,1276.5 1007.4,1276.5 1007.4,1274.7 1009.6,1274.7 1009.6,1283.1 1011.8,1283.1 1011.8,1291.2 1014.0,1291.2 1014.0,1295.0 1016.2,1295.0 1016.2,1301.1 1018.4,1301.1 1018.4,1297.1 1020.6,1297.1 1020.6,1287.6 1022.8,1287.6 1022.8,1278.6 1025.0,1278.6 1025.0,1266.8 1027.2,1266.8 1027.2,1265.9 1029.4,1265.9 1029.4,1268.9 1031.6,1268.9 1031.6,1266.9 1033.8,1266.9 1033.8,1262.3 1036.0,1262.3 1036.0,1257.4 1038.2,1257.4 1038.2,1259.6 1040.4,1259.6 1040.4,1265.5 1042.6,1265.5 1042.6,1273.1 1044.8,1273.1 1044.8,1276.7 1047.0,1276.7 1047.0,1280.7 1049.2,1280.7 1049.2,1283.1 1051.4,1283.1 1051.4,1287.0 1053.6,1287.0 1053.6,1292.3 1055.8,1292.3 1055.8,1295.7 1058.0,1295.7 1058.0,1303.7 1060.2,1303.7 1060.2,1311.0 1062.4,1311.0 1062.4,1316.7 1064.6,1316.7 1064.6,1319.7 1066.8,1319.7 1066.8,1326.1 1069.0,1326.1 1069.0,1336.1 1071.2,1336.1 1071.2,1343.9 1073.4,1343.9 1073.4,1335.1 1075.6,1335.1 1075.6,1328.7 1077.8,1328.7 1077.8,1318.4 1080.0,1318.4 1080.0,1323.1 1082.2,1323.1 1082.2,1323.9 1084.4,1323.9 1084.4,1328.7 1086.6,1328.7 1086.6,1333.0 1088.8,1333.0 1088.8,1340.5 1091.0,1340.5 1091.0,1352.1 1093.2,1352.1 1093.2,1355.6 1095.4,1355.6 1095.4,1358.9 1097.6,1358.9 1097.6,1364.2 1099.8,1364.2 1099.8,1371.1 1102.0,1371.1 1102.0,1369.1 1104.2,1369.1 1104.2,1365.0 1106.4,1365.0 1106.4,1364.0 1108.6,1364.0 1108.6,1361.2 1110.8,1361.2 1110.8,1364.5 1113.0,1364.5 1113.0,1360.8 1115.2,1360.8 1115.2,1359.8 1117.4,1359.8 1117.4,1353.4 1119.6,1353.4 1119.6,1348.1 1121.8,1348.1 1121.8,1343.6 1124.0,1343.6 1124.0,1341.4 1126.2,1341.4 1126.2,1346.4 1128.4,1346.4 1128.4,1351.1 1130.6,1351.1 1130.6,1357.6 1132.8,1357.6 1132.8,1363.1 1135.0,1363.1 1135.0,1362.8 1137.2,1362.8 1137.2,1363.8 1139.4,1363.8 1139.4,1363.0 1141.6,1363.0 1141.6,1360.4 1143.8,1360.4 1143.8,1358.0 1146.0,1358.0 1146.0,1361.0 1148.2,1361.0 1148.2,1364.9 1150.4,1364.9 1150.4,1365.8 1152.6,1365.8 1152.6,1369.6 1154.8,1369.6 1154.8,1371.8 1157.0,1371.8 1157.0,1372.4 1159.2,1372.4 1159.2,1374.8 1161.4,1374.8 1161.4,1379.7 1163.6,1379.7 1163.6,1375.7 1165.8,1375.7 1165.8,1368.0 1168.0,1368.0 1168.0,1368.0 1170.2,1368.0 1170.2,1367.0 1172.4,1367.0 1172.4,1363.4 1174.6,1363.4 1174.6,1361.0 1176.8,1361.0 1176.8,1360.4 1179.0,1360.4 1179.0,1358.5 1181.2,1358.5 1181.2,1366.2 1183.4,1366.2 1183.4,1366.9 1185.6,1366.9 1185.6,1370.1 1187.8,1370.1 1187.8,1369.1 1190.0,1369.1 1190.0,1371.5 1192.2,1371.5 1192.2,1372.2 1194.4,1372.2 1194.4,1376.3 1196.6,1376.3 1196.6,1381.0 1198.8,1381.0 1198.8,1382.9 1201.0,1382.9 1201.0,1388.1 1203.2,1388.1 1203.2,1386.9 1205.4,1386.9 1205.4,1381.8 1207.6,1381.8 1207.6,1380.3 1209.8,1380.3 1209.8,1380.3 1212.0,1380.3 1212.0,1378.0 1214.2,1378.0 1214.2,1377.8 1216.4,1377.8 1216.4,1375.5 1218.6,1375.5 1218.6,1374.3 1220.8,1374.3 1220.8,1368.4 1223.0,1368.4 1223.0,1366.5 1225.2,1366.5 1225.2,1367.8 1227.4,1367.8 1227.4,1367.7 1229.6,1367.7 1229.6,1363.5 1231.8,1363.5 1231.8,1360.1 1234.0,1360.1 1234.0,1360.1 1236.2,1360.1 1236.2,1356.5 1238.4,1356.5 1238.4,1358.8 1240.6,1358.8 1240.6,1353.3 1242.8,1353.3 1242.8,1356.3 1245.0,1356.3 1245.0,1351.5 1247.2,1351.5 1247.2,1351.3 1249.4,1351.3 1249.4,1346.9 1251.6,1346.9 1251.6,1342.2 1253.8,1342.2 1253.8,1342.8 1256.0,1342.8 1256.0,1335.9 1258.2,1335.9 1258.2,1331.8 1260.4,1331.8 1260.4,1327.0 1262.6,1327.0 1262.6,1318.1 1264.8,1318.1 1264.8,1314.7 1267.0,1314.7 1267.0,1310.9 1269.2,1310.9 1269.2,1304.8 1271.4,1304.8 1271.4,1271.8 1273.6,1271.8 1273.6,1261.7 1275.8,1261.7 1275.8,1264.2 1278.0,1264.2 1278.0,1271.5 1280.2,1271.5 1280.2,1274.7 1282.4,1274.7 1282.4,1274.5 1284.6,1274.5 1284.6,1280.6 1286.8,1280.6 1286.8,1286.7 1289.0,1286.7 1289.0,1283.3 1291.2,1283.3 1291.2,1283.3 1293.4,1283.3 1293.4,1281.2 1295.6,1281.2 1295.6,1282.2 1297.8,1282.2 1297.8,1281.5 1300.0,1281.5 1300.0,1273.4 1302.2,1273.4 1302.2,1268.3 1304.4,1268.3 1304.4,1266.4 1306.6,1266.4 1306.6,1258.7 1308.8,1258.7 1308.8,1257.4 1311.0,1257.4 1311.0,1259.3 1313.2,1259.3 1313.2,1262.3 1315.4,1262.3 1315.4,1261.7 1317.6,1261.7 1317.6,1269.1 1319.8,1269.1 1319.8,1270.6 1322.0,1270.6 1322.0,1271.6 1324.2,1271.6 1324.2,1270.4 1326.4,1270.4 1326.4,1271.3 1328.6,1271.3 1328.6,1271.4 1330.8,1271.4 1330.8,1272.1 1333.0,1272.1 1333.0,1257.1 1335.2,1257.1 1335.2,1245.1 1337.4,1245.1 1337.4,1246.6 1339.6,1246.6 1339.6,1245.1 1341.8,1245.1 1341.8,1250.6 1344.0,1250.6 1344.0,1242.1 1346.2,1242.1 1346.2,1228.3 1348.4,1228.3 1348.4,1230.5 1350.6,1230.5 1350.6,1237.1 1352.8,1237.1 1352.8,1245.3 1355.0,1245.3 1355.0,1245.6 1357.2,1245.6 1357.2,1251.3 1359.4,1251.3 1359.4,1252.3 1361.6,1252.3 1361.6,1262.7 1363.8,1262.7 1363.8,1262.1 1366.0,1262.1 1366.0,1264.7 1368.2,1264.7 1368.2,1263.5 1370.4,1263.5 1370.4,1264.9 1372.6,1264.9 1372.6,1271.3 1374.8,1271.3 1374.8,1276.0 1377.0,1276.0 1377.0,1274.9 1379.2,1274.9 1379.2,1269.5 1381.4,1269.5 1381.4,1267.8 1383.6,1267.8 1383.6,1262.5 1385.8,1262.5 1385.8,1257.9 1388.0,1257.9 1388.0,1255.0 1390.2,1255.0 1390.2,1261.5 1392.4,1261.5 1392.4,1265.1 1394.6,1265.1 1394.6,1276.3 1396.8,1276.3 1396.8,1282.1 1399.0,1282.1 1399.0,1291.0 1401.2,1291.0 1401.2,1299.5 1403.4,1299.5 1403.4,1304.9 1405.6,1304.9 1405.6,1309.7 1407.8,1309.7 1407.8,1319.4 1410.0,1319.4 1410.0,1324.2 1412.2,1324.2 1412.2,1320.4 1414.4,1320.4 1414.4,1315.2 1416.6,1315.2 1416.6,1309.0 1418.8,1309.0 1418.8,1308.9 1421.0,1308.9 1421.0,1302.2 1423.2,1302.2 1423.2,1296.1 1425.4,1296.1 1425.4,1291.8 1427.6,1291.8 1427.6,1290.0 1429.8,1290.0 1429.8,1293.0 1432.0,1293.0 1432.0,1300.6 1434.2,1300.6 1434.2,1304.7 1436.4,1304.7 1436.4,1310.8 1438.6,1310.8 1438.6,1314.1 1440.8,1314.1 1440.8,1312.0 1443.0,1312.0 1443.0,1314.3 1445.2,1314.3 1445.2,1314.8 1447.4,1314.8 1447.4,1319.2 1449.6,1319.2 1449.6,1325.4 1451.8,1325.4 1451.8,1330.4 1454.0,1330.4 1454.0,1338.3 1456.2,1338.3 1456.2,1350.4 1458.4,1350.4 1458.4,1361.0 1460.6,1361.0 1460.6,1362.0 1462.8,1362.0 1462.8,1351.8 1465.0,1351.8 1465.0,1338.2 1467.2,1338.2 1467.2,1335.1 1469.4,1335.1 1469.4,1338.1 1471.6,1338.1 1471.6,1341.8 1473.8,1341.8 1473.8,1339.7 1476.0,1339.7 1476.0,1338.1 1478.2,1338.1 1478.2,1337.7 1480.4,1337.7 1480.4,1333.9 1482.6,1333.9 1482.6,1331.3 1484.8,1331.3 1484.8,1340.5 1487.0,1340.5 1487.0,1345.7 1489.2,1345.7 1489.2,1356.5 1491.4,1356.5 1491.4,1349.6 1493.6,1349.6 1493.6,1339.6 1495.8,1339.6 1495.8,1332.9 1498.0,1332.9 1498.0,1332.2 1500.2,1332.2 1500.2,1336.2 1502.4,1336.2 1502.4,1340.2 1504.6,1340.2 1504.6,1334.7 1506.8,1334.7 1506.8,1324.8 1509.0,1324.8 1509.0,1311.4 1511.2,1311.4 1511.2,1319.1 1513.4,1319.1 1513.4,1332.1 1515.6,1332.1 1515.6,1343.9 1517.8,1343.9 1517.8,1342.5 1520.0,1342.5 1520.0,1335.0 1522.2,1335.0 1522.2,1331.6 1524.4,1331.6 1524.4,1328.1 1526.6,1328.1 1526.6,1316.8 1528.8,1316.8 1528.8,1315.0 1531.0,1315.0 1531.0,1306.9 1533.2,1306.9 1533.2,1301.9 1535.4,1301.9 1535.4,1308.3 1537.6,1308.3 1537.6,1314.1 1539.8,1314.1 1539.8,1314.0 1542.0,1314.0 1542.0,1312.7 1544.2,1312.7 1544.2,1314.6 1546.4,1314.6 1546.4,1317.6 1548.6,1317.6 1548.6,1315.2 1550.8,1315.2 1550.8,1318.5 1553.0,1318.5 1553.0,1318.0 1555.2,1318.0 1555.2,1322.3 1557.4,1322.3 1557.4,1329.5 1559.6,1329.5 1559.6,1337.4 1561.8,1337.4 1561.8,1340.4 1564.0,1340.4 1564.0,1347.7 1566.2,1347.7 1566.2,1350.1 1568.4,1350.1 1568.4,1350.2 1570.6,1350.2 1570.6,1353.8 1572.8,1353.8 1572.8,1356.1 1575.0,1356.1 1575.0,1353.8 1577.2,1353.8 1577.2,1347.8 1579.4,1347.8 1579.4,1339.5 1581.6,1339.5 1581.6,1333.6 1583.8,1333.6 1583.8,1329.8 1586.0,1329.8 1586.0,1329.8 1588.2,1329.8 1588.2,1332.3 1590.4,1332.3 1590.4,1329.9 1592.6,1329.9 1592.6,1324.3 1594.8,1324.3 1594.8,1311.9 1597.0,1311.9 1597.0,1305.8 1599.2,1305.8 1599.2,1297.4 1601.4,1297.4 1601.4,1301.4 1603.6,1301.4 1603.6,1303.5 1605.8,1303.5 1605.8,1310.7 1608.0,1310.7 1608.0,1319.5 1610.2,1319.5 1610.2,1318.3 1612.4,1318.3 1612.4,1314.8 1614.6,1314.8 1614.6,1312.9 1616.8,1312.9 1616.8,1317.0 1619.0,1317.0 1619.0,1317.1 1621.2,1317.1 1621.2,1325.6 1623.4,1325.6 1623.4,1335.4 1625.6,1335.4 1625.6,1337.6 1627.8,1337.6 1627.8,1338.2 1630.0,1338.2 1630.0,1335.8 1632.2,1335.8 1632.2,1334.9 1634.4,1334.9 1634.4,1338.2 1636.6,1338.2 1636.6,1342.3 1638.8,1342.3 1638.8,1343.6 1641.0,1343.6 1641.0,1349.8 1643.2,1349.8 1643.2,1354.6 1645.4,1354.6 1645.4,1360.9 1647.6,1360.9 1647.6,1362.2 1649.8,1362.2 1649.8,1350.0 1652.0,1350.0 1652.0,1340.1 1654.2,1340.1 1654.2,1330.5 1656.4,1330.5 1656.4,1336.5 1658.6,1336.5 1658.6,1341.2 1660.8,1341.2 1660.8,1343.7 1663.0,1343.7 1663.0,1344.9 1665.2,1344.9 1665.2,1345.6 1667.4,1345.6 1667.4,1344.5 1669.6,1344.5 1669.6,1344.2 1671.8,1344.2 1671.8,1339.8 1674.0,1339.8 1674.0,1336.7 1676.2,1336.7 1676.2,1332.8 1678.4,1332.8 1678.4,1328.5 1680.6,1328.5 1680.6,1321.8 1682.8,1321.8 1682.8,1323.3" fill="none" stroke="#58cc58" stroke-width="3.8" stroke-linejoin="miter" stroke-linecap="butt" />
<polyline points="266.0,1408.9 268.2,1408.9 268.2,1415.0 270.4,1415.0 270.4,1419.3 272.6,1419.3 272.6,1422.1 274.8,1422.1 274.8,1426.0 277.0,1426.0 277.0,1430.6 279.2,1430.6 279.2,1435.1 281.4,1435.1 281.4,1432.1 283.6,1432.1 283.6,1428.0 285.8,1428.0 285.8,1423.7 288.0,1423.7 288.0,1426.7 290.2,1426.7 290.2,1428.6 292.4,1428.6 292.4,1431.5 294.6,1431.5 294.6,1431.1 296.8,1431.1 296.8,1435.9 299.0,1435.9 299.0,1440.2 301.2,1440.2 301.2,1439.7 303.4,1439.7 303.4,1442.8 305.6,1442.8 305.6,1437.5 307.8,1437.5 307.8,1423.5 310.0,1423.5 310.0,1412.5 312.2,1412.5 312.2,1410.8 314.4,1410.8 314.4,1405.5 316.6,1405.5 316.6,1408.3 318.8,1408.3 318.8,1410.5 321.0,1410.5 321.0,1408.3 323.2,1408.3 323.2,1403.1 325.4,1403.1 325.4,1402.0 327.6,1402.0 327.6,1399.9 329.8,1399.9 329.8,1394.4 332.0,1394.4 332.0,1385.8 334.2,1385.8 334.2,1381.5 336.4,1381.5 336.4,1385.3 338.6,1385.3 338.6,1391.7 340.8,1391.7 340.8,1404.2 343.0,1404.2 343.0,1409.6 345.2,1409.6 345.2,1417.0 347.4,1417.0 347.4,1426.6 349.6,1426.6 349.6,1429.5 351.8,1429.5 351.8,1424.8 354.0,1424.8 354.0,1420.2 356.2,1420.2 356.2,1415.2 358.4,1415.2 358.4,1405.8 360.6,1405.8 360.6,1400.9 362.8,1400.9 362.8,1409.9 365.0,1409.9 365.0,1423.5 367.2,1423.5 367.2,1432.4 369.4,1432.4 369.4,1423.0 371.6,1423.0 371.6,1415.4 373.8,1415.4 373.8,1422.3 376.0,1422.3 376.0,1424.4 378.2,1424.4 378.2,1424.2 380.4,1424.2 380.4,1423.7 382.6,1423.7 382.6,1415.6 384.8,1415.6 384.8,1407.3 387.0,1407.3 387.0,1399.7 389.2,1399.7 389.2,1398.8 391.4,1398.8 391.4,1403.8 393.6,1403.8 393.6,1412.7 395.8,1412.7 395.8,1412.1 398.0,1412.1 398.0,1412.4 400.2,1412.4 400.2,1410.4 402.4,1410.4 402.4,1410.9 404.6,1410.9 404.6,1406.8 406.8,1406.8 406.8,1405.7 409.0,1405.7 409.0,1397.0 411.2,1397.0 411.2,1380.8 413.4,1380.8 413.4,1367.9 415.6,1367.9 415.6,1367.5 417.8,1367.5 417.8,1372.0 420.0,1372.0 420.0,1377.3 422.2,1377.3 422.2,1377.2 424.4,1377.2 424.4,1374.9 426.6,1374.9 426.6,1371.7 428.8,1371.7 428.8,1372.3 431.0,1372.3 431.0,1375.0 433.2,1375.0 433.2,1382.6 435.4,1382.6 435.4,1391.2 437.6,1391.2 437.6,1398.3 439.8,1398.3 439.8,1409.2 442.0,1409.2 442.0,1407.9 444.2,1407.9 444.2,1411.1 446.4,1411.1 446.4,1414.6 448.6,1414.6 448.6,1415.4 450.8,1415.4 450.8,1414.2 453.0,1414.2 453.0,1407.8 455.2,1407.8 455.2,1405.7 457.4,1405.7 457.4,1402.3 459.6,1402.3 459.6,1399.3 461.8,1399.3 461.8,1395.8 464.0,1395.8 464.0,1388.3 466.2,1388.3 466.2,1383.9 468.4,1383.9 468.4,1377.6 470.6,1377.6 470.6,1386.0 472.8,1386.0 472.8,1399.1 475.0,1399.1 475.0,1413.8 477.2,1413.8 477.2,1412.5 479.4,1412.5 479.4,1412.0 481.6,1412.0 481.6,1410.9 483.8,1410.9 483.8,1422.9 486.0,1422.9 486.0,1437.4 488.2,1437.4 488.2,1439.7 490.4,1439.7 490.4,1448.7 492.6,1448.7 492.6,1458.8 494.8,1458.8 494.8,1458.1 497.0,1458.1 497.0,1454.2 499.2,1454.2 499.2,1448.6 501.4,1448.6 501.4,1443.3 503.6,1443.3 503.6,1442.2 505.8,1442.2 505.8,1439.8 508.0,1439.8 508.0,1440.2 510.2,1440.2 510.2,1441.3 512.4,1441.3 512.4,1445.5 514.6,1445.5 514.6,1457.7 516.8,1457.7 516.8,1472.6 519.0,1472.6 519.0,1473.1 521.2,1473.1 521.2,1470.1 523.4,1470.1 523.4,1464.1 525.6,1464.1 525.6,1462.2 527.8,1462.2 527.8,1459.1 530.0,1459.1 530.0,1453.3 532.2,1453.3 532.2,1449.6 534.4,1449.6 534.4,1443.4 536.6,1443.4 536.6,1435.8 538.8,1435.8 538.8,1430.1 541.0,1430.1 541.0,1429.7 543.2,1429.7 543.2,1430.7 545.4,1430.7 545.4,1439.1 547.6,1439.1 547.6,1437.7 549.8,1437.7 549.8,1443.7 552.0,1443.7 552.0,1443.6 554.2,1443.6 554.2,1445.4 556.4,1445.4 556.4,1444.7 558.6,1444.7 558.6,1442.8 560.8,1442.8 560.8,1443.1 563.0,1443.1 563.0,1442.5 565.2,1442.5 565.2,1437.3 567.4,1437.3 567.4,1434.7 569.6,1434.7 569.6,1439.3 571.8,1439.3 571.8,1442.6 574.0,1442.6 574.0,1451.8 576.2,1451.8 576.2,1445.0 578.4,1445.0 578.4,1444.2 580.6,1444.2 580.6,1439.6 582.8,1439.6 582.8,1437.1 585.0,1437.1 585.0,1439.2 587.2,1439.2 587.2,1450.1 589.4,1450.1 589.4,1454.3 591.6,1454.3 591.6,1450.3 593.8,1450.3 593.8,1445.5 596.0,1445.5 596.0,1444.4 598.2,1444.4 598.2,1451.6 600.4,1451.6 600.4,1460.5 602.6,1460.5 602.6,1466.8 604.8,1466.8 604.8,1472.6 607.0,1472.6 607.0,1469.4 609.2,1469.4 609.2,1469.2 611.4,1469.2 611.4,1466.1 613.6,1466.1 613.6,1467.2 615.8,1467.2 615.8,1467.2 618.0,1467.2 618.0,1466.5 620.2,1466.5 620.2,1471.4 622.4,1471.4 622.4,1473.7 624.6,1473.7 624.6,1470.5 626.8,1470.5 626.8,1472.0 629.0,1472.0 629.0,1472.5 631.2,1472.5 631.2,1462.1 633.4,1462.1 633.4,1460.1 635.6,1460.1 635.6,1459.5 637.8,1459.5 637.8,1457.9 640.0,1457.9 640.0,1455.7 642.2,1455.7 642.2,1456.2 644.4,1456.2 644.4,1452.5 646.6,1452.5 646.6,1446.6 648.8,1446.6 648.8,1434.7 651.0,1434.7 651.0,1428.2 653.2,1428.2 653.2,1438.0 655.4,1438.0 655.4,1441.0 657.6,1441.0 657.6,1445.6 659.8,1445.6 659.8,1450.4 662.0,1450.4 662.0,1453.1 664.2,1453.1 664.2,1455.8 666.4,1455.8 666.4,1460.1 668.6,1460.1 668.6,1462.8 670.8,1462.8 670.8,1463.8 673.0,1463.8 673.0,1462.1 675.2,1462.1 675.2,1460.2 677.4,1460.2 677.4,1460.2 679.6,1460.2 679.6,1457.9 681.8,1457.9 681.8,1461.6 684.0,1461.6 684.0,1467.1 686.2,1467.1 686.2,1473.0 688.4,1473.0 688.4,1473.4 690.6,1473.4 690.6,1476.4 692.8,1476.4 692.8,1478.7 695.0,1478.7 695.0,1483.3 697.2,1483.3 697.2,1487.9 699.4,1487.9 699.4,1487.4 701.6,1487.4 701.6,1485.9 703.8,1485.9 703.8,1488.8 706.0,1488.8 706.0,1486.5 708.2,1486.5 708.2,1489.8 710.4,1489.8 710.4,1492.3 712.6,1492.3 712.6,1493.1 714.8,1493.1 714.8,1499.7 717.0,1499.7 717.0,1500.6 719.2,1500.6 719.2,1487.6 721.4,1487.6 721.4,1474.1 723.6,1474.1 723.6,1462.0 725.8,1462.0 725.8,1442.7 728.0,1442.7 728.0,1438.8 730.2,1438.8 730.2,1439.5 732.4,1439.5 732.4,1435.2 734.6,1435.2 734.6,1432.5 736.8,1432.5 736.8,1431.8 739.0,1431.8 739.0,1439.8 741.2,1439.8 741.2,1448.4 743.4,1448.4 743.4,1451.5 745.6,1451.5 745.6,1450.7 747.8,1450.7 747.8,1450.4 750.0,1450.4 750.0,1451.5 752.2,1451.5 752.2,1451.4 754.4,1451.4 754.4,1439.9 756.6,1439.9 756.6,1431.1 758.8,1431.1 758.8,1414.9 761.0,1414.9 761.0,1407.8 763.2,1407.8 763.2,1405.7 765.4,1405.7 765.4,1405.4 767.6,1405.4 767.6,1404.0 769.8,1404.0 769.8,1403.2 772.0,1403.2 772.0,1407.5 774.2,1407.5 774.2,1408.4 776.4,1408.4 776.4,1413.5 778.6,1413.5 778.6,1415.1 780.8,1415.1 780.8,1415.8 783.0,1415.8 783.0,1401.2 785.2,1401.2 785.2,1392.1 787.4,1392.1 787.4,1383.8 789.6,1383.8 789.6,1378.5 791.8,1378.5 791.8,1370.5 794.0,1370.5 794.0,1366.6 796.2,1366.6 796.2,1365.4 798.4,1365.4 798.4,1361.0 800.6,1361.0 800.6,1355.4 802.8,1355.4 802.8,1351.1 805.0,1351.1 805.0,1348.6 807.2,1348.6 807.2,1345.3 809.4,1345.3 809.4,1340.5 811.6,1340.5 811.6,1337.6 813.8,1337.6 813.8,1331.3 816.0,1331.3 816.0,1322.5 818.2,1322.5 818.2,1321.8 820.4,1321.8 820.4,1321.9 822.6,1321.9 822.6,1318.5 824.8,1318.5 824.8,1309.5 827.0,1309.5 827.0,1305.8 829.2,1305.8 829.2,1309.4 831.4,1309.4 831.4,1310.8 833.6,1310.8 833.6,1313.2 835.8,1313.2 835.8,1312.0 838.0,1312.0 838.0,1312.2 840.2,1312.2 840.2,1312.0 842.4,1312.0 842.4,1310.4 844.6,1310.4 844.6,1304.9 846.8,1304.9 846.8,1297.7 849.0,1297.7 849.0,1294.7 851.2,1294.7 851.2,1289.9 853.4,1289.9 853.4,1291.6 855.6,1291.6 855.6,1289.3 857.8,1289.3 857.8,1284.3 860.0,1284.3 860.0,1282.9 862.2,1282.9 862.2,1277.6 864.4,1277.6 864.4,1277.4 866.6,1277.4 866.6,1278.9 868.8,1278.9 868.8,1281.6 871.0,1281.6 871.0,1287.0 873.2,1287.0 873.2,1295.2 875.4,1295.2 875.4,1293.6 877.6,1293.6 877.6,1304.1 879.8,1304.1 879.8,1312.5 882.0,1312.5 882.0,1319.7 884.2,1319.7 884.2,1318.8 886.4,1318.8 886.4,1318.2 888.6,1318.2 888.6,1316.1 890.8,1316.1 890.8,1316.9 893.0,1316.9 893.0,1315.2 895.2,1315.2 895.2,1309.4 897.4,1309.4 897.4,1312.9 899.6,1312.9 899.6,1311.3 901.8,1311.3 901.8,1308.3 904.0,1308.3 904.0,1303.3 906.2,1303.3 906.2,1304.0 908.4,1304.0 908.4,1309.9 910.6,1309.9 910.6,1314.3 912.8,1314.3 912.8,1318.5 915.0,1318.5 915.0,1322.5 917.2,1322.5 917.2,1324.2 919.4,1324.2 919.4,1326.5 921.6,1326.5 921.6,1327.2 923.8,1327.2 923.8,1331.7 926.0,1331.7 926.0,1338.3 928.2,1338.3 928.2,1335.5 930.4,1335.5 930.4,1331.7 932.6,1331.7 932.6,1330.8 934.8,1330.8 934.8,1325.2 937.0,1325.2 937.0,1325.7 939.2,1325.7 939.2,1323.6 941.4,1323.6 941.4,1332.4 943.6,1332.4 943.6,1340.8 945.8,1340.8 945.8,1334.7 948.0,1334.7 948.0,1327.4 950.2,1327.4 950.2,1322.9 952.4,1322.9 952.4,1317.2 954.6,1317.2 954.6,1314.4 956.8,1314.4 956.8,1315.5 959.0,1315.5 959.0,1316.2 961.2,1316.2 961.2,1311.4 963.4,1311.4 963.4,1306.6 965.6,1306.6 965.6,1294.0 967.8,1294.0 967.8,1285.8 970.0,1285.8 970.0,1276.9 972.2,1276.9 972.2,1285.0 974.4,1285.0 974.4,1291.6 976.6,1291.6 976.6,1290.6 978.8,1290.6 978.8,1290.2 981.0,1290.2 981.0,1291.3 983.2,1291.3 983.2,1291.0 985.4,1291.0 985.4,1289.1 987.6,1289.1 987.6,1293.8 989.8,1293.8 989.8,1303.6 992.0,1303.6 992.0,1306.7 994.2,1306.7 994.2,1308.0 996.4,1308.0 996.4,1307.5 998.6,1307.5 998.6,1307.4 1000.8,1307.4 1000.8,1305.3 1003.0,1305.3 1003.0,1305.1 1005.2,1305.1 1005.2,1308.0 1007.4,1308.0 1007.4,1306.1 1009.6,1306.1 1009.6,1311.6 1011.8,1311.6 1011.8,1316.6 1014.0,1316.6 1014.0,1317.5 1016.2,1317.5 1016.2,1321.4 1018.4,1321.4 1018.4,1319.9 1020.6,1319.9 1020.6,1313.6 1022.8,1313.6 1022.8,1305.6 1025.0,1305.6 1025.0,1297.1 1027.2,1297.1 1027.2,1296.4 1029.4,1296.4 1029.4,1297.6 1031.6,1297.6 1031.6,1296.0 1033.8,1296.0 1033.8,1291.1 1036.0,1291.1 1036.0,1288.9 1038.2,1288.9 1038.2,1292.1 1040.4,1292.1 1040.4,1298.9 1042.6,1298.9 1042.6,1300.1 1044.8,1300.1 1044.8,1305.2 1047.0,1305.2 1047.0,1309.8 1049.2,1309.8 1049.2,1312.7 1051.4,1312.7 1051.4,1315.2 1053.6,1315.2 1053.6,1318.4 1055.8,1318.4 1055.8,1322.5 1058.0,1322.5 1058.0,1326.3 1060.2,1326.3 1060.2,1330.8 1062.4,1330.8 1062.4,1338.4 1064.6,1338.4 1064.6,1347.4 1066.8,1347.4 1066.8,1351.4 1069.0,1351.4 1069.0,1363.5 1071.2,1363.5 1071.2,1357.2 1073.4,1357.2 1073.4,1350.6 1075.6,1350.6 1075.6,1346.3 1077.8,1346.3 1077.8,1340.0 1080.0,1340.0 1080.0,1341.3 1082.2,1341.3 1082.2,1340.4 1084.4,1340.4 1084.4,1344.9 1086.6,1344.9 1086.6,1348.0 1088.8,1348.0 1088.8,1354.1 1091.0,1354.1 1091.0,1362.9 1093.2,1362.9 1093.2,1362.7 1095.4,1362.7 1095.4,1367.6 1097.6,1367.6 1097.6,1369.2 1099.8,1369.2 1099.8,1376.5 1102.0,1376.5 1102.0,1377.6 1104.2,1377.6 1104.2,1374.6 1106.4,1374.6 1106.4,1373.9 1108.6,1373.9 1108.6,1370.9 1110.8,1370.9 1110.8,1373.0 1113.0,1373.0 1113.0,1371.2 1115.2,1371.2 1115.2,1368.3 1117.4,1368.3 1117.4,1361.7 1119.6,1361.7 1119.6,1360.8 1121.8,1360.8 1121.8,1355.8 1124.0,1355.8 1124.0,1358.9 1126.2,1358.9 1126.2,1368.0 1128.4,1368.0 1128.4,1376.3 1130.6,1376.3 1130.6,1385.0 1132.8,1385.0 1132.8,1390.1 1135.0,1390.1 1135.0,1388.2 1137.2,1388.2 1137.2,1385.9 1139.4,1385.9 1139.4,1383.9 1141.6,1383.9 1141.6,1376.4 1143.8,1376.4 1143.8,1375.6 1146.0,1375.6 1146.0,1376.2 1148.2,1376.2 1148.2,1378.8 1150.4,1378.8 1150.4,1381.7 1152.6,1381.7 1152.6,1386.1 1154.8,1386.1 1154.8,1387.3 1157.0,1387.3 1157.0,1384.9 1159.2,1384.9 1159.2,1388.1 1161.4,1388.1 1161.4,1391.0 1163.6,1391.0 1163.6,1389.4 1165.8,1389.4 1165.8,1382.2 1168.0,1382.2 1168.0,1381.8 1170.2,1381.8 1170.2,1379.6 1172.4,1379.6 1172.4,1381.0 1174.6,1381.0 1174.6,1377.6 1176.8,1377.6 1176.8,1377.3 1179.0,1377.3 1179.0,1374.8 1181.2,1374.8 1181.2,1380.6 1183.4,1380.6 1183.4,1380.7 1185.6,1380.7 1185.6,1383.2 1187.8,1383.2 1187.8,1383.8 1190.0,1383.8 1190.0,1387.3 1192.2,1387.3 1192.2,1388.6 1194.4,1388.6 1194.4,1390.2 1196.6,1390.2 1196.6,1392.9 1198.8,1392.9 1198.8,1391.0 1201.0,1391.0 1201.0,1392.3 1203.2,1392.3 1203.2,1393.1 1205.4,1393.1 1205.4,1390.8 1207.6,1390.8 1207.6,1391.3 1209.8,1391.3 1209.8,1390.6 1212.0,1390.6 1212.0,1390.5 1214.2,1390.5 1214.2,1388.5 1216.4,1388.5 1216.4,1386.6 1218.6,1386.6 1218.6,1386.7 1220.8,1386.7 1220.8,1381.7 1223.0,1381.7 1223.0,1378.6 1225.2,1378.6 1225.2,1377.4 1227.4,1377.4 1227.4,1381.7 1229.6,1381.7 1229.6,1378.4 1231.8,1378.4 1231.8,1377.9 1234.0,1377.9 1234.0,1373.5 1236.2,1373.5 1236.2,1370.5 1238.4,1370.5 1238.4,1370.5 1240.6,1370.5 1240.6,1367.3 1242.8,1367.3 1242.8,1367.8 1245.0,1367.8 1245.0,1363.5 1247.2,1363.5 1247.2,1361.0 1249.4,1361.0 1249.4,1358.8 1251.6,1358.8 1251.6,1354.4 1253.8,1354.4 1253.8,1352.1 1256.0,1352.1 1256.0,1348.2 1258.2,1348.2 1258.2,1345.7 1260.4,1345.7 1260.4,1343.1 1262.6,1343.1 1262.6,1336.9 1264.8,1336.9 1264.8,1333.8 1267.0,1333.8 1267.0,1327.8 1269.2,1327.8 1269.2,1322.4 1271.4,1322.4 1271.4,1309.0 1273.6,1309.0 1273.6,1294.8 1275.8,1294.8 1275.8,1292.7 1278.0,1292.7 1278.0,1300.2 1280.2,1300.2 1280.2,1300.6 1282.4,1300.6 1282.4,1302.4 1284.6,1302.4 1284.6,1309.0 1286.8,1309.0 1286.8,1316.6 1289.0,1316.6 1289.0,1313.5 1291.2,1313.5 1291.2,1313.1 1293.4,1313.1 1293.4,1311.5 1295.6,1311.5 1295.6,1310.1 1297.8,1310.1 1297.8,1310.1 1300.0,1310.1 1300.0,1306.2 1302.2,1306.2 1302.2,1301.2 1304.4,1301.2 1304.4,1300.2 1306.6,1300.2 1306.6,1296.3 1308.8,1296.3 1308.8,1295.8 1311.0,1295.8 1311.0,1292.7 1313.2,1292.7 1313.2,1289.3 1315.4,1289.3 1315.4,1287.5 1317.6,1287.5 1317.6,1293.4 1319.8,1293.4 1319.8,1293.4 1322.0,1293.4 1322.0,1294.4 1324.2,1294.4 1324.2,1296.6 1326.4,1296.6 1326.4,1301.0 1328.6,1301.0 1328.6,1300.2 1330.8,1300.2 1330.8,1302.1 1333.0,1302.1 1333.0,1292.7 1335.2,1292.7 1335.2,1280.9 1337.4,1280.9 1337.4,1282.6 1339.6,1282.6 1339.6,1282.4 1341.8,1282.4 1341.8,1288.3 1344.0,1288.3 1344.0,1279.4 1346.2,1279.4 1346.2,1266.0 1348.4,1266.0 1348.4,1266.8 1350.6,1266.8 1350.6,1273.9 1352.8,1273.9 1352.8,1281.4 1355.0,1281.4 1355.0,1278.8 1357.2,1278.8 1357.2,1283.3 1359.4,1283.3 1359.4,1285.6 1361.6,1285.6 1361.6,1293.3 1363.8,1293.3 1363.8,1295.6 1366.0,1295.6 1366.0,1297.6 1368.2,1297.6 1368.2,1296.9 1370.4,1296.9 1370.4,1299.5 1372.6,1299.5 1372.6,1306.2 1374.8,1306.2 1374.8,1310.8 1377.0,1310.8 1377.0,1308.1 1379.2,1308.1 1379.2,1303.7 1381.4,1303.7 1381.4,1299.3 1383.6,1299.3 1383.6,1295.9 1385.8,1295.9 1385.8,1292.8 1388.0,1292.8 1388.0,1289.0 1390.2,1289.0 1390.2,1292.7 1392.4,1292.7 1392.4,1294.0 1394.6,1294.0 1394.6,1300.9 1396.8,1300.9 1396.8,1305.4 1399.0,1305.4 1399.0,1314.5 1401.2,1314.5 1401.2,1322.6 1403.4,1322.6 1403.4,1323.7 1405.6,1323.7 1405.6,1330.4 1407.8,1330.4 1407.8,1338.6 1410.0,1338.6 1410.0,1343.3 1412.2,1343.3 1412.2,1340.1 1414.4,1340.1 1414.4,1338.0 1416.6,1338.0 1416.6,1329.5 1418.8,1329.5 1418.8,1328.8 1421.0,1328.8 1421.0,1324.3 1423.2,1324.3 1423.2,1320.5 1425.4,1320.5 1425.4,1316.2 1427.6,1316.2 1427.6,1312.6 1429.8,1312.6 1429.8,1313.4 1432.0,1313.4 1432.0,1316.0 1434.2,1316.0 1434.2,1318.2 1436.4,1318.2 1436.4,1322.8 1438.6,1322.8 1438.6,1324.4 1440.8,1324.4 1440.8,1324.4 1443.0,1324.4 1443.0,1330.1 1445.2,1330.1 1445.2,1330.9 1447.4,1330.9 1447.4,1336.7 1449.6,1336.7 1449.6,1342.7 1451.8,1342.7 1451.8,1347.6 1454.0,1347.6 1454.0,1357.3 1456.2,1357.3 1456.2,1365.7 1458.4,1365.7 1458.4,1371.8 1460.6,1371.8 1460.6,1373.5 1462.8,1373.5 1462.8,1365.9 1465.0,1365.9 1465.0,1357.5 1467.2,1357.5 1467.2,1354.3 1469.4,1354.3 1469.4,1356.0 1471.6,1356.0 1471.6,1357.3 1473.8,1357.3 1473.8,1357.0 1476.0,1357.0 1476.0,1357.1 1478.2,1357.1 1478.2,1356.0 1480.4,1356.0 1480.4,1354.2 1482.6,1354.2 1482.6,1352.5 1484.8,1352.5 1484.8,1358.4 1487.0,1358.4 1487.0,1359.8 1489.2,1359.8 1489.2,1365.7 1491.4,1365.7 1491.4,1364.0 1493.6,1364.0 1493.6,1359.4 1495.8,1359.4 1495.8,1356.5 1498.0,1356.5 1498.0,1351.2 1500.2,1351.2 1500.2,1345.8 1502.4,1345.8 1502.4,1347.8 1504.6,1347.8 1504.6,1344.2 1506.8,1344.2 1506.8,1338.1 1509.0,1338.1 1509.0,1330.7 1511.2,1330.7 1511.2,1336.8 1513.4,1336.8 1513.4,1350.1 1515.6,1350.1 1515.6,1358.6 1517.8,1358.6 1517.8,1354.7 1520.0,1354.7 1520.0,1348.8 1522.2,1348.8 1522.2,1347.4 1524.4,1347.4 1524.4,1346.2 1526.6,1346.2 1526.6,1336.1 1528.8,1336.1 1528.8,1333.1 1531.0,1333.1 1531.0,1329.7 1533.2,1329.7 1533.2,1326.7 1535.4,1326.7 1535.4,1327.5 1537.6,1327.5 1537.6,1329.5 1539.8,1329.5 1539.8,1330.8 1542.0,1330.8 1542.0,1333.2 1544.2,1333.2 1544.2,1332.6 1546.4,1332.6 1546.4,1335.6 1548.6,1335.6 1548.6,1333.2 1550.8,1333.2 1550.8,1338.1 1553.0,1338.1 1553.0,1338.0 1555.2,1338.0 1555.2,1339.7 1557.4,1339.7 1557.4,1346.0 1559.6,1346.0 1559.6,1350.5 1561.8,1350.5 1561.8,1352.7 1564.0,1352.7 1564.0,1358.9 1566.2,1358.9 1566.2,1359.1 1568.4,1359.1 1568.4,1358.8 1570.6,1358.8 1570.6,1365.5 1572.8,1365.5 1572.8,1366.8 1575.0,1366.8 1575.0,1367.2 1577.2,1367.2 1577.2,1363.0 1579.4,1363.0 1579.4,1355.0 1581.6,1355.0 1581.6,1350.9 1583.8,1350.9 1583.8,1347.4 1586.0,1347.4 1586.0,1343.3 1588.2,1343.3 1588.2,1345.0 1590.4,1345.0 1590.4,1344.0 1592.6,1344.0 1592.6,1339.5 1594.8,1339.5 1594.8,1332.4 1597.0,1332.4 1597.0,1329.0 1599.2,1329.0 1599.2,1322.7 1601.4,1322.7 1601.4,1324.4 1603.6,1324.4 1603.6,1322.1 1605.8,1322.1 1605.8,1327.6 1608.0,1327.6 1608.0,1332.5 1610.2,1332.5 1610.2,1332.3 1612.4,1332.3 1612.4,1328.4 1614.6,1328.4 1614.6,1328.7 1616.8,1328.7 1616.8,1331.7 1619.0,1331.7 1619.0,1333.7 1621.2,1333.7 1621.2,1341.2 1623.4,1341.2 1623.4,1348.6 1625.6,1348.6 1625.6,1353.0 1627.8,1353.0 1627.8,1354.7 1630.0,1354.7 1630.0,1352.3 1632.2,1352.3 1632.2,1350.8 1634.4,1350.8 1634.4,1351.1 1636.6,1351.1 1636.6,1353.7 1638.8,1353.7 1638.8,1354.4 1641.0,1354.4 1641.0,1355.9 1643.2,1355.9 1643.2,1362.9 1645.4,1362.9 1645.4,1371.6 1647.6,1371.6 1647.6,1376.3 1649.8,1376.3 1649.8,1367.4 1652.0,1367.4 1652.0,1356.8 1654.2,1356.8 1654.2,1351.8 1656.4,1351.8 1656.4,1352.7 1658.6,1352.7 1658.6,1358.1 1660.8,1358.1 1660.8,1358.8 1663.0,1358.8 1663.0,1360.0 1665.2,1360.0 1665.2,1360.5 1667.4,1360.5 1667.4,1359.3 1669.6,1359.3 1669.6,1356.9 1671.8,1356.9 1671.8,1353.2 1674.0,1353.2 1674.0,1348.6 1676.2,1348.6 1676.2,1347.2 1678.4,1347.2 1678.4,1340.3 1680.6,1340.3 1680.6,1338.7 1682.8,1338.7 1682.8,1341.1" fill="none" stroke="#c38fe6" stroke-width="3.8" stroke-linejoin="miter" stroke-linecap="butt" />
</g>
<text x="0" y="0" font-size="57.5" text-anchor="end" font-weight="bold" transform="translate(240.3 1709.5) scale(1.025 1)" ><tspan font-weight="normal">-</tspan>0.06</text>
<text x="0" y="0" font-size="57.5" text-anchor="end" font-weight="bold" transform="translate(240.3 1614.1) scale(1.025 1)" ><tspan font-weight="normal">-</tspan>0.04</text>
<text x="0" y="0" font-size="57.5" text-anchor="end" font-weight="bold" transform="translate(240.3 1518.7) scale(1.025 1)" ><tspan font-weight="normal">-</tspan>0.02</text>
<text x="0" y="0" font-size="57.5" text-anchor="end" font-weight="bold" transform="translate(240.3 1423.3) scale(1.025 1)" >0.00</text>
<text x="0" y="0" font-size="57.5" text-anchor="end" font-weight="bold" transform="translate(240.3 1327.9) scale(1.025 1)" >0.02</text>
<text x="0" y="0" font-size="57.5" text-anchor="end" font-weight="bold" transform="translate(240.3 1232.5) scale(1.025 1)" >0.04</text>
<text x="0" y="0" font-size="57.5" text-anchor="end" font-weight="bold" transform="translate(240.3 1137.1) scale(1.025 1)" >0.06</text>
<text x="0" y="0" font-size="56.5" text-anchor="middle" font-weight="bold" transform="translate(264 1761.5) scale(1.08 1)" >0.0</text>
<text x="0" y="0" font-size="56.5" text-anchor="middle" font-weight="bold" transform="translate(405.8 1761.5) scale(1.08 1)" >0.5</text>
<text x="0" y="0" font-size="56.5" text-anchor="middle" font-weight="bold" transform="translate(547.7 1761.5) scale(1.08 1)" >1.0</text>
<text x="0" y="0" font-size="56.5" text-anchor="middle" font-weight="bold" transform="translate(689.5 1761.5) scale(1.08 1)" >1.5</text>
<text x="0" y="0" font-size="56.5" text-anchor="middle" font-weight="bold" transform="translate(831.4 1761.5) scale(1.08 1)" >2.0</text>
<text x="0" y="0" font-size="56.5" text-anchor="middle" font-weight="bold" transform="translate(973.2 1761.5) scale(1.08 1)" >2.5</text>
<text x="0" y="0" font-size="56.5" text-anchor="middle" font-weight="bold" transform="translate(1115 1761.5) scale(1.08 1)" >3.0</text>
<text x="0" y="0" font-size="56.5" text-anchor="middle" font-weight="bold" transform="translate(1256.9 1761.5) scale(1.08 1)" >3.5</text>
<text x="0" y="0" font-size="56.5" text-anchor="middle" font-weight="bold" transform="translate(1398.7 1761.5) scale(1.08 1)" >4.0</text>
<text x="0" y="0" font-size="56.5" text-anchor="middle" font-weight="bold" transform="translate(1540.6 1761.5) scale(1.08 1)" >4.5</text>
<text x="0" y="0" font-size="56.5" text-anchor="middle" font-weight="bold" transform="translate(1682.4 1761.5) scale(1.08 1)" >5.0</text>
<text x="986" y="1845" font-size="56" text-anchor="middle" font-weight="bold" >Time/min</text>
<text transform="translate(96 1381.6) rotate(-90)" font-size="58" font-weight="bold" text-anchor="middle">Frequency deviation/10<tspan font-size="38" dy="-24">-1</tspan><tspan dy="24">Hz(p.u.)</tspan></text>
<rect x="333" y="1104" width="348.4" height="224.6" fill="#fff" stroke="#222" stroke-width="2.8"/>
<path d="M339.5 1143.3H413.5" stroke="#4aa0dd" stroke-width="7" stroke-linecap="round"/>
<text x="435.5" y="1163.7" font-size="57" text-anchor="start" font-weight="bold" letter-spacing="0.8">Scheme 1</text>
<path d="M339.5 1216.1H413.5" stroke="#58cc58" stroke-width="7" stroke-linecap="round"/>
<text x="435.5" y="1236.5" font-size="57" text-anchor="start" font-weight="bold" letter-spacing="0.8">Scheme 2</text>
<path d="M339.5 1289H413.5" stroke="#c38fe6" stroke-width="7" stroke-linecap="round"/>
<text x="435.5" y="1309.4" font-size="57" text-anchor="start" font-weight="bold" letter-spacing="0.8">Scheme 3</text>
<rect x="755" y="1193" width="121" height="273.6" fill="none" stroke="#222" stroke-width="7" stroke-dasharray="15 8.5"/>
<path d="M890 1408L993 1468" stroke="#000" stroke-width="3.6"/>
<path d="M1009 1477.5L985 1474.5L993 1460Z" fill="#000"/>
<rect x="1091.5" y="1418" width="523.5" height="205.4" fill="#fff" stroke="none" stroke-width="0"/>
<clipPath id="c3"><rect x="1091.5" y="1418" width="523.5" height="205.4"/></clipPath>
<g clip-path="url(#c3)">
<polyline points="1092.9,1622.3 1121.4,1599.1 1162.7,1599.1 1180.8,1609.4 1191.2,1605.8 1250.6,1557.7 1258.4,1557.7 1271.3,1537.0 1292.0,1549.9 1307.5,1535.5 1343.7,1517.9 1356.6,1526.7 1405.7,1492.0 1431.6,1485.3 1441.9,1493.1 1467.8,1493.1 1483.3,1480.1 1498.8,1477.6 1514.3,1472.4 1529.8,1464.6 1553.1,1462.0 1566.0,1450.7 1581.6,1451.7 1602.2,1475.0 1615.2,1464.6" fill="none" stroke="#4aa0dd" stroke-width="2.6" stroke-linejoin="round" stroke-linecap="butt" />
<polyline points="1087.8,1606.8 1121.4,1578.4 1162.7,1579.9 1180.8,1587.2 1191.2,1585.1 1209.3,1568.0 1245.5,1545.8 1258.4,1547.4 1271.3,1534.4 1281.7,1535.5 1292.0,1544.8 1307.5,1534.4 1343.7,1516.3 1359.2,1526.7 1405.7,1498.2 1431.6,1495.7 1441.9,1502.4 1467.8,1503.4 1483.3,1495.7 1504.0,1493.1 1529.8,1482.7 1553.1,1482.7 1566.0,1472.4 1581.6,1475.0 1602.2,1495.7 1615.2,1485.3" fill="none" stroke="#58cc58" stroke-width="2.6" stroke-linejoin="round" stroke-linecap="butt" />
<polyline points="1087.8,1599.1 1121.4,1578.4 1162.7,1578.4 1180.8,1586.1 1191.2,1583.6 1209.3,1570.6 1245.5,1549.9 1258.4,1544.8 1271.3,1542.2 1292.0,1552.5 1307.5,1543.7 1343.7,1529.3 1356.6,1538.6 1405.7,1516.3 1431.6,1513.8 1441.9,1520.5 1467.8,1521.5 1483.3,1513.8 1504.0,1511.2 1529.8,1503.4 1553.1,1502.4 1566.0,1495.7 1581.6,1498.2 1602.2,1511.2 1615.2,1517.9" fill="none" stroke="#c38fe6" stroke-width="2.6" stroke-linejoin="round" stroke-linecap="butt" />
</g>
<rect x="1091.5" y="1418" width="523.5" height="205.4" fill="none" stroke="#000" stroke-width="5.4" stroke-linecap="square"/>
<path d="M1119 1623.4V1614.4M1119 1418V1427M1181.4 1623.4V1614.4M1181.4 1418V1427M1243.8 1623.4V1614.4M1243.8 1418V1427M1306.2 1623.4V1614.4M1306.2 1418V1427M1368.6 1623.4V1614.4M1368.6 1418V1427M1431 1623.4V1614.4M1431 1418V1427M1493.4 1623.4V1614.4M1493.4 1418V1427M1555.8 1623.4V1614.4M1555.8 1418V1427" stroke="#000" stroke-width="4" fill="none"/>
<path d="M1150.2 1623.4V1617.4M1150.2 1418V1424M1212.6 1623.4V1617.4M1212.6 1418V1424M1275 1623.4V1617.4M1275 1418V1424M1337.4 1623.4V1617.4M1337.4 1418V1424M1399.8 1623.4V1617.4M1399.8 1418V1424M1462.2 1623.4V1617.4M1462.2 1418V1424M1524.6 1623.4V1617.4M1524.6 1418V1424M1587 1623.4V1617.4M1587 1418V1424" stroke="#000" stroke-width="4" fill="none"/>
<path d="M1091.5 1606H1099.5M1615 1606H1607M1091.5 1577.3H1099.5M1615 1577.3H1607M1091.5 1548.5H1099.5M1615 1548.5H1607M1091.5 1519.8H1099.5M1615 1519.8H1607M1091.5 1491H1099.5M1615 1491H1607M1091.5 1462.3H1099.5M1615 1462.3H1607M1091.5 1433.5H1099.5M1615 1433.5H1607" stroke="#000" stroke-width="4" fill="none"/>
<path d="M1091.5 1620.4H1096.5M1615 1620.4H1610M1091.5 1591.7H1096.5M1615 1591.7H1610M1091.5 1562.9H1096.5M1615 1562.9H1610M1091.5 1534.2H1096.5M1615 1534.2H1610M1091.5 1505.4H1096.5M1615 1505.4H1610M1091.5 1476.7H1096.5M1615 1476.7H1610M1091.5 1447.9H1096.5M1615 1447.9H1610" stroke="#000" stroke-width="4" fill="none"/>
<text x="1080.3" y="1613.3" font-size="34" text-anchor="end" font-weight="bold" ><tspan font-weight="normal">-</tspan>0.01</text>
<text x="1080.3" y="1584.6" font-size="34" text-anchor="end" font-weight="bold" >0.00</text>
<text x="1080.3" y="1555.8" font-size="34" text-anchor="end" font-weight="bold" >0.01</text>
<text x="1080.3" y="1527.1" font-size="34" text-anchor="end" font-weight="bold" >0.02</text>
<text x="1080.3" y="1498.3" font-size="34" text-anchor="end" font-weight="bold" >0.03</text>
<text x="1080.3" y="1469.6" font-size="34" text-anchor="end" font-weight="bold" >0.04</text>
<text x="1080.3" y="1440.8" font-size="34" text-anchor="end" font-weight="bold" >0.05</text>
<text x="0" y="0" font-size="34" text-anchor="middle" font-weight="bold" transform="translate(1117.5 1654.5) scale(1.12 1)" >1.75</text>
<text x="0" y="0" font-size="34" text-anchor="middle" font-weight="bold" transform="translate(1179.9 1654.5) scale(1.12 1)" >1.80</text>
<text x="0" y="0" font-size="34" text-anchor="middle" font-weight="bold" transform="translate(1242.3 1654.5) scale(1.12 1)" >1.85</text>
<text x="0" y="0" font-size="34" text-anchor="middle" font-weight="bold" transform="translate(1304.7 1654.5) scale(1.12 1)" >1.90</text>
<text x="0" y="0" font-size="34" text-anchor="middle" font-weight="bold" transform="translate(1367.1 1654.5) scale(1.12 1)" >1.95</text>
<text x="0" y="0" font-size="34" text-anchor="middle" font-weight="bold" transform="translate(1429.5 1654.5) scale(1.12 1)" >2.00</text>
<text x="0" y="0" font-size="34" text-anchor="middle" font-weight="bold" transform="translate(1491.9 1654.5) scale(1.12 1)" >2.05</text>
<text x="0" y="0" font-size="34" text-anchor="middle" font-weight="bold" transform="translate(1554.3 1654.5) scale(1.12 1)" >2.10</text>
<text x="0" y="0" font-size="72" transform="translate(830.9 1964.5) scale(1 1.13)">(</text>
<text x="0" y="0" font-size="72" transform="translate(903.2 1964.5) scale(1 1.13)">)</text>
<text x="0" y="0" font-size="72" font-weight="bold" text-anchor="middle" transform="translate(878.7 1964.5) scale(1.22 1.13)">b</text>
<rect x="189.7" y="2047.5" width="1519.3" height="664" fill="none" stroke="#000" stroke-width="8" stroke-linecap="square"/>
<path d="M493.6 2711.5V2690.5M493.6 2047.5V2068.5M797.4 2711.5V2690.5M797.4 2047.5V2068.5M1101.3 2711.5V2690.5M1101.3 2047.5V2068.5M1405.1 2711.5V2690.5M1405.1 2047.5V2068.5" stroke="#000" stroke-width="7.6" fill="none"/>
<path d="M341.6 2711.5V2701.5M341.6 2047.5V2057.5M645.5 2711.5V2701.5M645.5 2047.5V2057.5M949.4 2711.5V2701.5M949.4 2047.5V2057.5M1253.2 2711.5V2701.5M1253.2 2047.5V2057.5M1557.1 2711.5V2701.5M1557.1 2047.5V2057.5" stroke="#000" stroke-width="7.6" fill="none"/>
<path d="M189.7 2644.8H210.7M1709 2644.8H1688M189.7 2578.2H210.7M1709 2578.2H1688M189.7 2511.5H210.7M1709 2511.5H1688M189.7 2444.9H210.7M1709 2444.9H1688M189.7 2378.2H210.7M1709 2378.2H1688M189.7 2311.5H210.7M1709 2311.5H1688M189.7 2244.9H210.7M1709 2244.9H1688M189.7 2178.2H210.7M1709 2178.2H1688M189.7 2111.6H210.7M1709 2111.6H1688" stroke="#000" stroke-width="7.6" fill="none"/>
<path d="M189.7 2678.2H199.7M1709 2678.2H1699M189.7 2611.5H199.7M1709 2611.5H1699M189.7 2544.8H199.7M1709 2544.8H1699M189.7 2478.2H199.7M1709 2478.2H1699M189.7 2411.5H199.7M1709 2411.5H1699M189.7 2344.9H199.7M1709 2344.9H1699M189.7 2278.2H199.7M1709 2278.2H1699M189.7 2211.6H199.7M1709 2211.6H1699M189.7 2144.9H199.7M1709 2144.9H1699M189.7 2078.2H199.7M1709 2078.2H1699" stroke="#000" stroke-width="7.6" fill="none"/>
<clipPath id="c4"><rect x="189.7" y="2047.5" width="1519.3" height="664"/></clipPath>
<g clip-path="url(#c4)">
<polyline points="191.7,2684.7 194.0,2643.9 195.5,2616.7 196.3,2630.5 198.6,2662.2 200.8,2637.8 200.9,2639.0 203.2,2664.7 205.5,2654.8 206.1,2648.3 207.8,2668.9 210.1,2696.1 212.4,2708.0 214.7,2706.6 217.0,2682.4 219.3,2679.1 221.6,2696.6 223.6,2672.9 223.9,2676.5 226.2,2703.8 228.5,2686.9 230.6,2634.3 230.8,2638.9 233.1,2696.2 235.4,2706.1 237.7,2681.5 240.0,2657.0 241.1,2644.8 242.3,2657.2 244.6,2681.7 246.9,2696.5 249.2,2697.1 251.5,2699.2 253.8,2669.6 255.2,2651.8 256.1,2663.8 258.4,2693.4 260.7,2700.1 263.0,2660.9 263.9,2644.8 265.3,2667.8 267.6,2706.5 269.9,2707.5 272.2,2705.0 274.5,2700.1 276.8,2698.0 279.1,2674.2 279.7,2667.6 281.4,2684.8 283.7,2695.9 286.0,2686.1 288.3,2691.9 290.6,2701.8 292.9,2680.2 295.2,2663.9 297.5,2667.7 299.0,2655.3 299.8,2661.5 302.1,2680.1 304.4,2691.0 306.7,2698.3 309.0,2705.9 311.3,2705.4 313.6,2702.7 315.9,2701.2 318.2,2683.6 320.1,2667.6 320.5,2671.1 322.8,2690.6 325.1,2707.3 327.4,2703.9 329.7,2700.3 332.0,2698.7 332.4,2697.4 334.3,2703.9 336.6,2699.6 338.9,2690.5 341.2,2691.2 343.5,2665.9 345.8,2578.3 346.4,2555.3 348.1,2620.0 350.4,2617.5 351.7,2569.4 352.7,2608.6 353.4,2636.0 355.0,2657.1 357.3,2680.2 359.6,2693.5 361.9,2703.5 364.2,2706.9 366.5,2708.0 368.8,2699.4 371.1,2656.7 373.4,2677.1 375.7,2658.7 378.0,2613.2 378.0,2613.6 380.3,2637.1 381.5,2613.2 382.6,2635.4 384.9,2681.5 387.2,2703.4 389.5,2673.4 390.3,2662.4 391.8,2669.0 394.1,2690.2 396.4,2707.1 398.7,2708.3 401.0,2699.1 403.3,2700.8 405.6,2677.1 407.8,2639.6 407.9,2641.1 410.2,2680.2 412.5,2707.2 414.8,2692.0 417.1,2630.3 419.4,2568.5 420.1,2550.1 421.7,2593.3 424.0,2553.1 425.4,2508.0 426.3,2539.7 428.6,2616.4 430.9,2656.0 433.2,2580.4 434.1,2550.1 435.5,2595.3 437.8,2617.2 439.4,2564.1 440.1,2588.0 442.4,2664.9 444.7,2701.9 447.0,2677.7 449.3,2644.2 451.6,2610.7 451.7,2609.7 453.9,2637.1 456.2,2521.8 456.9,2485.2 458.5,2563.9 460.8,2591.9 462.2,2536.0 463.1,2572.4 465.4,2664.7 467.7,2676.2 470.0,2674.4 472.3,2694.8 474.6,2704.4 476.9,2699.6 479.2,2698.0 481.5,2690.7 483.2,2672.9 483.8,2678.5 486.1,2669.8 488.4,2654.5 490.7,2681.3 493.0,2699.7 495.3,2667.4 497.3,2639.6 497.6,2644.0 499.9,2676.3 502.2,2696.5 504.5,2703.5 506.8,2702.5 509.1,2700.9 511.4,2705.9 513.7,2705.3 516.0,2697.2 518.3,2689.2 520.6,2695.5 522.9,2703.5 525.2,2708.3 527.5,2702.9 529.8,2708.2 532.1,2700.3 534.4,2658.3 536.7,2616.2 537.6,2599.2 539.0,2624.2 541.3,2638.7 542.9,2606.2 543.6,2620.6 545.9,2667.5 548.2,2706.4 550.5,2704.7 552.8,2674.3 555.1,2630.5 556.9,2595.7 557.4,2604.6 559.7,2603.3 560.0,2595.7 562.0,2646.5 564.3,2638.1 565.3,2623.8 566.6,2643.7 568.9,2677.9 571.2,2705.4 573.5,2702.7 575.8,2684.5 577.5,2662.4 578.1,2669.4 580.4,2698.6 582.7,2689.0 585.0,2700.6 587.3,2702.3 589.6,2706.7 591.9,2703.4 594.2,2697.4 596.5,2696.5 598.8,2691.1 601.1,2663.8 602.1,2651.8 603.4,2667.2 605.7,2685.1 608.0,2700.9 610.3,2708.3 612.6,2703.9 614.9,2706.0 617.2,2700.7 619.5,2692.7 621.8,2673.8 623.2,2657.1 624.1,2668.7 626.4,2689.9 628.7,2704.6 631.0,2708.3 633.3,2705.1 635.6,2680.1 637.9,2693.7 640.2,2668.0 640.7,2662.4 642.5,2674.4 644.8,2684.9 647.1,2634.1 649.4,2583.3 649.5,2581.7 651.7,2630.8 654.0,2681.7 656.3,2661.6 658.2,2613.2 658.6,2622.0 660.9,2678.3 663.2,2705.2 665.5,2677.1 667.8,2634.7 668.8,2616.7 670.1,2641.2 672.4,2681.4 674.7,2681.6 677.0,2700.0 679.3,2700.2 681.6,2676.5 683.9,2626.0 684.6,2611.5 686.2,2647.5 688.5,2680.7 690.8,2661.8 691.6,2655.3 693.1,2667.9 695.4,2686.9 697.7,2704.8 700.0,2697.0 702.3,2699.1 704.6,2706.3 706.9,2704.5 709.2,2706.4 711.5,2682.9 713.8,2671.9 716.1,2636.4 717.9,2581.7 718.4,2597.1 720.7,2564.4 721.4,2537.8 723.0,2598.1 724.9,2585.2 725.3,2593.7 727.6,2644.4 728.4,2641.3 729.9,2665.4 732.2,2671.1 734.5,2647.0 736.8,2667.5 739.1,2691.6 741.4,2646.4 743.7,2596.3 744.2,2585.2 746.0,2624.2 748.3,2591.9 750.6,2514.9 751.2,2493.9 752.9,2549.9 755.2,2626.8 757.5,2509.9 758.2,2471.1 759.8,2551.9 761.8,2486.9 762.1,2502.0 764.4,2602.0 766.7,2700.7 769.0,2624.3 770.5,2560.6 771.3,2592.9 773.6,2519.6 774.0,2504.5 775.9,2567.1 777.5,2488.7 778.2,2520.0 780.5,2629.7 782.8,2583.9 784.6,2522.0 785.1,2540.9 787.4,2621.8 789.7,2578.9 791.6,2469.4 792.0,2493.9 794.3,2628.0 796.6,2581.0 798.6,2508.0 798.9,2519.1 801.2,2603.2 803.5,2653.9 805.6,2613.2 805.8,2616.8 808.1,2661.1 810.4,2621.0 812.6,2574.6 812.7,2576.1 815.0,2623.9 817.3,2648.7 819.6,2586.5 821.4,2537.8 821.9,2551.2 824.2,2613.4 826.5,2646.3 828.8,2552.1 830.2,2495.7 831.1,2533.6 833.4,2607.6 835.4,2502.7 835.7,2516.2 838.0,2634.5 840.3,2703.1 842.6,2675.2 844.2,2653.6 844.9,2662.8 847.2,2693.7 849.5,2704.5 851.8,2708.3 854.1,2705.9 856.4,2706.1 858.7,2706.5 861.0,2705.8 863.3,2700.0 865.6,2688.4 867.9,2664.4 868.8,2655.3 870.2,2670.2 872.5,2694.3 874.8,2698.2 877.1,2687.6 879.4,2671.0 881.1,2657.1 881.7,2662.5 884.0,2681.9 886.3,2699.3 888.6,2706.6 890.9,2701.0 893.2,2699.3 895.5,2707.0 897.8,2696.8 900.1,2684.0 902.1,2672.9 902.4,2672.1 904.7,2687.3 907.0,2694.6 909.3,2681.7 910.9,2672.9 911.6,2676.9 913.9,2689.8 916.2,2702.6 918.5,2705.9 920.8,2676.3 923.1,2632.2 924.9,2597.4 925.4,2606.8 927.7,2630.6 928.4,2616.7 930.0,2647.1 932.3,2691.2 934.6,2579.8 936.9,2466.3 937.2,2451.8 939.2,2491.2 940.3,2418.9 941.5,2503.0 943.8,2525.2 945.5,2432.9 946.1,2463.6 947.3,2526.7 948.4,2586.5 950.7,2659.9 952.5,2632.9 953.0,2639.6 955.3,2659.2 956.1,2643.4 957.6,2675.8 959.9,2706.1 962.2,2681.2 963.1,2671.5 964.5,2687.5 966.8,2705.1 969.1,2702.2 971.4,2705.4 973.7,2699.9 976.0,2690.2 977.1,2685.5 978.3,2690.6 980.6,2697.8 982.9,2658.6 985.2,2685.0 987.5,2660.6 987.6,2659.2 989.8,2682.3 992.1,2699.0 994.4,2687.6 996.7,2658.2 998.2,2627.6 999.0,2645.3 1001.3,2655.3 1003.4,2631.1 1003.6,2633.2 1005.9,2659.3 1008.2,2685.5 1010.5,2706.0 1012.8,2683.0 1015.1,2590.4 1015.7,2566.2 1017.4,2634.6 1019.7,2617.3 1021.0,2594.3 1022.0,2613.1 1024.3,2655.0 1026.2,2675.0 1026.6,2677.0 1028.9,2668.1 1031.2,2679.7 1033.5,2697.4 1035.8,2700.4 1038.1,2699.7 1040.4,2705.0 1042.7,2706.4 1045.0,2655.8 1047.3,2555.7 1047.3,2556.5 1049.6,2647.8 1051.9,2603.2 1052.5,2590.8 1054.2,2622.8 1056.5,2667.4 1058.8,2703.1 1061.1,2699.4 1063.4,2703.5 1065.7,2706.5 1068.0,2708.3 1070.3,2702.9 1072.6,2696.5 1074.9,2693.4 1077.2,2699.8 1079.5,2684.6 1081.8,2665.6 1082.4,2661.0 1084.1,2666.8 1085.9,2654.2 1086.4,2663.9 1088.7,2698.0 1091.0,2708.3 1093.3,2698.5 1095.6,2673.3 1097.9,2649.9 1100.2,2675.1 1102.5,2697.8 1104.8,2677.8 1106.9,2659.2 1107.1,2660.7 1109.4,2680.8 1111.7,2700.8 1114.0,2691.4 1116.3,2653.9 1118.6,2616.5 1119.2,2606.6 1120.9,2634.1 1122.7,2618.9 1123.2,2632.2 1125.5,2696.0 1127.8,2704.0 1130.1,2703.3 1132.4,2696.2 1134.7,2698.2 1137.0,2705.3 1139.3,2702.8 1141.6,2706.4 1143.9,2707.2 1146.2,2708.0 1148.5,2702.6 1150.8,2684.3 1153.1,2671.1 1155.4,2690.4 1157.7,2707.5 1160.0,2691.0 1162.3,2664.1 1163.1,2653.9 1164.6,2674.2 1166.9,2704.5 1169.2,2695.9 1171.5,2676.2 1173.8,2663.4 1176.1,2666.0 1177.1,2648.7 1178.4,2671.0 1180.7,2707.1 1183.0,2708.3 1185.3,2705.5 1187.6,2656.4 1189.9,2679.3 1192.2,2696.7 1194.5,2689.5 1194.6,2689.0 1196.8,2695.8 1199.1,2703.0 1201.4,2708.1 1203.7,2687.0 1206.0,2665.1 1208.3,2653.1 1210.6,2674.9 1212.9,2696.8 1215.2,2702.5 1217.5,2706.6 1219.8,2703.8 1222.1,2704.8 1224.4,2684.5 1226.2,2657.4 1226.7,2664.4 1229.0,2688.4 1231.3,2702.4 1233.6,2708.3 1235.9,2707.7 1238.2,2708.3 1240.5,2664.3 1241.6,2641.7 1242.8,2659.9 1243.8,2639.9 1245.1,2667.2 1247.4,2671.3 1249.7,2640.1 1251.0,2623.0 1252.0,2636.3 1252.5,2624.1 1254.3,2663.5 1256.6,2659.5 1258.9,2617.7 1260.3,2592.8 1261.2,2609.7 1263.5,2503.5 1264.9,2369.3 1265.8,2451.8 1268.1,2197.6 1268.4,2162.0 1270.4,2384.8 1272.7,2269.2 1273.1,2222.6 1275.0,2463.4 1276.6,2378.6 1277.3,2438.6 1277.7,2473.8 1279.6,2620.3 1281.9,2681.3 1284.2,2693.4 1286.5,2663.7 1288.2,2641.7 1288.8,2649.3 1291.1,2679.0 1293.4,2705.1 1295.7,2705.0 1298.0,2673.9 1299.8,2641.7 1300.3,2649.5 1302.6,2604.1 1303.3,2583.5 1304.9,2623.5 1307.2,2557.5 1308.0,2534.6 1309.5,2577.7 1311.5,2578.8 1311.8,2586.4 1314.1,2642.9 1315.0,2653.3 1316.4,2679.5 1318.7,2704.4 1321.0,2708.2 1323.3,2666.7 1325.5,2618.4 1325.6,2621.5 1327.9,2673.0 1330.2,2699.6 1332.5,2661.3 1334.8,2603.0 1335.9,2574.1 1337.1,2603.6 1339.4,2661.9 1341.7,2636.6 1342.9,2609.1 1344.0,2633.4 1346.3,2527.3 1348.3,2327.3 1348.6,2360.0 1350.9,2592.6 1351.1,2609.9 1353.2,2663.2 1354.8,2638.3 1355.5,2637.8 1355.7,2634.7 1357.8,2662.9 1360.1,2694.2 1362.4,2706.8 1364.7,2704.3 1367.0,2689.8 1369.3,2683.4 1369.7,2683.6 1371.6,2693.6 1372.4,2691.3 1373.9,2698.0 1376.2,2708.0 1378.5,2703.8 1380.8,2685.2 1383.1,2661.8 1385.4,2689.0 1387.7,2680.4 1390.0,2625.1 1390.1,2622.3 1390.7,2623.0 1392.3,2656.8 1394.6,2644.1 1395.4,2634.7 1396.9,2651.7 1399.2,2668.1 1401.5,2649.5 1403.8,2673.0 1406.1,2696.6 1408.4,2704.4 1410.7,2704.6 1413.0,2667.4 1413.9,2651.0 1414.9,2648.9 1415.3,2656.8 1417.6,2699.1 1419.9,2702.6 1422.2,2699.4 1424.5,2669.9 1426.8,2684.3 1429.1,2671.2 1430.8,2632.9 1431.4,2647.1 1433.7,2674.5 1436.0,2646.3 1436.1,2645.3 1438.3,2672.5 1440.6,2688.5 1442.9,2696.4 1445.2,2704.8 1447.5,2706.1 1449.8,2706.0 1452.1,2701.9 1454.4,2696.4 1456.7,2697.7 1459.0,2703.2 1461.3,2700.0 1463.6,2679.9 1465.9,2614.9 1466.1,2608.2 1468.2,2666.4 1470.5,2659.6 1471.4,2645.3 1472.8,2665.9 1475.1,2700.7 1477.4,2703.9 1479.7,2707.6 1482.0,2704.7 1484.3,2703.6 1486.6,2706.6 1488.9,2705.7 1491.2,2687.1 1492.7,2675.4 1493.5,2682.2 1495.8,2692.9 1498.1,2686.9 1500.4,2698.1 1502.7,2706.4 1505.0,2700.6 1507.3,2684.3 1509.6,2649.5 1510.3,2638.3 1511.9,2661.9 1514.2,2696.7 1516.5,2699.5 1518.8,2634.9 1520.9,2574.6 1521.1,2578.9 1523.4,2643.5 1525.7,2644.4 1526.3,2638.3 1528.0,2657.8 1530.3,2682.7 1532.6,2695.9 1534.9,2702.2 1537.2,2697.7 1539.5,2706.7 1541.8,2698.5 1544.1,2657.6 1545.7,2625.9 1546.4,2639.8 1548.7,2679.2 1551.0,2627.7 1551.0,2627.6 1553.3,2679.0 1555.6,2697.0 1557.9,2691.2 1560.2,2685.3 1562.5,2666.6 1563.4,2659.5 1564.8,2671.0 1567.1,2689.6 1569.4,2700.2 1571.7,2703.1 1574.0,2702.1 1576.3,2687.2 1578.6,2672.3 1580.9,2680.2 1583.2,2695.1 1584.6,2687.8 1585.5,2692.8 1587.8,2702.7 1590.1,2705.8 1592.4,2705.1 1594.7,2708.3 1597.0,2687.4 1598.7,2666.5 1599.3,2673.3 1601.6,2700.9 1603.9,2707.3 1606.2,2687.7 1608.5,2657.4 1610.8,2656.5 1612.9,2581.7 1613.1,2589.4 1615.4,2631.6 1617.7,2581.7 1618.2,2571.1 1620.0,2610.3 1622.3,2623.2 1623.5,2599.4 1624.6,2621.5 1626.9,2667.5 1629.2,2686.5 1631.5,2704.8 1633.8,2696.3 1636.1,2678.5 1637.6,2666.5 1638.4,2672.4 1640.7,2688.3 1643.0,2704.9 1645.3,2698.3 1647.6,2691.7 1649.9,2698.2 1652.2,2704.8 1654.5,2695.3 1656.8,2683.4 1659.1,2689.1 1661.4,2701.0 1663.7,2708.0 1666.0,2706.9 1668.3,2690.8 1670.6,2702.5 1672.9,2704.2 1675.2,2670.7 1676.5,2645.3 1677.5,2663.7 1679.8,2692.2 1682.1,2676.7 1683.6,2666.5 1684.4,2671.9 1686.7,2687.4 1689.0,2702.9 1691.3,2692.4 1693.6,2693.1 1695.9,2697.3 1698.2,2706.1 1700.5,2679.6 1701.3,2670.1 1702.8,2688.4 1705.1,2692.7 1707.4,2686.7" fill="none" stroke="#7fd47f" stroke-width="4.8" stroke-linejoin="round" stroke-linecap="butt" />
<polyline points="191.7,2685.5 194.0,2644.7 195.5,2617.5 196.3,2631.3 198.6,2663.0 200.8,2638.6 200.9,2639.8 203.2,2665.5 205.5,2655.6 206.1,2649.1 207.8,2669.7 210.1,2696.9 212.4,2708.8 214.7,2707.4 217.0,2683.2 219.3,2679.9 221.6,2697.4 223.6,2673.7 223.9,2677.3 226.2,2704.6 228.5,2687.7 230.6,2635.1 230.8,2639.7 233.1,2697.0 235.4,2706.9 237.7,2682.3 240.0,2657.8 241.1,2645.6 242.3,2658.0 244.6,2682.5 246.9,2697.3 249.2,2697.9 251.5,2700.0 253.8,2670.4 255.2,2652.6 256.1,2664.6 258.4,2694.2 260.7,2700.9 263.0,2661.7 263.9,2645.6 265.3,2668.6 267.6,2707.3 269.9,2708.3 272.2,2705.8 274.5,2700.9 276.8,2698.8 279.1,2675.0 279.7,2668.4 281.4,2685.6 283.7,2696.7 286.0,2686.9 288.3,2692.7 290.6,2702.6 292.9,2681.0 295.2,2664.7 297.5,2668.5 299.0,2656.1 299.8,2662.3 302.1,2680.9 304.4,2691.8 306.7,2699.1 309.0,2706.7 311.3,2706.2 313.6,2703.5 315.9,2702.0 318.2,2684.4 320.1,2668.4 320.5,2671.9 322.8,2691.4 325.1,2708.1 327.4,2704.7 329.7,2701.1 332.0,2699.5 332.4,2698.2 334.3,2704.7 336.6,2700.4 338.9,2691.3 341.2,2692.0 343.5,2666.7 345.8,2579.1 346.4,2556.1 348.1,2620.8 350.4,2618.3 351.7,2570.2 352.7,2609.4 353.4,2636.8 355.0,2657.9 357.3,2681.0 359.6,2694.3 361.9,2704.3 364.2,2707.7 366.5,2708.8 368.8,2700.2 371.1,2657.5 373.4,2677.9 375.7,2659.5 378.0,2614.0 378.0,2614.4 380.3,2637.9 381.5,2614.0 382.6,2636.2 384.9,2682.3 387.2,2704.2 389.5,2674.2 390.3,2663.2 391.8,2669.8 394.1,2691.0 396.4,2707.9 398.7,2709.1 401.0,2699.9 403.3,2701.6 405.6,2677.9 407.8,2640.4 407.9,2641.9 410.2,2681.0 412.5,2708.0 414.8,2692.8 417.1,2631.1 419.4,2569.3 420.1,2550.9 421.7,2594.1 424.0,2553.9 425.4,2508.8 426.3,2540.5 428.6,2617.2 430.9,2656.8 433.2,2581.2 434.1,2550.9 435.5,2596.1 437.8,2618.0 439.4,2564.9 440.1,2588.8 442.4,2665.7 444.7,2702.7 447.0,2678.5 449.3,2645.0 451.6,2611.5 451.7,2610.5 453.9,2637.9 456.2,2522.6 456.9,2486.0 458.5,2564.7 460.8,2592.7 462.2,2536.8 463.1,2573.2 465.4,2665.5 467.7,2677.0 470.0,2675.2 472.3,2695.6 474.6,2705.2 476.9,2700.4 479.2,2698.8 481.5,2691.5 483.2,2673.7 483.8,2679.3 486.1,2670.6 488.4,2655.3 490.7,2682.1 493.0,2700.5 495.3,2668.2 497.3,2640.4 497.6,2644.8 499.9,2677.1 502.2,2697.3 504.5,2704.3 506.8,2703.3 509.1,2701.7 511.4,2706.7 513.7,2706.1 516.0,2698.0 518.3,2690.0 520.6,2696.3 522.9,2704.3 525.2,2709.1 527.5,2703.7 529.8,2709.0 532.1,2701.1 534.4,2659.1 536.7,2617.0 537.6,2600.0 539.0,2625.0 541.3,2639.5 542.9,2607.0 543.6,2621.4 545.9,2668.3 548.2,2707.2 550.5,2705.5 552.8,2675.1 555.1,2631.3 556.9,2596.5 557.4,2605.4 559.7,2604.1 560.0,2596.5 562.0,2647.3 564.3,2638.9 565.3,2624.6 566.6,2644.5 568.9,2678.7 571.2,2706.2 573.5,2703.5 575.8,2685.3 577.5,2663.2 578.1,2670.2 580.4,2699.4 582.7,2689.8 585.0,2701.4 587.3,2703.1 589.6,2707.5 591.9,2704.2 594.2,2698.2 596.5,2697.3 598.8,2691.9 601.1,2664.6 602.1,2652.6 603.4,2668.0 605.7,2685.9 608.0,2701.7 610.3,2709.1 612.6,2704.7 614.9,2706.8 617.2,2701.5 619.5,2693.5 621.8,2674.6 623.2,2657.9 624.1,2669.5 626.4,2690.7 628.7,2705.4 631.0,2709.1 633.3,2705.9 635.6,2680.9 637.9,2694.5 640.2,2668.8 640.7,2663.2 642.5,2675.2 644.8,2685.7 647.1,2634.9 649.4,2584.1 649.5,2582.5 651.7,2631.6 654.0,2682.5 656.3,2662.4 658.2,2614.0 658.6,2622.8 660.9,2679.1 663.2,2706.0 665.5,2677.9 667.8,2635.5 668.8,2617.5 670.1,2642.0 672.4,2682.2 674.7,2682.4 677.0,2700.8 679.3,2701.0 681.6,2677.3 683.9,2626.8 684.6,2612.3 686.2,2648.3 688.5,2681.5 690.8,2662.6 691.6,2656.1 693.1,2668.7 695.4,2687.7 697.7,2705.6 700.0,2697.8 702.3,2699.9 704.6,2707.1 706.9,2705.3 709.2,2707.2 711.5,2683.7 713.8,2672.7 716.1,2637.2 717.9,2582.5 718.4,2597.9 720.7,2565.2 721.4,2538.6 723.0,2598.9 724.9,2586.0 725.3,2594.5 727.6,2645.2 728.4,2642.1 729.9,2666.2 732.2,2671.9 734.5,2647.8 736.8,2668.3 739.1,2692.4 741.4,2647.2 743.7,2597.1 744.2,2586.0 746.0,2625.0 748.3,2592.7 750.6,2515.7 751.2,2494.7 752.9,2550.7 755.2,2627.6 757.5,2510.7 758.2,2471.9 759.8,2552.7 761.8,2487.7 762.1,2502.8 764.4,2602.8 766.7,2701.5 769.0,2625.1 770.5,2561.4 771.3,2593.7 773.6,2520.4 774.0,2505.3 775.9,2567.9 777.5,2489.5 778.2,2520.8 780.5,2630.5 782.8,2584.7 784.6,2522.8 785.1,2541.7 787.4,2622.6 789.7,2579.7 791.6,2470.2 792.0,2494.7 794.3,2628.8 796.6,2581.8 798.6,2508.8 798.9,2519.9 801.2,2604.0 803.5,2654.7 805.6,2614.0 805.8,2617.6 808.1,2661.9 810.4,2621.8 812.6,2575.4 812.7,2576.9 815.0,2624.7 817.3,2649.5 819.6,2587.3 821.4,2538.6 821.9,2552.0 824.2,2614.2 826.5,2647.1 828.8,2552.9 830.2,2496.5 831.1,2534.4 833.4,2608.4 835.4,2503.5 835.7,2517.0 838.0,2635.3 840.3,2703.9 842.6,2676.0 844.2,2654.4 844.9,2663.6 847.2,2694.5 849.5,2705.3 851.8,2709.1 854.1,2706.7 856.4,2706.9 858.7,2707.3 861.0,2706.6 863.3,2700.8 865.6,2689.2 867.9,2665.2 868.8,2656.1 870.2,2671.0 872.5,2695.1 874.8,2699.0 877.1,2688.4 879.4,2671.8 881.1,2657.9 881.7,2663.3 884.0,2682.7 886.3,2700.1 888.6,2707.4 890.9,2701.8 893.2,2700.1 895.5,2707.8 897.8,2697.6 900.1,2684.8 902.1,2673.7 902.4,2672.9 904.7,2688.1 907.0,2695.4 909.3,2682.5 910.9,2673.7 911.6,2677.7 913.9,2690.6 916.2,2703.4 918.5,2706.7 920.8,2677.1 923.1,2633.0 924.9,2598.2 925.4,2607.6 927.7,2631.4 928.4,2617.5 930.0,2647.9 932.3,2692.0 934.6,2580.6 936.9,2467.1 937.2,2452.6 939.2,2492.0 940.3,2419.7 941.5,2503.8 943.8,2526.0 945.5,2433.7 946.1,2464.4 947.3,2527.5 948.4,2587.3 950.7,2660.7 952.5,2633.7 953.0,2640.4 955.3,2660.0 956.1,2644.2 957.6,2676.6 959.9,2706.9 962.2,2682.0 963.1,2672.3 964.5,2688.3 966.8,2705.9 969.1,2703.0 971.4,2706.2 973.7,2700.7 976.0,2691.0 977.1,2686.3 978.3,2691.4 980.6,2698.6 982.9,2659.4 985.2,2685.8 987.5,2661.4 987.6,2660.0 989.8,2683.1 992.1,2699.8 994.4,2688.4 996.7,2659.0 998.2,2628.4 999.0,2646.1 1001.3,2656.1 1003.4,2631.9 1003.6,2634.0 1005.9,2660.1 1008.2,2686.3 1010.5,2706.8 1012.8,2683.8 1015.1,2591.2 1015.7,2567.0 1017.4,2635.4 1019.7,2618.1 1021.0,2595.1 1022.0,2613.9 1024.3,2655.8 1026.2,2675.8 1026.6,2677.8 1028.9,2668.9 1031.2,2680.5 1033.5,2698.2 1035.8,2701.2 1038.1,2700.5 1040.4,2705.8 1042.7,2707.2 1045.0,2656.6 1047.3,2556.5 1047.3,2557.3 1049.6,2648.6 1051.9,2604.0 1052.5,2591.6 1054.2,2623.6 1056.5,2668.2 1058.8,2703.9 1061.1,2700.2 1063.4,2704.3 1065.7,2707.3 1068.0,2709.1 1070.3,2703.7 1072.6,2697.3 1074.9,2694.2 1077.2,2700.6 1079.5,2685.4 1081.8,2666.4 1082.4,2661.8 1084.1,2667.6 1085.9,2655.0 1086.4,2664.7 1088.7,2698.8 1091.0,2709.1 1093.3,2699.3 1095.6,2674.1 1097.9,2650.7 1100.2,2675.9 1102.5,2698.6 1104.8,2678.6 1106.9,2660.0 1107.1,2661.5 1109.4,2681.6 1111.7,2701.6 1114.0,2692.2 1116.3,2654.7 1118.6,2617.3 1119.2,2607.4 1120.9,2634.9 1122.7,2619.7 1123.2,2633.0 1125.5,2696.8 1127.8,2704.8 1130.1,2704.1 1132.4,2697.0 1134.7,2699.0 1137.0,2706.1 1139.3,2703.6 1141.6,2707.2 1143.9,2708.0 1146.2,2708.8 1148.5,2703.4 1150.8,2685.1 1153.1,2671.9 1155.4,2691.2 1157.7,2708.3 1160.0,2691.8 1162.3,2664.9 1163.1,2654.7 1164.6,2675.0 1166.9,2705.3 1169.2,2696.7 1171.5,2677.0 1173.8,2664.2 1176.1,2666.8 1177.1,2649.5 1178.4,2671.8 1180.7,2707.9 1183.0,2709.1 1185.3,2706.3 1187.6,2657.2 1189.9,2680.1 1192.2,2697.5 1194.5,2690.3 1194.6,2689.8 1196.8,2696.6 1199.1,2703.8 1201.4,2708.9 1203.7,2687.8 1206.0,2665.9 1208.3,2653.9 1210.6,2675.7 1212.9,2697.6 1215.2,2703.3 1217.5,2707.4 1219.8,2704.6 1222.1,2705.6 1224.4,2685.3 1226.2,2658.2 1226.7,2665.2 1229.0,2689.2 1231.3,2703.2 1233.6,2709.1 1235.9,2708.5 1238.2,2709.1 1240.5,2665.1 1241.6,2642.5 1242.8,2660.7 1243.8,2640.7 1245.1,2668.0 1247.4,2672.1 1249.7,2640.9 1251.0,2623.8 1252.0,2637.1 1252.5,2624.9 1254.3,2664.3 1256.6,2660.3 1258.9,2618.5 1260.3,2593.6 1261.2,2610.5 1263.5,2504.3 1264.9,2370.1 1265.8,2452.6 1268.1,2198.4 1268.4,2162.8 1270.4,2385.6 1272.7,2270.0 1273.1,2223.4 1275.0,2464.2 1276.6,2379.4 1277.3,2439.4 1277.7,2474.6 1279.6,2621.1 1281.9,2682.1 1284.2,2694.2 1286.5,2664.5 1288.2,2642.5 1288.8,2650.1 1291.1,2679.8 1293.4,2705.9 1295.7,2705.8 1298.0,2674.7 1299.8,2642.5 1300.3,2650.3 1302.6,2604.9 1303.3,2584.3 1304.9,2624.3 1307.2,2558.3 1308.0,2535.4 1309.5,2578.5 1311.5,2579.6 1311.8,2587.2 1314.1,2643.7 1315.0,2654.1 1316.4,2680.3 1318.7,2705.2 1321.0,2709.0 1323.3,2667.5 1325.5,2619.2 1325.6,2622.3 1327.9,2673.8 1330.2,2700.4 1332.5,2662.1 1334.8,2603.8 1335.9,2574.9 1337.1,2604.4 1339.4,2662.7 1341.7,2637.4 1342.9,2609.9 1344.0,2634.2 1346.3,2528.1 1348.3,2328.1 1348.6,2360.8 1350.9,2593.4 1351.1,2610.7 1353.2,2664.0 1354.8,2639.1 1355.5,2638.6 1355.7,2635.5 1357.8,2663.7 1360.1,2695.0 1362.4,2707.6 1364.7,2705.1 1367.0,2690.6 1369.3,2684.2 1369.7,2684.4 1371.6,2694.4 1372.4,2692.1 1373.9,2698.8 1376.2,2708.8 1378.5,2704.6 1380.8,2686.0 1383.1,2662.6 1385.4,2689.8 1387.7,2681.2 1390.0,2625.9 1390.1,2623.1 1390.7,2623.8 1392.3,2657.6 1394.6,2644.9 1395.4,2635.5 1396.9,2652.5 1399.2,2668.9 1401.5,2650.3 1403.8,2673.8 1406.1,2697.4 1408.4,2705.2 1410.7,2705.4 1413.0,2668.2 1413.9,2651.8 1414.9,2649.7 1415.3,2657.6 1417.6,2699.9 1419.9,2703.4 1422.2,2700.2 1424.5,2670.7 1426.8,2685.1 1429.1,2672.0 1430.8,2633.7 1431.4,2647.9 1433.7,2675.3 1436.0,2647.1 1436.1,2646.1 1438.3,2673.3 1440.6,2689.3 1442.9,2697.2 1445.2,2705.6 1447.5,2706.9 1449.8,2706.8 1452.1,2702.7 1454.4,2697.2 1456.7,2698.5 1459.0,2704.0 1461.3,2700.8 1463.6,2680.7 1465.9,2615.7 1466.1,2609.0 1468.2,2667.2 1470.5,2660.4 1471.4,2646.1 1472.8,2666.7 1475.1,2701.5 1477.4,2704.7 1479.7,2708.4 1482.0,2705.5 1484.3,2704.4 1486.6,2707.4 1488.9,2706.5 1491.2,2687.9 1492.7,2676.2 1493.5,2683.0 1495.8,2693.7 1498.1,2687.7 1500.4,2698.9 1502.7,2707.2 1505.0,2701.4 1507.3,2685.1 1509.6,2650.3 1510.3,2639.1 1511.9,2662.7 1514.2,2697.5 1516.5,2700.3 1518.8,2635.7 1520.9,2575.4 1521.1,2579.7 1523.4,2644.3 1525.7,2645.2 1526.3,2639.1 1528.0,2658.6 1530.3,2683.5 1532.6,2696.7 1534.9,2703.0 1537.2,2698.5 1539.5,2707.5 1541.8,2699.3 1544.1,2658.4 1545.7,2626.7 1546.4,2640.6 1548.7,2680.0 1551.0,2628.5 1551.0,2628.4 1553.3,2679.8 1555.6,2697.8 1557.9,2692.0 1560.2,2686.1 1562.5,2667.4 1563.4,2660.3 1564.8,2671.8 1567.1,2690.4 1569.4,2701.0 1571.7,2703.9 1574.0,2702.9 1576.3,2688.0 1578.6,2673.1 1580.9,2681.0 1583.2,2695.9 1584.6,2688.6 1585.5,2693.6 1587.8,2703.5 1590.1,2706.6 1592.4,2705.9 1594.7,2709.1 1597.0,2688.2 1598.7,2667.3 1599.3,2674.1 1601.6,2701.7 1603.9,2708.1 1606.2,2688.5 1608.5,2658.2 1610.8,2657.3 1612.9,2582.5 1613.1,2590.2 1615.4,2632.4 1617.7,2582.5 1618.2,2571.9 1620.0,2611.1 1622.3,2624.0 1623.5,2600.2 1624.6,2622.3 1626.9,2668.3 1629.2,2687.3 1631.5,2705.6 1633.8,2697.1 1636.1,2679.3 1637.6,2667.3 1638.4,2673.2 1640.7,2689.1 1643.0,2705.7 1645.3,2699.1 1647.6,2692.5 1649.9,2699.0 1652.2,2705.6 1654.5,2696.1 1656.8,2684.2 1659.1,2689.9 1661.4,2701.8 1663.7,2708.8 1666.0,2707.7 1668.3,2691.6 1670.6,2703.3 1672.9,2705.0 1675.2,2671.5 1676.5,2646.1 1677.5,2664.5 1679.8,2693.0 1682.1,2677.5 1683.6,2667.3 1684.4,2672.7 1686.7,2688.2 1689.0,2703.7 1691.3,2693.2 1693.6,2693.9 1695.9,2698.1 1698.2,2706.9 1700.5,2680.4 1701.3,2670.9 1702.8,2689.2 1705.1,2693.5 1707.4,2687.5" fill="none" stroke="#f08484" stroke-width="4.8" stroke-linejoin="round" stroke-linecap="butt" />
<polyline points="191.7,2686.1 194.0,2645.3 195.5,2618.1 196.3,2631.9 198.6,2663.6 200.8,2639.2 200.9,2640.4 203.2,2666.1 205.5,2656.2 206.1,2649.7 207.8,2670.3 210.1,2697.5 212.4,2709.4 214.7,2708.0 217.0,2683.8 219.3,2680.5 221.6,2698.0 223.6,2674.3 223.9,2677.9 226.2,2705.2 228.5,2688.3 230.6,2635.7 230.8,2640.3 233.1,2697.6 235.4,2707.5 237.7,2682.9 240.0,2658.4 241.1,2646.2 242.3,2658.6 244.6,2683.1 246.9,2697.9 249.2,2698.5 251.5,2700.6 253.8,2671.0 255.2,2653.2 256.1,2665.2 258.4,2694.8 260.7,2701.5 263.0,2662.3 263.9,2646.2 265.3,2669.2 267.6,2707.9 269.9,2708.9 272.2,2706.4 274.5,2701.5 276.8,2699.4 279.1,2675.6 279.7,2669.0 281.4,2686.2 283.7,2697.3 286.0,2687.5 288.3,2693.3 290.6,2703.2 292.9,2681.6 295.2,2665.3 297.5,2669.1 299.0,2656.7 299.8,2662.9 302.1,2681.5 304.4,2692.4 306.7,2699.7 309.0,2707.3 311.3,2706.8 313.6,2704.1 315.9,2702.6 318.2,2685.0 320.1,2669.0 320.5,2672.5 322.8,2692.0 325.1,2708.7 327.4,2705.3 329.7,2701.7 332.0,2700.1 332.4,2698.8 334.3,2705.3 336.6,2701.0 338.9,2691.9 341.2,2692.6 343.5,2667.3 345.8,2579.7 346.4,2556.7 348.1,2621.4 350.4,2618.9 351.7,2570.8 352.7,2610.0 353.4,2637.4 355.0,2658.5 357.3,2681.6 359.6,2694.9 361.9,2704.9 364.2,2708.3 366.5,2709.4 368.8,2700.8 371.1,2658.1 373.4,2678.5 375.7,2660.1 378.0,2614.6 378.0,2615.0 380.3,2638.5 381.5,2614.6 382.6,2636.8 384.9,2682.9 387.2,2704.8 389.5,2674.8 390.3,2663.8 391.8,2670.4 394.1,2691.6 396.4,2708.5 398.7,2709.7 401.0,2700.5 403.3,2702.2 405.6,2678.5 407.8,2641.0 407.9,2642.5 410.2,2681.6 412.5,2708.6 414.8,2693.4 417.1,2631.7 419.4,2569.9 420.1,2551.5 421.7,2594.7 424.0,2554.5 425.4,2509.4 426.3,2541.1 428.6,2617.8 430.9,2657.4 433.2,2581.8 434.1,2551.5 435.5,2596.7 437.8,2618.6 439.4,2565.5 440.1,2589.4 442.4,2666.3 444.7,2703.3 447.0,2679.1 449.3,2645.6 451.6,2612.1 451.7,2611.1 453.9,2638.5 456.2,2523.2 456.9,2486.6 458.5,2565.3 460.8,2593.3 462.2,2537.4 463.1,2573.8 465.4,2666.1 467.7,2677.6 470.0,2675.8 472.3,2696.2 474.6,2705.8 476.9,2701.0 479.2,2699.4 481.5,2692.1 483.2,2674.3 483.8,2679.9 486.1,2671.2 488.4,2655.9 490.7,2682.7 493.0,2701.1 495.3,2668.8 497.3,2641.0 497.6,2645.4 499.9,2677.7 502.2,2697.9 504.5,2704.9 506.8,2703.9 509.1,2702.3 511.4,2707.3 513.7,2706.7 516.0,2698.6 518.3,2690.6 520.6,2696.9 522.9,2704.9 525.2,2709.7 527.5,2704.3 529.8,2709.6 532.1,2701.7 534.4,2659.7 536.7,2617.6 537.6,2600.6 539.0,2625.6 541.3,2640.1 542.9,2607.6 543.6,2622.0 545.9,2668.9 548.2,2707.8 550.5,2706.1 552.8,2675.7 555.1,2631.9 556.9,2597.1 557.4,2606.0 559.7,2604.7 560.0,2597.1 562.0,2647.9 564.3,2639.5 565.3,2625.2 566.6,2645.1 568.9,2679.3 571.2,2706.8 573.5,2704.1 575.8,2685.9 577.5,2663.8 578.1,2670.8 580.4,2700.0 582.7,2690.4 585.0,2702.0 587.3,2703.7 589.6,2708.1 591.9,2704.8 594.2,2698.8 596.5,2697.9 598.8,2692.5 601.1,2665.2 602.1,2653.2 603.4,2668.6 605.7,2686.5 608.0,2702.3 610.3,2709.7 612.6,2705.3 614.9,2707.4 617.2,2702.1 619.5,2694.1 621.8,2675.2 623.2,2658.5 624.1,2670.1 626.4,2691.3 628.7,2706.0 631.0,2709.7 633.3,2706.5 635.6,2681.5 637.9,2695.1 640.2,2669.4 640.7,2663.8 642.5,2675.8 644.8,2686.3 647.1,2635.5 649.4,2584.7 649.5,2583.1 651.7,2632.2 654.0,2683.1 656.3,2663.0 658.2,2614.6 658.6,2623.4 660.9,2679.7 663.2,2706.6 665.5,2678.5 667.8,2636.1 668.8,2618.1 670.1,2642.6 672.4,2682.8 674.7,2683.0 677.0,2701.4 679.3,2701.6 681.6,2677.9 683.9,2627.4 684.6,2612.9 686.2,2648.9 688.5,2682.1 690.8,2663.2 691.6,2656.7 693.1,2669.3 695.4,2688.3 697.7,2706.2 700.0,2698.4 702.3,2700.5 704.6,2707.7 706.9,2705.9 709.2,2707.8 711.5,2684.3 713.8,2673.3 716.1,2637.8 717.9,2583.1 718.4,2598.5 720.7,2565.8 721.4,2539.2 723.0,2599.5 724.9,2586.6 725.3,2595.1 727.6,2645.8 728.4,2642.7 729.9,2666.8 732.2,2672.5 734.5,2648.4 736.8,2668.9 739.1,2693.0 741.4,2647.8 743.7,2597.7 744.2,2586.6 746.0,2625.6 748.3,2593.3 750.6,2516.3 751.2,2495.3 752.9,2551.3 755.2,2628.2 757.5,2511.3 758.2,2472.5 759.8,2553.3 761.8,2488.3 762.1,2503.4 764.4,2603.4 766.7,2702.1 769.0,2625.7 770.5,2562.0 771.3,2594.3 773.6,2521.0 774.0,2505.9 775.9,2568.5 777.5,2490.1 778.2,2521.4 780.5,2631.1 782.8,2585.3 784.6,2523.4 785.1,2542.3 787.4,2623.2 789.7,2580.3 791.6,2470.8 792.0,2495.3 794.3,2629.4 796.6,2582.4 798.6,2509.4 798.9,2520.5 801.2,2604.6 803.5,2655.3 805.6,2614.6 805.8,2618.2 808.1,2662.5 810.4,2622.4 812.6,2576.0 812.7,2577.5 815.0,2625.3 817.3,2650.1 819.6,2587.9 821.4,2539.2 821.9,2552.6 824.2,2614.8 826.5,2647.7 828.8,2553.5 830.2,2497.1 831.1,2535.0 833.4,2609.0 835.4,2504.1 835.7,2517.6 838.0,2635.9 840.3,2704.5 842.6,2676.6 844.2,2655.0 844.9,2664.2 847.2,2695.1 849.5,2705.9 851.8,2709.7 854.1,2707.3 856.4,2707.5 858.7,2707.9 861.0,2707.2 863.3,2701.4 865.6,2689.8 867.9,2665.8 868.8,2656.7 870.2,2671.6 872.5,2695.7 874.8,2699.6 877.1,2689.0 879.4,2672.4 881.1,2658.5 881.7,2663.9 884.0,2683.3 886.3,2700.7 888.6,2708.0 890.9,2702.4 893.2,2700.7 895.5,2708.4 897.8,2698.2 900.1,2685.4 902.1,2674.3 902.4,2673.5 904.7,2688.7 907.0,2696.0 909.3,2683.1 910.9,2674.3 911.6,2678.3 913.9,2691.2 916.2,2704.0 918.5,2707.3 920.8,2677.7 923.1,2633.6 924.9,2598.8 925.4,2608.2 927.7,2632.0 928.4,2618.1 930.0,2648.5 932.3,2692.6 934.6,2581.2 936.9,2467.7 937.2,2453.2 939.2,2492.6 940.3,2420.3 941.5,2504.4 943.8,2526.6 945.5,2434.3 946.1,2465.0 947.3,2528.1 948.4,2587.9 950.7,2661.3 952.5,2634.3 953.0,2641.0 955.3,2660.6 956.1,2644.8 957.6,2677.2 959.9,2707.5 962.2,2682.6 963.1,2672.9 964.5,2688.9 966.8,2706.5 969.1,2703.6 971.4,2706.8 973.7,2701.3 976.0,2691.6 977.1,2686.9 978.3,2692.0 980.6,2699.2 982.9,2660.0 985.2,2686.4 987.5,2662.0 987.6,2660.6 989.8,2683.7 992.1,2700.4 994.4,2689.0 996.7,2659.6 998.2,2629.0 999.0,2646.7 1001.3,2656.7 1003.4,2632.5 1003.6,2634.6 1005.9,2660.7 1008.2,2686.9 1010.5,2707.4 1012.8,2684.4 1015.1,2591.8 1015.7,2567.6 1017.4,2636.0 1019.7,2618.7 1021.0,2595.7 1022.0,2614.5 1024.3,2656.4 1026.2,2676.4 1026.6,2678.4 1028.9,2669.5 1031.2,2681.1 1033.5,2698.8 1035.8,2701.8 1038.1,2701.1 1040.4,2706.4 1042.7,2707.8 1045.0,2657.2 1047.3,2557.1 1047.3,2557.9 1049.6,2649.2 1051.9,2604.6 1052.5,2592.2 1054.2,2624.2 1056.5,2668.8 1058.8,2704.5 1061.1,2700.8 1063.4,2704.9 1065.7,2707.9 1068.0,2709.7 1070.3,2704.3 1072.6,2697.9 1074.9,2694.8 1077.2,2701.2 1079.5,2686.0 1081.8,2667.0 1082.4,2662.4 1084.1,2668.2 1085.9,2655.6 1086.4,2665.3 1088.7,2699.4 1091.0,2709.7 1093.3,2699.9 1095.6,2674.7 1097.9,2651.3 1100.2,2676.5 1102.5,2699.2 1104.8,2679.2 1106.9,2660.6 1107.1,2662.1 1109.4,2682.2 1111.7,2702.2 1114.0,2692.8 1116.3,2655.3 1118.6,2617.9 1119.2,2608.0 1120.9,2635.5 1122.7,2620.3 1123.2,2633.6 1125.5,2697.4 1127.8,2705.4 1130.1,2704.7 1132.4,2697.6 1134.7,2699.6 1137.0,2706.7 1139.3,2704.2 1141.6,2707.8 1143.9,2708.6 1146.2,2709.4 1148.5,2704.0 1150.8,2685.7 1153.1,2672.5 1155.4,2691.8 1157.7,2708.9 1160.0,2692.4 1162.3,2665.5 1163.1,2655.3 1164.6,2675.6 1166.9,2705.9 1169.2,2697.3 1171.5,2677.6 1173.8,2664.8 1176.1,2667.4 1177.1,2650.1 1178.4,2672.4 1180.7,2708.5 1183.0,2709.7 1185.3,2706.9 1187.6,2657.8 1189.9,2680.7 1192.2,2698.1 1194.5,2690.9 1194.6,2690.4 1196.8,2697.2 1199.1,2704.4 1201.4,2709.5 1203.7,2688.4 1206.0,2666.5 1208.3,2654.5 1210.6,2676.3 1212.9,2698.2 1215.2,2703.9 1217.5,2708.0 1219.8,2705.2 1222.1,2706.2 1224.4,2685.9 1226.2,2658.8 1226.7,2665.8 1229.0,2689.8 1231.3,2703.8 1233.6,2709.7 1235.9,2709.1 1238.2,2709.7 1240.5,2665.7 1241.6,2643.1 1242.8,2661.3 1243.8,2641.3 1245.1,2668.6 1247.4,2672.7 1249.7,2641.5 1251.0,2624.4 1252.0,2637.7 1252.5,2625.5 1254.3,2664.9 1256.6,2660.9 1258.9,2619.1 1260.3,2594.2 1261.2,2611.1 1263.5,2504.9 1264.9,2370.7 1265.8,2453.2 1268.1,2199.0 1268.4,2163.4 1270.4,2386.2 1272.7,2270.6 1273.1,2224.0 1275.0,2464.8 1276.6,2380.0 1277.3,2440.0 1277.7,2475.2 1279.6,2621.7 1281.9,2682.7 1284.2,2694.8 1286.5,2665.1 1288.2,2643.1 1288.8,2650.7 1291.1,2680.4 1293.4,2706.5 1295.7,2706.4 1298.0,2675.3 1299.8,2643.1 1300.3,2650.9 1302.6,2605.5 1303.3,2584.9 1304.9,2624.9 1307.2,2558.9 1308.0,2536.0 1309.5,2579.1 1311.5,2580.2 1311.8,2587.8 1314.1,2644.3 1315.0,2654.7 1316.4,2680.9 1318.7,2705.8 1321.0,2709.6 1323.3,2668.1 1325.5,2619.8 1325.6,2622.9 1327.9,2674.4 1330.2,2701.0 1332.5,2662.7 1334.8,2604.4 1335.9,2575.5 1337.1,2605.0 1339.4,2663.3 1341.7,2638.0 1342.9,2610.5 1344.0,2634.8 1346.3,2528.7 1348.3,2328.7 1348.6,2361.4 1350.9,2594.0 1351.1,2611.3 1353.2,2664.6 1354.8,2639.7 1355.5,2639.2 1355.7,2636.1 1357.8,2664.3 1360.1,2695.6 1362.4,2708.2 1364.7,2705.7 1367.0,2691.2 1369.3,2684.8 1369.7,2685.0 1371.6,2695.0 1372.4,2692.7 1373.9,2699.4 1376.2,2709.4 1378.5,2705.2 1380.8,2686.6 1383.1,2663.2 1385.4,2690.4 1387.7,2681.8 1390.0,2626.5 1390.1,2623.7 1390.7,2624.4 1392.3,2658.2 1394.6,2645.5 1395.4,2636.1 1396.9,2653.1 1399.2,2669.5 1401.5,2650.9 1403.8,2674.4 1406.1,2698.0 1408.4,2705.8 1410.7,2706.0 1413.0,2668.8 1413.9,2652.4 1414.9,2650.3 1415.3,2658.2 1417.6,2700.5 1419.9,2704.0 1422.2,2700.8 1424.5,2671.3 1426.8,2685.7 1429.1,2672.6 1430.8,2634.3 1431.4,2648.5 1433.7,2675.9 1436.0,2647.7 1436.1,2646.7 1438.3,2673.9 1440.6,2689.9 1442.9,2697.8 1445.2,2706.2 1447.5,2707.5 1449.8,2707.4 1452.1,2703.3 1454.4,2697.8 1456.7,2699.1 1459.0,2704.6 1461.3,2701.4 1463.6,2681.3 1465.9,2616.3 1466.1,2609.6 1468.2,2667.8 1470.5,2661.0 1471.4,2646.7 1472.8,2667.3 1475.1,2702.1 1477.4,2705.3 1479.7,2709.0 1482.0,2706.1 1484.3,2705.0 1486.6,2708.0 1488.9,2707.1 1491.2,2688.5 1492.7,2676.8 1493.5,2683.6 1495.8,2694.3 1498.1,2688.3 1500.4,2699.5 1502.7,2707.8 1505.0,2702.0 1507.3,2685.7 1509.6,2650.9 1510.3,2639.7 1511.9,2663.3 1514.2,2698.1 1516.5,2700.9 1518.8,2636.3 1520.9,2576.0 1521.1,2580.3 1523.4,2644.9 1525.7,2645.8 1526.3,2639.7 1528.0,2659.2 1530.3,2684.1 1532.6,2697.3 1534.9,2703.6 1537.2,2699.1 1539.5,2708.1 1541.8,2699.9 1544.1,2659.0 1545.7,2627.3 1546.4,2641.2 1548.7,2680.6 1551.0,2629.1 1551.0,2629.0 1553.3,2680.4 1555.6,2698.4 1557.9,2692.6 1560.2,2686.7 1562.5,2668.0 1563.4,2660.9 1564.8,2672.4 1567.1,2691.0 1569.4,2701.6 1571.7,2704.5 1574.0,2703.5 1576.3,2688.6 1578.6,2673.7 1580.9,2681.6 1583.2,2696.5 1584.6,2689.2 1585.5,2694.2 1587.8,2704.1 1590.1,2707.2 1592.4,2706.5 1594.7,2709.7 1597.0,2688.8 1598.7,2667.9 1599.3,2674.7 1601.6,2702.3 1603.9,2708.7 1606.2,2689.1 1608.5,2658.8 1610.8,2657.9 1612.9,2583.1 1613.1,2590.8 1615.4,2633.0 1617.7,2583.1 1618.2,2572.5 1620.0,2611.7 1622.3,2624.6 1623.5,2600.8 1624.6,2622.9 1626.9,2668.9 1629.2,2687.9 1631.5,2706.2 1633.8,2697.7 1636.1,2679.9 1637.6,2667.9 1638.4,2673.8 1640.7,2689.7 1643.0,2706.3 1645.3,2699.7 1647.6,2693.1 1649.9,2699.6 1652.2,2706.2 1654.5,2696.7 1656.8,2684.8 1659.1,2690.5 1661.4,2702.4 1663.7,2709.4 1666.0,2708.3 1668.3,2692.2 1670.6,2703.9 1672.9,2705.6 1675.2,2672.1 1676.5,2646.7 1677.5,2665.1 1679.8,2693.6 1682.1,2678.1 1683.6,2667.9 1684.4,2673.3 1686.7,2688.8 1689.0,2704.3 1691.3,2693.8 1693.6,2694.5 1695.9,2698.7 1698.2,2707.5 1700.5,2681.0 1701.3,2671.5 1702.8,2689.8 1705.1,2694.1 1707.4,2688.1" fill="none" stroke="#ffb26e" stroke-width="4.8" stroke-linejoin="round" stroke-linecap="butt" />
<polyline points="191.7,2686.9 194.0,2646.1 195.5,2618.9 196.3,2632.7 198.6,2664.4 200.8,2640.0 200.9,2641.2 203.2,2666.9 205.5,2657.0 206.1,2650.5 207.8,2671.1 210.1,2698.3 212.4,2710.2 214.7,2708.8 217.0,2684.6 219.3,2681.3 221.6,2698.8 223.6,2675.1 223.9,2678.7 226.2,2706.0 228.5,2689.1 230.6,2636.5 230.8,2641.1 233.1,2698.4 235.4,2708.3 237.7,2683.7 240.0,2659.2 241.1,2647.0 242.3,2659.4 244.6,2683.9 246.9,2698.7 249.2,2699.3 251.5,2701.4 253.8,2671.8 255.2,2654.0 256.1,2666.0 258.4,2695.6 260.7,2702.3 263.0,2663.1 263.9,2647.0 265.3,2670.0 267.6,2708.7 269.9,2709.7 272.2,2707.2 274.5,2702.3 276.8,2700.2 279.1,2676.4 279.7,2669.8 281.4,2687.0 283.7,2698.1 286.0,2688.3 288.3,2694.1 290.6,2704.0 292.9,2682.4 295.2,2666.1 297.5,2669.9 299.0,2657.5 299.8,2663.7 302.1,2682.3 304.4,2693.2 306.7,2700.5 309.0,2708.1 311.3,2707.6 313.6,2704.9 315.9,2703.4 318.2,2685.8 320.1,2669.8 320.5,2673.3 322.8,2692.8 325.1,2709.5 327.4,2706.1 329.7,2702.5 332.0,2700.9 332.4,2699.6 334.3,2706.1 336.6,2701.8 338.9,2692.7 341.2,2693.4 343.5,2668.1 345.8,2580.5 346.4,2557.5 348.1,2622.2 350.4,2619.7 351.7,2571.6 352.7,2610.8 353.4,2638.2 355.0,2659.3 357.3,2682.4 359.6,2695.7 361.9,2705.7 364.2,2709.1 366.5,2710.2 368.8,2701.6 371.1,2658.9 373.4,2679.3 375.7,2660.9 378.0,2615.4 378.0,2615.8 380.3,2639.3 381.5,2615.4 382.6,2637.6 384.9,2683.7 387.2,2705.6 389.5,2675.6 390.3,2664.6 391.8,2671.2 394.1,2692.4 396.4,2709.3 398.7,2710.5 401.0,2701.3 403.3,2703.0 405.6,2679.3 407.8,2641.8 407.9,2643.3 410.2,2682.4 412.5,2709.4 414.8,2694.2 417.1,2632.5 419.4,2570.7 420.1,2552.3 421.7,2595.5 424.0,2555.3 425.4,2510.2 426.3,2541.9 428.6,2618.6 430.9,2658.2 433.2,2582.6 434.1,2552.3 435.5,2597.5 437.8,2619.4 439.4,2566.3 440.1,2590.2 442.4,2667.1 444.7,2704.1 447.0,2679.9 449.3,2646.4 451.6,2612.9 451.7,2611.9 453.9,2639.3 456.2,2524.0 456.9,2487.4 458.5,2566.1 460.8,2594.1 462.2,2538.2 463.1,2574.6 465.4,2666.9 467.7,2678.4 470.0,2676.6 472.3,2697.0 474.6,2706.6 476.9,2701.8 479.2,2700.2 481.5,2692.9 483.2,2675.1 483.8,2680.7 486.1,2672.0 488.4,2656.7 490.7,2683.5 493.0,2701.9 495.3,2669.6 497.3,2641.8 497.6,2646.2 499.9,2678.5 502.2,2698.7 504.5,2705.7 506.8,2704.7 509.1,2703.1 511.4,2708.1 513.7,2707.5 516.0,2699.4 518.3,2691.4 520.6,2697.7 522.9,2705.7 525.2,2710.5 527.5,2705.1 529.8,2710.4 532.1,2702.5 534.4,2660.5 536.7,2618.4 537.6,2601.4 539.0,2626.4 541.3,2640.9 542.9,2608.4 543.6,2622.8 545.9,2669.7 548.2,2708.6 550.5,2706.9 552.8,2676.5 555.1,2632.7 556.9,2597.9 557.4,2606.8 559.7,2605.5 560.0,2597.9 562.0,2648.7 564.3,2640.3 565.3,2626.0 566.6,2645.9 568.9,2680.1 571.2,2707.6 573.5,2704.9 575.8,2686.7 577.5,2664.6 578.1,2671.6 580.4,2700.8 582.7,2691.2 585.0,2702.8 587.3,2704.5 589.6,2708.9 591.9,2705.6 594.2,2699.6 596.5,2698.7 598.8,2693.3 601.1,2666.0 602.1,2654.0 603.4,2669.4 605.7,2687.3 608.0,2703.1 610.3,2710.5 612.6,2706.1 614.9,2708.2 617.2,2702.9 619.5,2694.9 621.8,2676.0 623.2,2659.3 624.1,2670.9 626.4,2692.1 628.7,2706.8 631.0,2710.5 633.3,2707.3 635.6,2682.3 637.9,2695.9 640.2,2670.2 640.7,2664.6 642.5,2676.6 644.8,2687.1 647.1,2636.3 649.4,2585.5 649.5,2583.9 651.7,2633.0 654.0,2683.9 656.3,2663.8 658.2,2615.4 658.6,2624.2 660.9,2680.5 663.2,2707.4 665.5,2679.3 667.8,2636.9 668.8,2618.9 670.1,2643.4 672.4,2683.6 674.7,2683.8 677.0,2702.2 679.3,2702.4 681.6,2678.7 683.9,2628.2 684.6,2613.7 686.2,2649.7 688.5,2682.9 690.8,2664.0 691.6,2657.5 693.1,2670.1 695.4,2689.1 697.7,2707.0 700.0,2699.2 702.3,2701.3 704.6,2708.5 706.9,2706.7 709.2,2708.6 711.5,2685.1 713.8,2674.1 716.1,2638.6 717.9,2583.9 718.4,2599.3 720.7,2566.6 721.4,2540.0 723.0,2600.3 724.9,2587.4 725.3,2595.9 727.6,2646.6 728.4,2643.5 729.9,2667.6 732.2,2673.3 734.5,2649.2 736.8,2669.7 739.1,2693.8 741.4,2648.6 743.7,2598.5 744.2,2587.4 746.0,2626.4 748.3,2594.1 750.6,2517.1 751.2,2496.1 752.9,2552.1 755.2,2629.0 757.5,2512.1 758.2,2473.3 759.8,2554.1 761.8,2489.1 762.1,2504.2 764.4,2604.2 766.7,2702.9 769.0,2626.5 770.5,2562.8 771.3,2595.1 773.6,2521.8 774.0,2506.7 775.9,2569.3 777.5,2490.9 778.2,2522.2 780.5,2631.9 782.8,2586.1 784.6,2524.2 785.1,2543.1 787.4,2624.0 789.7,2581.1 791.6,2471.6 792.0,2496.1 794.3,2630.2 796.6,2583.2 798.6,2510.2 798.9,2521.3 801.2,2605.4 803.5,2656.1 805.6,2615.4 805.8,2619.0 808.1,2663.3 810.4,2623.2 812.6,2576.8 812.7,2578.3 815.0,2626.1 817.3,2650.9 819.6,2588.7 821.4,2540.0 821.9,2553.4 824.2,2615.6 826.5,2648.5 828.8,2554.3 830.2,2497.9 831.1,2535.8 833.4,2609.8 835.4,2504.9 835.7,2518.4 838.0,2636.7 840.3,2705.3 842.6,2677.4 844.2,2655.8 844.9,2665.0 847.2,2695.9 849.5,2706.7 851.8,2710.5 854.1,2708.1 856.4,2708.3 858.7,2708.7 861.0,2708.0 863.3,2702.2 865.6,2690.6 867.9,2666.6 868.8,2657.5 870.2,2672.4 872.5,2696.5 874.8,2700.4 877.1,2689.8 879.4,2673.2 881.1,2659.3 881.7,2664.7 884.0,2684.1 886.3,2701.5 888.6,2708.8 890.9,2703.2 893.2,2701.5 895.5,2709.2 897.8,2699.0 900.1,2686.2 902.1,2675.1 902.4,2674.3 904.7,2689.5 907.0,2696.8 909.3,2683.9 910.9,2675.1 911.6,2679.1 913.9,2692.0 916.2,2704.8 918.5,2708.1 920.8,2678.5 923.1,2634.4 924.9,2599.6 925.4,2609.0 927.7,2632.8 928.4,2618.9 930.0,2649.3 932.3,2693.4 934.6,2582.0 936.9,2468.5 937.2,2454.0 939.2,2493.4 940.3,2421.1 941.5,2505.2 943.8,2527.4 945.5,2435.1 946.1,2465.8 947.3,2528.9 948.4,2588.7 950.7,2662.1 952.5,2635.1 953.0,2641.8 955.3,2661.4 956.1,2645.6 957.6,2678.0 959.9,2708.3 962.2,2683.4 963.1,2673.7 964.5,2689.7 966.8,2707.3 969.1,2704.4 971.4,2707.6 973.7,2702.1 976.0,2692.4 977.1,2687.7 978.3,2692.8 980.6,2700.0 982.9,2660.8 985.2,2687.2 987.5,2662.8 987.6,2661.4 989.8,2684.5 992.1,2701.2 994.4,2689.8 996.7,2660.4 998.2,2629.8 999.0,2647.5 1001.3,2657.5 1003.4,2633.3 1003.6,2635.4 1005.9,2661.5 1008.2,2687.7 1010.5,2708.2 1012.8,2685.2 1015.1,2592.6 1015.7,2568.4 1017.4,2636.8 1019.7,2619.5 1021.0,2596.5 1022.0,2615.3 1024.3,2657.2 1026.2,2677.2 1026.6,2679.2 1028.9,2670.3 1031.2,2681.9 1033.5,2699.6 1035.8,2702.6 1038.1,2701.9 1040.4,2707.2 1042.7,2708.6 1045.0,2658.0 1047.3,2557.9 1047.3,2558.7 1049.6,2650.0 1051.9,2605.4 1052.5,2593.0 1054.2,2625.0 1056.5,2669.6 1058.8,2705.3 1061.1,2701.6 1063.4,2705.7 1065.7,2708.7 1068.0,2710.5 1070.3,2705.1 1072.6,2698.7 1074.9,2695.6 1077.2,2702.0 1079.5,2686.8 1081.8,2667.8 1082.4,2663.2 1084.1,2669.0 1085.9,2656.4 1086.4,2666.1 1088.7,2700.2 1091.0,2710.5 1093.3,2700.7 1095.6,2675.5 1097.9,2652.1 1100.2,2677.3 1102.5,2700.0 1104.8,2680.0 1106.9,2661.4 1107.1,2662.9 1109.4,2683.0 1111.7,2703.0 1114.0,2693.6 1116.3,2656.1 1118.6,2618.7 1119.2,2608.8 1120.9,2636.3 1122.7,2621.1 1123.2,2634.4 1125.5,2698.2 1127.8,2706.2 1130.1,2705.5 1132.4,2698.4 1134.7,2700.4 1137.0,2707.5 1139.3,2705.0 1141.6,2708.6 1143.9,2709.4 1146.2,2710.2 1148.5,2704.8 1150.8,2686.5 1153.1,2673.3 1155.4,2692.6 1157.7,2709.7 1160.0,2693.2 1162.3,2666.3 1163.1,2656.1 1164.6,2676.4 1166.9,2706.7 1169.2,2698.1 1171.5,2678.4 1173.8,2665.6 1176.1,2668.2 1177.1,2650.9 1178.4,2673.2 1180.7,2709.3 1183.0,2710.5 1185.3,2707.7 1187.6,2658.6 1189.9,2681.5 1192.2,2698.9 1194.5,2691.7 1194.6,2691.2 1196.8,2698.0 1199.1,2705.2 1201.4,2710.3 1203.7,2689.2 1206.0,2667.3 1208.3,2655.3 1210.6,2677.1 1212.9,2699.0 1215.2,2704.7 1217.5,2708.8 1219.8,2706.0 1222.1,2707.0 1224.4,2686.7 1226.2,2659.6 1226.7,2666.6 1229.0,2690.6 1231.3,2704.6 1233.6,2710.5 1235.9,2709.9 1238.2,2710.5 1240.5,2666.5 1241.6,2643.9 1242.8,2662.1 1243.8,2642.1 1245.1,2669.4 1247.4,2673.5 1249.7,2642.3 1251.0,2625.2 1252.0,2638.5 1252.5,2626.3 1254.3,2665.7 1256.6,2661.7 1258.9,2619.9 1260.3,2595.0 1261.2,2611.9 1263.5,2505.7 1264.9,2371.5 1265.8,2454.0 1268.1,2199.8 1268.4,2164.2 1270.4,2387.0 1272.7,2271.4 1273.1,2224.8 1275.0,2465.6 1276.6,2380.8 1277.3,2440.8 1277.7,2476.0 1279.6,2622.5 1281.9,2683.5 1284.2,2695.6 1286.5,2665.9 1288.2,2643.9 1288.8,2651.5 1291.1,2681.2 1293.4,2707.3 1295.7,2707.2 1298.0,2676.1 1299.8,2643.9 1300.3,2651.7 1302.6,2606.3 1303.3,2585.7 1304.9,2625.7 1307.2,2559.7 1308.0,2536.8 1309.5,2579.9 1311.5,2581.0 1311.8,2588.6 1314.1,2645.1 1315.0,2655.5 1316.4,2681.7 1318.7,2706.6 1321.0,2710.4 1323.3,2668.9 1325.5,2620.6 1325.6,2623.7 1327.9,2675.2 1330.2,2701.8 1332.5,2663.5 1334.8,2605.2 1335.9,2576.3 1337.1,2605.8 1339.4,2664.1 1341.7,2638.8 1342.9,2611.3 1344.0,2635.6 1346.3,2529.5 1348.3,2329.5 1348.6,2362.2 1350.9,2594.8 1351.1,2612.1 1353.2,2665.4 1354.8,2640.5 1355.5,2640.0 1355.7,2636.9 1357.8,2665.1 1360.1,2696.4 1362.4,2709.0 1364.7,2706.5 1367.0,2692.0 1369.3,2685.6 1369.7,2685.8 1371.6,2695.8 1372.4,2693.5 1373.9,2700.2 1376.2,2710.2 1378.5,2706.0 1380.8,2687.4 1383.1,2664.0 1385.4,2691.2 1387.7,2682.6 1390.0,2627.3 1390.1,2624.5 1390.7,2625.2 1392.3,2659.0 1394.6,2646.3 1395.4,2636.9 1396.9,2653.9 1399.2,2670.3 1401.5,2651.7 1403.8,2675.2 1406.1,2698.8 1408.4,2706.6 1410.7,2706.8 1413.0,2669.6 1413.9,2653.2 1414.9,2651.1 1415.3,2659.0 1417.6,2701.3 1419.9,2704.8 1422.2,2701.6 1424.5,2672.1 1426.8,2686.5 1429.1,2673.4 1430.8,2635.1 1431.4,2649.3 1433.7,2676.7 1436.0,2648.5 1436.1,2647.5 1438.3,2674.7 1440.6,2690.7 1442.9,2698.6 1445.2,2707.0 1447.5,2708.3 1449.8,2708.2 1452.1,2704.1 1454.4,2698.6 1456.7,2699.9 1459.0,2705.4 1461.3,2702.2 1463.6,2682.1 1465.9,2617.1 1466.1,2610.4 1468.2,2668.6 1470.5,2661.8 1471.4,2647.5 1472.8,2668.1 1475.1,2702.9 1477.4,2706.1 1479.7,2709.8 1482.0,2706.9 1484.3,2705.8 1486.6,2708.8 1488.9,2707.9 1491.2,2689.3 1492.7,2677.6 1493.5,2684.4 1495.8,2695.1 1498.1,2689.1 1500.4,2700.3 1502.7,2708.6 1505.0,2702.8 1507.3,2686.5 1509.6,2651.7 1510.3,2640.5 1511.9,2664.1 1514.2,2698.9 1516.5,2701.7 1518.8,2637.1 1520.9,2576.8 1521.1,2581.1 1523.4,2645.7 1525.7,2646.6 1526.3,2640.5 1528.0,2660.0 1530.3,2684.9 1532.6,2698.1 1534.9,2704.4 1537.2,2699.9 1539.5,2708.9 1541.8,2700.7 1544.1,2659.8 1545.7,2628.1 1546.4,2642.0 1548.7,2681.4 1551.0,2629.9 1551.0,2629.8 1553.3,2681.2 1555.6,2699.2 1557.9,2693.4 1560.2,2687.5 1562.5,2668.8 1563.4,2661.7 1564.8,2673.2 1567.1,2691.8 1569.4,2702.4 1571.7,2705.3 1574.0,2704.3 1576.3,2689.4 1578.6,2674.5 1580.9,2682.4 1583.2,2697.3 1584.6,2690.0 1585.5,2695.0 1587.8,2704.9 1590.1,2708.0 1592.4,2707.3 1594.7,2710.5 1597.0,2689.6 1598.7,2668.7 1599.3,2675.5 1601.6,2703.1 1603.9,2709.5 1606.2,2689.9 1608.5,2659.6 1610.8,2658.7 1612.9,2583.9 1613.1,2591.6 1615.4,2633.8 1617.7,2583.9 1618.2,2573.3 1620.0,2612.5 1622.3,2625.4 1623.5,2601.6 1624.6,2623.7 1626.9,2669.7 1629.2,2688.7 1631.5,2707.0 1633.8,2698.5 1636.1,2680.7 1637.6,2668.7 1638.4,2674.6 1640.7,2690.5 1643.0,2707.1 1645.3,2700.5 1647.6,2693.9 1649.9,2700.4 1652.2,2707.0 1654.5,2697.5 1656.8,2685.6 1659.1,2691.3 1661.4,2703.2 1663.7,2710.2 1666.0,2709.1 1668.3,2693.0 1670.6,2704.7 1672.9,2706.4 1675.2,2672.9 1676.5,2647.5 1677.5,2665.9 1679.8,2694.4 1682.1,2678.9 1683.6,2668.7 1684.4,2674.1 1686.7,2689.6 1689.0,2705.1 1691.3,2694.6 1693.6,2695.3 1695.9,2699.5 1698.2,2708.3 1700.5,2681.8 1701.3,2672.3 1702.8,2690.6 1705.1,2694.9 1707.4,2688.9" fill="none" stroke="#b494da" stroke-width="4.8" stroke-linejoin="round" stroke-linecap="butt" />
</g>
<text x="0" y="0" font-size="64" text-anchor="end" font-weight="bold" transform="translate(165.8 2730.1) scale(1.068 1)" >0</text>
<text x="0" y="0" font-size="64" text-anchor="end" font-weight="bold" transform="translate(165.8 2663.4) scale(1.068 1)" >2</text>
<text x="0" y="0" font-size="64" text-anchor="end" font-weight="bold" transform="translate(165.8 2596.8) scale(1.068 1)" >4</text>
<text x="0" y="0" font-size="64" text-anchor="end" font-weight="bold" transform="translate(165.8 2530.1) scale(1.068 1)" >6</text>
<text x="0" y="0" font-size="64" text-anchor="end" font-weight="bold" transform="translate(165.8 2463.5) scale(1.068 1)" >8</text>
<text x="0" y="0" font-size="64" text-anchor="end" font-weight="bold" transform="translate(165.8 2396.8) scale(1.068 1)" >10</text>
<text x="0" y="0" font-size="64" text-anchor="end" font-weight="bold" transform="translate(165.8 2330.1) scale(1.068 1)" >12</text>
<text x="0" y="0" font-size="64" text-anchor="end" font-weight="bold" transform="translate(165.8 2263.5) scale(1.068 1)" >14</text>
<text x="0" y="0" font-size="64" text-anchor="end" font-weight="bold" transform="translate(165.8 2196.8) scale(1.068 1)" >16</text>
<text x="0" y="0" font-size="64" text-anchor="end" font-weight="bold" transform="translate(165.8 2130.2) scale(1.068 1)" >18</text>
<text x="0" y="0" font-size="64" text-anchor="end" font-weight="bold" transform="translate(165.8 2063.5) scale(1.068 1)" >20</text>
<text x="0" y="0" font-size="64.8" text-anchor="middle" font-weight="bold" transform="translate(187.7 2785.5) scale(1.03 1)" >0</text>
<text x="0" y="0" font-size="64.8" text-anchor="middle" font-weight="bold" transform="translate(491.6 2785.5) scale(1.03 1)" >1</text>
<text x="0" y="0" font-size="64.8" text-anchor="middle" font-weight="bold" transform="translate(795.4 2785.5) scale(1.03 1)" >2</text>
<text x="0" y="0" font-size="64.8" text-anchor="middle" font-weight="bold" transform="translate(1099.3 2785.5) scale(1.03 1)" >3</text>
<text x="0" y="0" font-size="64.8" text-anchor="middle" font-weight="bold" transform="translate(1403.1 2785.5) scale(1.03 1)" >4</text>
<text x="0" y="0" font-size="64.8" text-anchor="middle" font-weight="bold" transform="translate(1707 2785.5) scale(1.03 1)" >5</text>
<text x="960.8" y="2874.7" font-size="61" text-anchor="middle" font-weight="bold" >Time/min</text>
<text transform="translate(75.5 2379.5) rotate(-90)" font-size="64" font-style="italic" font-weight="bold" text-anchor="middle">&#955;</text>
<rect x="995" y="2064.5" width="672.5" height="85.5" fill="#fff" stroke="#222" stroke-width="2.8"/>
<path d="M1002 2108.2H1129" stroke="#7cbbe8" stroke-width="6.5" stroke-linecap="round"/>
<text x="0" y="0" font-size="59" text-anchor="start" font-weight="bold" transform="translate(1157.3 2129.2) scale(1.053 1)" >Conventional units</text>
<rect x="1293" y="2181" width="372.4" height="320.7" fill="#fff" stroke="#222" stroke-width="2.8"/>
<path d="M1299.5 2225.5H1428.5" stroke="#7fd47f" stroke-width="6.5" stroke-linecap="round"/>
<text x="0" y="0" font-size="60" text-anchor="start" font-weight="bold" transform="translate(1454.2 2245.8) scale(1.038 1)" >BESS 1</text>
<path d="M1299.5 2303.1H1428.5" stroke="#f08484" stroke-width="6.5" stroke-linecap="round"/>
<text x="0" y="0" font-size="60" text-anchor="start" font-weight="bold" transform="translate(1454.2 2323.4) scale(1.038 1)" >BESS 2</text>
<path d="M1299.5 2380.7H1428.5" stroke="#ffb26e" stroke-width="6.5" stroke-linecap="round"/>
<text x="0" y="0" font-size="60" text-anchor="start" font-weight="bold" transform="translate(1454.2 2401) scale(1.038 1)" >BESS 3</text>
<path d="M1299.5 2458.3H1428.5" stroke="#b494da" stroke-width="6.5" stroke-linecap="round"/>
<text x="0" y="0" font-size="60" text-anchor="start" font-weight="bold" transform="translate(1454.2 2478.6) scale(1.038 1)" >BESS 4</text>
<rect x="740.3" y="2465.8" width="73.2" height="75.2" fill="none" stroke="#222" stroke-width="6.2" stroke-dasharray="15 11"/>
<path d="M719.5 2489.7L668 2421" stroke="#000" stroke-width="3.6"/>
<path d="M647.4 2394.2L679.9 2422.7L664.7 2432.8Z" fill="#000"/>
<rect x="285.8" y="2080" width="649.7" height="262.7" fill="#fff" stroke="none" stroke-width="0"/>
<clipPath id="c5"><rect x="285.8" y="2080" width="649.7" height="262.7"/></clipPath>
<g clip-path="url(#c5)">
<polyline points="294.2,2356.9 335.6,2162.6 370.7,2356.9 405.7,2105.3 444.0,2223.1 453.5,2356.9" fill="none" stroke="#7fd47f" stroke-width="2.4" stroke-linejoin="round" stroke-linecap="butt" />
<polyline points="294.7,2357.9 336.1,2163.6 371.2,2357.9 406.2,2106.3 444.5,2224.1 454.0,2357.9" fill="none" stroke="#7cbbe8" stroke-width="2.4" stroke-linejoin="round" stroke-linecap="butt" />
<polyline points="295.0,2358.4 336.4,2164.1 371.4,2358.4 406.5,2106.8 444.7,2224.6 454.3,2358.4" fill="none" stroke="#f08484" stroke-width="2.4" stroke-linejoin="round" stroke-linecap="butt" />
<polyline points="295.2,2358.9 336.6,2164.6 371.7,2358.9 406.7,2107.3 445.0,2225.1 454.5,2358.9" fill="none" stroke="#ffb26e" stroke-width="2.4" stroke-linejoin="round" stroke-linecap="butt" />
<polyline points="295.5,2359.4 336.9,2165.1 371.9,2359.4 407.0,2107.8 445.2,2225.6 454.8,2359.4" fill="none" stroke="#b494da" stroke-width="2.4" stroke-linejoin="round" stroke-linecap="butt" />
<polyline points="568.2,2356.9 617.9,2153.1 633.2,2356.9" fill="none" stroke="#7fd47f" stroke-width="2.4" stroke-linejoin="round" stroke-linecap="butt" />
<polyline points="568.7,2357.9 618.4,2154.1 633.7,2357.9" fill="none" stroke="#7cbbe8" stroke-width="2.4" stroke-linejoin="round" stroke-linecap="butt" />
<polyline points="568.9,2358.4 618.6,2154.6 633.9,2358.4" fill="none" stroke="#f08484" stroke-width="2.4" stroke-linejoin="round" stroke-linecap="butt" />
<polyline points="569.2,2358.9 618.9,2155.1 634.2,2358.9" fill="none" stroke="#ffb26e" stroke-width="2.4" stroke-linejoin="round" stroke-linecap="butt" />
<polyline points="569.4,2359.4 619.1,2155.6 634.4,2359.4" fill="none" stroke="#b494da" stroke-width="2.4" stroke-linejoin="round" stroke-linecap="butt" />
<polyline points="718.5,2350.9 758.9,2138.5 794.6,2088.9 830.4,2283.9 865.1,2189.3 881.2,2350.9" fill="none" stroke="#7fd47f" stroke-width="2.4" stroke-linejoin="round" stroke-linecap="butt" />
<polyline points="718.5,2350.9 758.9,2141.9 794.6,2093.8 830.4,2287.4 865.1,2193.3 881.2,2350.9" fill="none" stroke="#7cbbe8" stroke-width="2.4" stroke-linejoin="round" stroke-linecap="butt" />
<polyline points="718.5,2350.9 758.9,2145.4 794.6,2098.7 830.4,2290.8 865.1,2197.3 881.2,2350.9" fill="none" stroke="#f08484" stroke-width="2.4" stroke-linejoin="round" stroke-linecap="butt" />
<polyline points="718.5,2350.9 758.9,2148.9 794.6,2103.6 830.4,2294.3 865.1,2201.4 881.2,2350.9" fill="none" stroke="#ffb26e" stroke-width="2.4" stroke-linejoin="round" stroke-linecap="butt" />
<polyline points="718.5,2350.9 758.9,2152.3 794.6,2108.5 830.4,2297.8 865.1,2205.4 881.2,2350.9" fill="none" stroke="#b494da" stroke-width="2.4" stroke-linejoin="round" stroke-linecap="butt" />
</g>
<rect x="285.8" y="2080" width="649.7" height="262.7" fill="none" stroke="#000" stroke-width="5.6" stroke-linecap="square"/>
<path d="M354.8 2342.7V2332.7M354.8 2080V2090M477.8 2342.7V2332.7M477.8 2080V2090M600.9 2342.7V2332.7M600.9 2080V2090M723.9 2342.7V2332.7M723.9 2080V2090M846.9 2342.7V2332.7M846.9 2080V2090" stroke="#000" stroke-width="4.2" fill="none"/>
<path d="M293.3 2342.7V2336.7M293.3 2080V2086M416.3 2342.7V2336.7M416.3 2080V2086M539.3 2342.7V2336.7M539.3 2080V2086M662.4 2342.7V2336.7M662.4 2080V2086M785.4 2342.7V2336.7M785.4 2080V2086M908.4 2342.7V2336.7M908.4 2080V2086" stroke="#000" stroke-width="4.2" fill="none"/>
<path d="M285.8 2315.2H296.8M935.5 2315.2H924.5M285.8 2274.7H296.8M935.5 2274.7H924.5M285.8 2234.2H296.8M935.5 2234.2H924.5M285.8 2193.7H296.8M935.5 2193.7H924.5M285.8 2153.2H296.8M935.5 2153.2H924.5M285.8 2112.7H296.8M935.5 2112.7H924.5" stroke="#000" stroke-width="4.2" fill="none"/>
<path d="M285.8 2335.4H291.8M935.5 2335.4H929.5M285.8 2294.9H291.8M935.5 2294.9H929.5M285.8 2254.4H291.8M935.5 2254.4H929.5M285.8 2213.9H291.8M935.5 2213.9H929.5M285.8 2173.4H291.8M935.5 2173.4H929.5M285.8 2132.9H291.8M935.5 2132.9H929.5M285.8 2092.4H291.8M935.5 2092.4H929.5" stroke="#000" stroke-width="4.2" fill="none"/>
<text x="270.9" y="2327" font-size="42" text-anchor="end" font-weight="bold" >4.5</text>
<text x="270.9" y="2286.5" font-size="42" text-anchor="end" font-weight="bold" >5.0</text>
<text x="270.9" y="2246" font-size="42" text-anchor="end" font-weight="bold" >5.5</text>
<text x="270.9" y="2205.5" font-size="42" text-anchor="end" font-weight="bold" >6.0</text>
<text x="270.9" y="2165" font-size="42" text-anchor="end" font-weight="bold" >6.5</text>
<text x="270.9" y="2124.5" font-size="42" text-anchor="end" font-weight="bold" >7.0</text>
<text x="354.8" y="2382.8" font-size="42" text-anchor="middle" font-weight="bold" >1.855</text>
<text x="477.8" y="2382.8" font-size="42" text-anchor="middle" font-weight="bold" >1.890</text>
<text x="600.9" y="2382.8" font-size="42" text-anchor="middle" font-weight="bold" >1.925</text>
<text x="723.9" y="2382.8" font-size="42" text-anchor="middle" font-weight="bold" >1.960</text>
<text x="846.9" y="2382.8" font-size="42" text-anchor="middle" font-weight="bold" >1.995</text>
<text x="0" y="0" font-size="72" transform="translate(838 2992.2) scale(1 1.13)">(</text>
<text x="0" y="0" font-size="72" transform="translate(897.1 2992.2) scale(1 1.13)">)</text>
<text x="0" y="0" font-size="72" font-weight="bold" text-anchor="middle" transform="translate(880.1 2992.2) scale(1.086 1.13)">c</text>
<rect x="191" y="3197.6" width="1489" height="651.8" fill="none" stroke="#000" stroke-width="7.5" stroke-linecap="square"/>
<path d="M339.9 3849.4V3826.4M339.9 3197.6V3220.6M488.8 3849.4V3826.4M488.8 3197.6V3220.6M637.7 3849.4V3826.4M637.7 3197.6V3220.6M786.6 3849.4V3826.4M786.6 3197.6V3220.6M935.5 3849.4V3826.4M935.5 3197.6V3220.6M1084.4 3849.4V3826.4M1084.4 3197.6V3220.6M1233.3 3849.4V3826.4M1233.3 3197.6V3220.6M1382.2 3849.4V3826.4M1382.2 3197.6V3220.6M1531.1 3849.4V3826.4M1531.1 3197.6V3220.6" stroke="#000" stroke-width="7.2" fill="none"/>
<path d="M265.4 3849.4V3837.8M265.4 3197.6V3209.2M414.4 3849.4V3837.8M414.4 3197.6V3209.2M563.2 3849.4V3837.8M563.2 3197.6V3209.2M712.1 3849.4V3837.8M712.1 3197.6V3209.2M861.1 3849.4V3837.8M861.1 3197.6V3209.2M1010 3849.4V3837.8M1010 3197.6V3209.2M1158.8 3849.4V3837.8M1158.8 3197.6V3209.2M1307.8 3849.4V3837.8M1307.8 3197.6V3209.2M1456.7 3849.4V3837.8M1456.7 3197.6V3209.2M1605.5 3849.4V3837.8M1605.5 3197.6V3209.2" stroke="#000" stroke-width="7.2" fill="none"/>
<path d="M191 3802H214M1680 3802H1657M191 3709.2H214M1680 3709.2H1657M191 3616.3H214M1680 3616.3H1657M191 3523.5H214M1680 3523.5H1657M191 3430.7H214M1680 3430.7H1657M191 3337.8H214M1680 3337.8H1657M191 3245H214M1680 3245H1657" stroke="#000" stroke-width="7.2" fill="none"/>
<path d="M191 3755.6H202.6M1680 3755.6H1668.4M191 3662.7H202.6M1680 3662.7H1668.4M191 3569.9H202.6M1680 3569.9H1668.4M191 3477.1H202.6M1680 3477.1H1668.4M191 3384.3H202.6M1680 3384.3H1668.4M191 3291.4H202.6M1680 3291.4H1668.4" stroke="#000" stroke-width="7.2" fill="none"/>
<clipPath id="c6"><rect x="191" y="3197.6" width="1489" height="651.8"/></clipPath>
<g clip-path="url(#c6)">
<polyline points="191.7,3522.1 194.3,3522.1 194.3,3451.6 196.8,3451.6 196.8,3387.1 199.4,3387.1 199.4,3416.4 202.0,3416.4 202.0,3470.8 203.7,3470.8 203.7,3472.1 205.4,3472.1 205.4,3443.5 207.7,3443.5 207.7,3461.3 209.9,3461.3 209.9,3507.7 212.2,3507.7 212.2,3539.2 214.5,3539.2 214.5,3529.9 216.8,3529.9 216.8,3514.0 219.0,3514.0 219.0,3491.3 221.6,3491.3 221.6,3486.7 224.2,3486.7 224.2,3464.0 226.7,3464.0 226.7,3464.2 229.3,3464.2 229.3,3460.6 231.9,3460.6 231.9,3436.5 234.4,3436.5 234.4,3426.4 236.7,3426.4 236.7,3496.7 239.0,3496.7 239.0,3571.4 241.2,3571.4 241.2,3651.9 244.1,3651.9 244.1,3642.1 246.9,3642.1 246.9,3617.2 249.8,3617.2 249.8,3580.2 252.6,3580.2 252.6,3579.7 255.5,3579.7 255.5,3597.1 258.3,3597.1 258.3,3617.7 261.2,3617.7 261.2,3572.2 264.0,3572.2 264.0,3553.0 266.9,3553.0 266.9,3535.7 269.4,3535.7 269.4,3517.8 272.0,3517.8 272.0,3472.0 274.6,3472.0 274.6,3451.1 277.1,3451.1 277.1,3429.8 280.0,3429.8 280.0,3448.5 282.8,3448.5 282.8,3477.7 285.7,3477.7 285.7,3491.3 287.9,3491.3 287.9,3526.6 290.2,3526.6 290.2,3563.2 292.5,3563.2 292.5,3597.2 294.8,3597.2 294.8,3532.8 297.0,3532.8 297.0,3482.3 299.3,3482.3 299.3,3426.4 301.9,3426.4 301.9,3469.5 304.5,3469.5 304.5,3539.2 306.2,3539.2 306.2,3528.5 307.9,3528.5 307.9,3505.0 310.4,3505.0 310.4,3521.6 313.0,3521.6 313.0,3546.0 315.3,3546.0 315.3,3564.6 317.5,3564.6 317.5,3598.8 319.8,3598.8 319.8,3614.3 322.4,3614.3 322.4,3588.3 325.0,3588.3 325.0,3534.1 327.5,3534.1 327.5,3502.4 330.1,3502.4 330.1,3470.8 332.4,3470.8 332.4,3489.3 334.6,3489.3 334.6,3501.7 336.9,3501.7 336.9,3522.1 339.5,3522.1 339.5,3570.4 342.0,3570.4 342.0,3605.5 344.6,3605.5 344.6,3655.2 347.2,3655.2 347.2,3692.9 349.7,3692.9 349.7,3652.9 352.3,3652.9 352.3,3607.8 354.8,3607.8 354.8,3580.4 357.4,3580.4 357.4,3539.2 359.7,3539.2 359.7,3542.3 362.0,3542.3 362.0,3568.3 364.2,3568.3 364.2,3569.9 367.2,3569.9 367.2,3526.2 370.2,3526.2 370.2,3489.1 373.2,3489.1 373.2,3432.4 376.2,3432.4 376.2,3385.4 378.8,3385.4 378.8,3424.0 381.3,3424.0 381.3,3464.0 383.9,3464.0 383.9,3452.0 386.4,3452.0 386.4,3436.7 389.3,3436.7 389.3,3492.4 392.1,3492.4 392.1,3532.5 395.0,3532.5 395.0,3597.2 397.6,3597.2 397.6,3595.6 400.1,3595.6 400.1,3627.9 402.7,3627.9 402.7,3618.2 405.2,3618.2 405.2,3638.2 407.5,3638.2 407.5,3587.7 409.8,3587.7 409.8,3514.5 412.1,3514.5 412.1,3443.5 414.9,3443.5 414.9,3411.9 417.8,3411.9 417.8,3376.5 420.6,3376.5 420.6,3344.4 423.2,3344.4 423.2,3390.7 425.7,3390.7 425.7,3419.6 428.3,3419.6 428.3,3410.2 430.9,3410.2 430.9,3388.8 433.4,3388.8 433.4,3403.6 436.0,3403.6 436.0,3419.6 438.3,3419.6 438.3,3453.8 440.5,3453.8 440.5,3481.9 442.8,3481.9 442.8,3505.0 445.4,3505.0 445.4,3526.8 447.9,3526.8 447.9,3559.7 450.5,3559.7 450.5,3444.2 453.1,3444.2 453.1,3344.4 455.3,3344.4 455.3,3392.7 457.6,3392.7 457.6,3439.9 459.9,3439.9 459.9,3487.9 462.5,3487.9 462.5,3500.9 465.0,3500.9 465.0,3517.3 467.6,3517.3 467.6,3530.6 470.2,3530.6 470.2,3539.2 472.7,3539.2 472.7,3564.9 475.3,3564.9 475.3,3567.9 477.8,3567.9 477.8,3591.1 480.4,3591.1 480.4,3607.5 483.0,3607.5 483.0,3557.4 485.5,3557.4 485.5,3503.3 488.1,3503.3 488.1,3449.3 490.6,3449.3 490.6,3402.5 492.9,3402.5 492.9,3424.8 495.2,3424.8 495.2,3473.1 497.5,3473.1 497.5,3505.0 500.3,3505.0 500.3,3534.5 503.2,3534.5 503.2,3555.7 506.0,3555.7 506.0,3583.6 508.6,3583.6 508.6,3532.6 511.1,3532.6 511.1,3467.4 513.9,3467.4 513.9,3471.1 516.6,3471.1 516.6,3488.4 519.3,3488.4 519.3,3504.7 522.1,3504.7 522.1,3525.8 524.8,3525.8 524.8,3539.2 527.7,3539.2 527.7,3480.6 530.5,3480.6 530.5,3425.6 533.4,3425.6 533.4,3382.0 535.6,3382.0 535.6,3440.5 537.9,3440.5 537.9,3509.6 540.2,3509.6 540.2,3569.9 543.1,3569.9 543.1,3541.3 545.9,3541.3 545.9,3476.6 548.8,3476.6 548.8,3444.7 551.7,3444.7 551.7,3399.1 552.1,3399.1 552.1,3399.1 554.8,3399.1 554.8,3415.2 557.5,3415.2 557.5,3409.9 560.2,3409.9 560.2,3426.4 562.8,3426.4 562.8,3476.5 565.4,3476.5 565.4,3532.3 568.2,3532.3 568.2,3519.1 571.1,3519.1 571.1,3483.0 573.9,3483.0 573.9,3457.2 576.5,3457.2 576.5,3483.3 579.0,3483.3 579.0,3496.7 581.6,3496.7 581.6,3544.7 584.2,3544.7 584.2,3552.8 587.2,3552.8 587.2,3574.8 590.1,3574.8 590.1,3591.6 593.1,3591.6 593.1,3597.3 596.1,3597.3 596.1,3628.0 598.4,3628.0 598.4,3586.9 600.7,3586.9 600.7,3552.3 603.0,3552.3 603.0,3477.7 605.7,3477.7 605.7,3481.0 608.4,3481.0 608.4,3459.1 611.2,3459.1 611.2,3446.3 613.9,3446.3 613.9,3430.4 616.6,3430.4 616.6,3436.7 619.5,3436.7 619.5,3466.3 622.3,3466.3 622.3,3509.4 625.2,3509.4 625.2,3535.7 627.4,3535.7 627.4,3497.6 629.7,3497.6 629.7,3474.3 632.0,3474.3 632.0,3443.5 634.8,3443.5 634.8,3426.4 637.7,3426.4 637.7,3405.8 640.5,3405.8 640.5,3387.1 643.4,3387.1 643.4,3388.4 646.2,3388.4 646.2,3418.6 649.1,3418.6 649.1,3423.0 651.4,3423.0 651.4,3458.9 653.6,3458.9 653.6,3478.2 655.9,3478.2 655.9,3505.0 658.5,3505.0 658.5,3466.3 661.0,3466.3 661.0,3426.4 663.9,3426.4 663.9,3470.8 666.7,3470.8 666.7,3508.9 669.6,3508.9 669.6,3539.2 671.9,3539.2 671.9,3579.3 674.1,3579.3 674.1,3614.5 676.4,3614.5 676.4,3669.0 678.7,3669.0 678.7,3631.1 681.0,3631.1 681.0,3599.5 683.2,3599.5 683.2,3573.3 685.8,3573.3 685.8,3501.4 688.4,3501.4 688.4,3450.3 691.2,3450.3 691.2,3501.1 694.1,3501.1 694.1,3531.3 696.9,3531.3 696.9,3552.8 699.2,3552.8 699.2,3528.0 701.5,3528.0 701.5,3501.3 703.7,3501.3 703.7,3460.6 706.6,3460.6 706.6,3547.4 709.4,3547.4 709.4,3617.1 712.3,3617.1 712.3,3696.3 715.1,3696.3 715.1,3677.4 718.0,3677.4 718.0,3640.8 720.8,3640.8 720.8,3607.5 723.1,3607.5 723.1,3585.8 725.4,3585.8 725.4,3538.2 727.7,3538.2 727.7,3491.3 730.5,3491.3 730.5,3530.2 733.4,3530.2 733.4,3596.1 736.2,3596.1 736.2,3641.6 738.5,3641.6 738.5,3656.0 740.8,3656.0 740.8,3669.9 743.0,3669.9 743.0,3692.9 745.9,3692.9 745.9,3662.8 748.7,3662.8 748.7,3619.7 751.6,3619.7 751.6,3590.4 753.8,3590.4 753.8,3611.4 756.1,3611.4 756.1,3630.1 758.4,3630.1 758.4,3658.7 760.7,3658.7 760.7,3670.9 763.0,3670.9 763.0,3684.4 765.2,3684.4 765.2,3679.2 768.1,3679.2 768.1,3652.5 770.9,3652.5 770.9,3613.3 773.8,3613.3 773.8,3573.3 776.6,3573.3 776.6,3606.4 779.5,3606.4 779.5,3650.2 782.3,3650.2 782.3,3686.1 784.6,3686.1 784.6,3663.2 786.9,3663.2 786.9,3635.2 789.2,3635.2 789.2,3607.5 791.4,3607.5 791.4,3586.9 793.7,3586.9 793.7,3589.5 796.0,3589.5 796.0,3573.3 798.8,3573.3 798.8,3581.2 801.7,3581.2 801.7,3624.6 804.5,3624.6 804.5,3634.8 806.8,3634.8 806.8,3647.7 809.1,3647.7 809.1,3643.6 811.4,3643.6 811.4,3658.7 814.2,3658.7 814.2,3660.1 817.1,3660.1 817.1,3677.3 819.9,3677.3 819.9,3675.8 822.2,3675.8 822.2,3609.5 824.5,3609.5 824.5,3547.4 826.7,3547.4 826.7,3474.2 829.3,3474.2 829.3,3525.2 831.9,3525.2 831.9,3590.4 834.9,3590.4 834.9,3510.7 838.0,3510.7 838.0,3440.1 840.5,3440.1 840.5,3476.8 843.0,3476.8 843.0,3498.3 845.5,3498.3 845.5,3532.3 848.5,3532.3 848.5,3555.9 851.5,3555.9 851.5,3573.9 854.5,3573.9 854.5,3593.3 857.5,3593.3 857.5,3614.3 860.6,3614.3 860.6,3592.4 863.6,3592.4 863.6,3557.5 866.7,3557.5 866.7,3530.5 869.8,3530.5 869.8,3504.2 872.9,3504.2 872.9,3481.1 875.7,3481.1 875.7,3479.8 878.6,3479.8 878.6,3499.3 881.4,3499.3 881.4,3505.0 883.7,3505.0 883.7,3552.7 886.0,3552.7 886.0,3579.7 888.2,3579.7 888.2,3610.9 891.0,3610.9 891.0,3584.6 893.7,3584.6 893.7,3561.5 896.4,3561.5 896.4,3532.3 899.2,3532.3 899.2,3505.8 901.9,3505.8 901.9,3487.9 904.5,3487.9 904.5,3531.6 907.0,3531.6 907.0,3574.2 909.6,3574.2 909.6,3624.3 912.1,3624.3 912.1,3658.7 915.1,3658.7 915.1,3539.2 918.1,3539.2 918.1,3570.7 921.1,3570.7 921.1,3621.6 924.1,3621.6 924.1,3668.6 927.1,3668.6 927.1,3699.7 929.6,3699.7 929.6,3681.7 932.2,3681.7 932.2,3648.5 934.8,3648.5 934.8,3604.7 937.3,3604.7 937.3,3590.4 940.5,3590.4 940.5,3570.8 943.6,3570.8 943.6,3578.4 946.7,3578.4 946.7,3552.1 949.9,3552.1 949.9,3535.8 953.0,3535.8 953.0,3519.7 956.1,3519.7 956.1,3511.8 958.4,3511.8 958.4,3529.4 960.7,3529.4 960.7,3558.2 963.0,3558.2 963.0,3573.3 966.0,3573.3 966.0,3554.2 969.1,3554.2 969.1,3546.5 972.2,3546.5 972.2,3544.9 975.3,3544.9 975.3,3516.4 978.3,3516.4 978.3,3494.7 980.9,3494.7 980.9,3573.9 983.5,3573.9 983.5,3641.6 986.3,3641.6 986.3,3595.0 989.1,3595.0 989.1,3555.4 992.0,3555.4 992.0,3525.5 994.8,3525.5 994.8,3583.2 997.7,3583.2 997.7,3622.0 1000.5,3622.0 1000.5,3672.4 1003.3,3672.4 1003.3,3632.0 1006.0,3632.0 1006.0,3605.1 1008.7,3605.1 1008.7,3570.7 1011.5,3570.7 1011.5,3514.6 1014.2,3514.6 1014.2,3474.2 1017.0,3474.2 1017.0,3478.8 1019.9,3478.8 1019.9,3490.6 1022.7,3490.6 1022.7,3491.3 1025.3,3491.3 1025.3,3479.8 1027.9,3479.8 1027.9,3423.2 1030.4,3423.2 1030.4,3393.7 1033.0,3393.7 1033.0,3354.7 1035.8,3354.7 1035.8,3446.4 1038.7,3446.4 1038.7,3525.9 1041.5,3525.9 1041.5,3607.5 1043.8,3607.5 1043.8,3571.4 1046.1,3571.4 1046.1,3511.7 1048.4,3511.7 1048.4,3470.8 1051.2,3470.8 1051.2,3493.5 1054.1,3493.5 1054.1,3521.1 1056.9,3521.1 1056.9,3539.2 1059.8,3539.2 1059.8,3504.3 1062.6,3504.3 1062.6,3474.5 1065.4,3474.5 1065.4,3441.8 1068.3,3441.8 1068.3,3482.4 1071.1,3482.4 1071.1,3498.8 1074.0,3498.8 1074.0,3525.5 1077.1,3525.5 1077.1,3547.8 1080.1,3547.8 1080.1,3576.9 1083.2,3576.9 1083.2,3586.3 1086.3,3586.3 1086.3,3595.7 1089.4,3595.7 1089.4,3617.7 1092.1,3617.7 1092.1,3573.0 1094.8,3573.0 1094.8,3506.2 1097.6,3506.2 1097.6,3453.9 1100.3,3453.9 1100.3,3420.8 1103.0,3420.8 1103.0,3368.3 1105.9,3368.3 1105.9,3434.3 1108.7,3434.3 1108.7,3492.9 1111.6,3492.9 1111.6,3580.2 1114.6,3580.2 1114.6,3563.1 1117.7,3563.1 1117.7,3548.0 1120.8,3548.0 1120.8,3524.2 1123.9,3524.2 1123.9,3512.4 1126.9,3512.4 1126.9,3481.1 1129.5,3481.1 1129.5,3492.3 1132.1,3492.3 1132.1,3481.1 1135.1,3481.1 1135.1,3516.9 1138.0,3516.9 1138.0,3559.7 1141.0,3559.7 1141.0,3591.8 1144.0,3591.8 1144.0,3631.4 1146.9,3631.4 1146.9,3574.9 1149.7,3574.9 1149.7,3533.0 1152.6,3533.0 1152.6,3474.2 1154.8,3474.2 1154.8,3529.4 1157.1,3529.4 1157.1,3583.5 1159.4,3583.5 1159.4,3634.8 1162.0,3634.8 1162.0,3597.7 1164.5,3597.7 1164.5,3556.4 1167.1,3556.4 1167.1,3504.1 1169.7,3504.1 1169.7,3464.0 1171.9,3464.0 1171.9,3505.0 1174.2,3505.0 1174.2,3540.9 1176.5,3540.9 1176.5,3583.6 1178.8,3583.6 1178.8,3546.7 1181.0,3546.7 1181.0,3518.2 1183.3,3518.2 1183.3,3498.2 1186.1,3498.2 1186.1,3508.1 1188.8,3508.1 1188.8,3506.7 1191.5,3506.7 1191.5,3502.3 1194.3,3502.3 1194.3,3499.9 1197.0,3499.9 1197.0,3501.6 1199.8,3501.6 1199.8,3531.3 1202.7,3531.3 1202.7,3584.8 1205.5,3584.8 1205.5,3614.3 1208.3,3614.3 1208.3,3615.9 1211.0,3615.9 1211.0,3608.2 1213.7,3608.2 1213.7,3597.9 1216.5,3597.9 1216.5,3594.6 1219.2,3594.6 1219.2,3604.1 1221.8,3604.1 1221.8,3615.9 1224.3,3615.9 1224.3,3612.7 1226.9,3612.7 1226.9,3621.1 1229.4,3621.1 1229.4,3617.7 1232.3,3617.7 1232.3,3584.5 1235.1,3584.5 1235.1,3561.6 1238.0,3561.6 1238.0,3539.2 1240.5,3539.2 1240.5,3610.1 1242.9,3610.1 1242.9,3680.2 1245.4,3680.2 1245.4,3740.7 1247.9,3740.7 1247.9,3811.1 1250.6,3811.1 1250.6,3745.5 1253.4,3745.5 1253.4,3696.3 1256.2,3696.3 1256.2,3642.4 1259.0,3642.4 1259.0,3578.3 1261.9,3578.3 1261.9,3515.2 1264.6,3515.2 1264.6,3540.5 1267.3,3540.5 1267.3,3567.5 1270.0,3567.5 1270.0,3593.8 1272.1,3593.8 1272.1,3587.0 1275.3,3587.0 1275.3,3560.2 1278.5,3560.2 1278.5,3539.2 1280.8,3539.2 1280.8,3590.8 1283.1,3590.8 1283.1,3630.7 1285.4,3630.7 1285.4,3669.0 1287.7,3669.0 1287.7,3654.6 1289.9,3654.6 1289.9,3604.7 1292.2,3604.7 1292.2,3573.3 1295.2,3573.3 1295.2,3574.6 1298.2,3574.6 1298.2,3611.0 1301.2,3611.0 1301.2,3609.3 1304.2,3609.3 1304.2,3614.3 1307.0,3614.3 1307.0,3580.6 1309.9,3580.6 1309.9,3563.1 1312.7,3563.1 1312.7,3535.7 1314.4,3535.7 1314.4,3651.9 1317.0,3651.9 1317.0,3678.8 1319.5,3678.8 1319.5,3664.3 1322.1,3664.3 1322.1,3697.1 1324.7,3697.1 1324.7,3696.3 1327.2,3696.3 1327.2,3606.3 1329.8,3606.3 1329.8,3539.2 1332.8,3539.2 1332.8,3539.8 1335.8,3539.8 1335.8,3536.5 1338.8,3536.5 1338.8,3526.1 1341.7,3526.1 1341.7,3522.1 1344.5,3522.1 1344.5,3519.5 1347.2,3519.5 1347.2,3511.6 1349.9,3511.6 1349.9,3509.7 1352.7,3509.7 1352.7,3512.4 1355.4,3512.4 1355.4,3508.4 1358.4,3508.4 1358.4,3530.7 1361.4,3530.7 1361.4,3569.1 1364.4,3569.1 1364.4,3606.0 1367.4,3606.0 1367.4,3641.6 1370.4,3641.6 1370.4,3611.1 1373.5,3611.1 1373.5,3583.7 1376.6,3583.7 1376.6,3554.2 1379.7,3554.2 1379.7,3518.6 1382.7,3518.6 1382.7,3494.7 1385.6,3494.7 1385.6,3464.6 1388.4,3464.6 1388.4,3442.0 1391.3,3442.0 1391.3,3416.2 1393.6,3416.2 1393.6,3448.7 1395.8,3448.7 1395.8,3500.3 1398.1,3500.3 1398.1,3539.2 1401.0,3539.2 1401.0,3570.8 1403.8,3570.8 1403.8,3602.6 1406.7,3602.6 1406.7,3645.1 1409.2,3645.1 1409.2,3612.5 1411.8,3612.5 1411.8,3563.6 1414.3,3563.6 1414.3,3505.6 1416.9,3505.6 1416.9,3477.7 1419.9,3477.7 1419.9,3504.4 1422.9,3504.4 1422.9,3505.6 1425.9,3505.6 1425.9,3542.9 1428.9,3542.9 1428.9,3552.8 1431.9,3552.8 1431.9,3510.1 1434.8,3510.1 1434.8,3483.1 1437.8,3483.1 1437.8,3440.1 1440.8,3440.1 1440.8,3395.7 1443.4,3395.7 1443.4,3455.2 1445.9,3455.2 1445.9,3513.0 1448.5,3513.0 1448.5,3556.3 1451.1,3556.3 1451.1,3621.1 1453.6,3621.1 1453.6,3593.7 1456.2,3593.7 1456.2,3572.9 1458.8,3572.9 1458.8,3558.0 1461.3,3558.0 1461.3,3539.2 1464.1,3539.2 1464.1,3512.5 1466.8,3512.5 1466.8,3504.6 1469.5,3504.6 1469.5,3497.5 1472.3,3497.5 1472.3,3496.0 1475.0,3496.0 1475.0,3474.2 1477.8,3474.2 1477.8,3524.3 1480.7,3524.3 1480.7,3580.4 1483.5,3580.4 1483.5,3641.6 1486.5,3641.6 1486.5,3647.7 1489.5,3647.7 1489.5,3649.4 1492.5,3649.4 1492.5,3655.7 1495.5,3655.7 1495.5,3669.0 1497.8,3669.0 1497.8,3607.7 1500.0,3607.7 1500.0,3536.7 1502.3,3536.7 1502.3,3477.7 1505.2,3477.7 1505.2,3499.8 1508.0,3499.8 1508.0,3525.1 1510.9,3525.1 1510.9,3555.7 1513.7,3555.7 1513.7,3581.7 1516.6,3581.7 1516.6,3601.9 1519.4,3601.9 1519.4,3628.0 1522.0,3628.0 1522.0,3593.8 1524.5,3593.8 1524.5,3564.1 1527.1,3564.1 1527.1,3564.4 1529.7,3564.4 1529.7,3539.2 1532.2,3539.2 1532.2,3578.7 1534.8,3578.7 1534.8,3600.6 1537.8,3600.6 1537.8,3576.2 1540.8,3576.2 1540.8,3553.0 1543.7,3553.0 1543.7,3522.1 1546.7,3522.1 1546.7,3491.3 1549.6,3491.3 1549.6,3477.8 1552.4,3477.8 1552.4,3478.5 1555.3,3478.5 1555.3,3460.6 1558.0,3460.6 1558.0,3488.3 1560.7,3488.3 1560.7,3519.6 1563.5,3519.6 1563.5,3546.3 1566.2,3546.3 1566.2,3576.6 1568.9,3576.6 1568.9,3624.6 1571.5,3624.6 1571.5,3582.1 1574.1,3582.1 1574.1,3537.3 1576.6,3537.3 1576.6,3526.2 1579.2,3526.2 1579.2,3487.9 1581.5,3487.9 1581.5,3543.7 1583.7,3543.7 1583.7,3602.6 1586.0,3602.6 1586.0,3662.1 1588.3,3662.1 1588.3,3640.3 1590.6,3640.3 1590.6,3617.1 1592.9,3617.1 1592.9,3607.5 1595.1,3607.5 1595.1,3574.9 1597.4,3574.9 1597.4,3522.6 1599.7,3522.6 1599.7,3501.6 1602.5,3501.6 1602.5,3520.5 1605.4,3520.5 1605.4,3557.8 1608.2,3557.8 1608.2,3590.4 1610.5,3590.4 1610.5,3544.3 1612.8,3544.3 1612.8,3514.2 1615.1,3514.2 1615.1,3464.0 1617.3,3464.0 1617.3,3518.8 1619.6,3518.8 1619.6,3533.0 1621.9,3533.0 1621.9,3566.5 1624.2,3566.5 1624.2,3543.3 1626.5,3543.3 1626.5,3523.5 1628.7,3523.5 1628.7,3505.0 1631.5,3505.0 1631.5,3501.3 1634.4,3501.3 1634.4,3483.1 1637.2,3483.1 1637.2,3451.9 1640.0,3451.9 1640.0,3453.7 1643.0,3453.7 1643.0,3455.4 1646.0,3455.4 1646.0,3464.1 1649.0,3464.1 1649.0,3479.5 1652.1,3479.5 1652.1,3478.6 1655.1,3478.6 1655.1,3481.8 1658.1,3481.8 1658.1,3493.9 1661.1,3493.9 1661.1,3511.4 1664.1,3511.4 1664.1,3513.4 1667.1,3513.4 1667.1,3530.8 1670.1,3530.8 1670.1,3533.8 1673.1,3533.8 1673.1,3539.2 1676.1,3539.2 1676.1,3525.3 1679.0,3525.3 1679.0,3525.9 1681.9,3525.9 1681.9,3514.6 1684.9,3514.6 1684.9,3492.0 1687.8,3492.0 1687.8,3496.5 1690.7,3496.5 1690.7,3480.0 1693.6,3480.0 1693.6,3477.7" fill="none" stroke="#85d885" stroke-width="3.0" stroke-linejoin="miter" stroke-linecap="butt" />
<polyline points="191.0,3523.5 197.0,3523.4 203.0,3523.4 209.0,3523.3 215.0,3523.3 221.0,3523.2 227.0,3523.2 233.0,3523.1 239.0,3523.1 245.0,3523.0 251.0,3522.9 257.0,3522.9 263.0,3522.8 269.0,3522.8 275.0,3522.7 281.0,3522.7 287.0,3522.6 293.0,3522.5 299.0,3522.5 305.0,3522.4 311.0,3522.4 317.0,3522.3 323.0,3522.3 329.0,3522.2 335.0,3522.2 341.0,3522.1 347.0,3522.0 353.0,3522.0 359.0,3521.9 365.0,3521.9 371.0,3521.8 377.0,3521.8 383.0,3521.7 389.0,3521.6 395.0,3521.6 401.0,3521.5 407.0,3521.5 413.0,3521.4 419.0,3521.4 425.0,3521.3 431.0,3521.3 437.0,3521.2 443.0,3521.1 449.0,3521.1 455.0,3521.0 461.0,3521.0 467.0,3520.9 473.0,3520.9 479.0,3520.8 485.0,3520.8 491.0,3520.5 497.0,3519.8 503.0,3519.2 509.0,3518.5 515.0,3517.9 521.0,3517.2 527.0,3516.5 533.0,3515.9 539.0,3515.2 545.0,3514.6 551.0,3513.9 557.0,3513.3 563.0,3512.7 569.0,3512.1 575.0,3511.4 581.0,3510.8 587.0,3510.2 593.0,3509.6 599.0,3509.0 605.0,3508.3 611.0,3507.7 617.0,3507.1 623.0,3506.5 629.0,3505.8 635.0,3505.2 641.0,3504.6 647.0,3504.0 653.0,3503.3 659.0,3502.7 665.0,3502.1 671.0,3501.5 677.0,3500.9 683.0,3500.2 689.0,3499.6 695.0,3499.0 701.0,3498.4 707.0,3497.7 713.0,3497.1 719.0,3496.5 725.0,3495.9 731.0,3495.7 737.0,3495.7 743.0,3495.7 749.0,3495.7 755.0,3495.7 761.0,3496.5 767.0,3497.7 773.0,3498.9 779.0,3500.1 785.0,3501.4 791.0,3502.6 797.0,3503.8 803.0,3505.0 809.0,3506.2 815.0,3507.4 821.0,3508.9 827.0,3510.4 833.0,3511.9 839.0,3513.4 845.0,3514.9 851.0,3516.4 857.0,3517.8 863.0,3519.2 869.0,3520.2 875.0,3521.3 881.0,3522.3 887.0,3523.3 893.0,3524.3 899.0,3525.4 905.0,3526.4 911.0,3527.4 917.0,3528.5 923.0,3529.5 929.0,3530.6 935.0,3531.8 941.0,3532.9 947.0,3534.0 953.0,3535.1 959.0,3536.2 965.0,3537.4 971.0,3538.5 977.0,3539.6 983.0,3540.7 989.0,3541.9 995.0,3543.0 1001.0,3544.1 1007.0,3545.2 1013.0,3546.0 1019.0,3546.5 1025.0,3546.9 1031.0,3547.4 1037.0,3547.8 1043.0,3548.3 1049.0,3548.7 1055.0,3549.1 1061.0,3549.6 1067.0,3550.0 1073.0,3550.5 1079.0,3550.9 1085.0,3551.3 1091.0,3551.3 1097.0,3551.3 1103.0,3551.3 1109.0,3551.3 1115.0,3551.3 1121.0,3551.3 1127.0,3551.3 1133.0,3551.3 1139.0,3551.3 1145.0,3551.3 1151.0,3551.3 1157.0,3551.3 1163.0,3551.3 1169.0,3551.3 1175.0,3551.3 1181.0,3551.3 1187.0,3551.3 1193.0,3551.3 1199.0,3551.3 1205.0,3551.3 1211.0,3551.3 1217.0,3551.3 1223.0,3551.3 1229.0,3551.3 1235.0,3551.3 1241.0,3551.3 1247.0,3551.3 1253.0,3551.3 1259.0,3551.3 1265.0,3551.6 1271.0,3552.3 1277.0,3553.1 1283.0,3553.8 1289.0,3554.6 1295.0,3555.3 1301.0,3556.1 1307.0,3556.8 1313.0,3557.6 1319.0,3558.3 1325.0,3559.1 1331.0,3559.8 1337.0,3560.6 1343.0,3561.6 1349.0,3562.7 1355.0,3563.7 1361.0,3564.8 1367.0,3565.8 1373.0,3566.9 1379.0,3567.9 1385.0,3569.0 1391.0,3570.1 1397.0,3571.1 1403.0,3572.2 1409.0,3573.0 1415.0,3573.7 1421.0,3574.4 1427.0,3575.1 1433.0,3575.8 1439.0,3576.4 1445.0,3577.1 1451.0,3577.8 1457.0,3578.5 1463.0,3579.2 1469.0,3579.8 1475.0,3580.3 1481.0,3580.6 1487.0,3580.9 1493.0,3581.2 1499.0,3581.5 1505.0,3581.8 1511.0,3582.1 1517.0,3582.4 1523.0,3582.7 1529.0,3583.0 1535.0,3583.3 1541.0,3583.6 1547.0,3583.9 1553.0,3584.1 1559.0,3584.3 1565.0,3584.6 1571.0,3584.8 1577.0,3585.0 1583.0,3585.2 1589.0,3585.4 1595.0,3585.7 1601.0,3585.9 1607.0,3586.1 1613.0,3586.3 1619.0,3586.6 1625.0,3586.8 1631.0,3587.0 1637.0,3587.1 1643.0,3587.3 1649.0,3587.5 1655.0,3587.7 1661.0,3587.9 1667.0,3588.1 1673.0,3588.3 1679.0,3588.4" fill="none" stroke="#7ab9e8" stroke-width="3.2" stroke-linejoin="round" stroke-linecap="butt" />
<polyline points="191.7,3522.4 194.3,3522.4 194.3,3467.4 196.8,3467.4 196.8,3417.1 199.4,3417.1 199.4,3439.9 202.0,3439.9 202.0,3482.4 203.7,3482.4 203.7,3483.4 205.4,3483.4 205.4,3461.1 207.7,3461.1 207.7,3475.0 209.9,3475.0 209.9,3511.1 212.2,3511.1 212.2,3535.7 214.5,3535.7 214.5,3528.5 216.8,3528.5 216.8,3516.1 219.0,3516.1 219.0,3498.4 221.6,3498.4 221.6,3494.8 224.2,3494.8 224.2,3477.1 226.7,3477.1 226.7,3477.2 229.3,3477.2 229.3,3474.4 231.9,3474.4 231.9,3455.7 234.4,3455.7 234.4,3447.8 236.7,3447.8 236.7,3502.6 239.0,3502.6 239.0,3560.9 241.2,3560.9 241.2,3623.6 244.1,3623.6 244.1,3616.0 246.9,3616.0 246.9,3596.6 249.8,3596.6 249.8,3567.7 252.6,3567.7 252.6,3567.3 255.5,3567.3 255.5,3580.9 258.3,3580.9 258.3,3597.0 261.2,3597.0 261.2,3561.5 264.0,3561.5 264.0,3546.5 266.9,3546.5 266.9,3533.0 269.4,3533.0 269.4,3519.1 272.0,3519.1 272.0,3483.4 274.6,3483.4 274.6,3467.0 277.1,3467.0 277.1,3450.4 280.0,3450.4 280.0,3465.0 282.8,3465.0 282.8,3487.8 285.7,3487.8 285.7,3498.4 287.9,3498.4 287.9,3525.9 290.2,3525.9 290.2,3554.4 292.5,3554.4 292.5,3581.0 294.8,3581.0 294.8,3530.8 297.0,3530.8 297.0,3491.4 299.3,3491.4 299.3,3447.8 301.9,3447.8 301.9,3481.4 304.5,3481.4 304.5,3535.7 306.2,3535.7 306.2,3527.4 307.9,3527.4 307.9,3509.1 310.4,3509.1 310.4,3522.0 313.0,3522.0 313.0,3541.0 315.3,3541.0 315.3,3555.6 317.5,3555.6 317.5,3582.2 319.8,3582.2 319.8,3594.3 322.4,3594.3 322.4,3574.1 325.0,3574.1 325.0,3531.8 327.5,3531.8 327.5,3507.0 330.1,3507.0 330.1,3482.4 332.4,3482.4 332.4,3496.8 334.6,3496.8 334.6,3506.5 336.9,3506.5 336.9,3522.4 339.5,3522.4 339.5,3560.1 342.0,3560.1 342.0,3587.5 344.6,3587.5 344.6,3626.3 347.2,3626.3 347.2,3655.6 349.7,3655.6 349.7,3624.4 352.3,3624.4 352.3,3589.2 354.8,3589.2 354.8,3567.9 357.4,3567.9 357.4,3535.7 359.7,3535.7 359.7,3538.2 362.0,3538.2 362.0,3558.4 364.2,3558.4 364.2,3559.7 367.2,3559.7 367.2,3525.6 370.2,3525.6 370.2,3496.6 373.2,3496.6 373.2,3452.4 376.2,3452.4 376.2,3415.8 378.8,3415.8 378.8,3445.9 381.3,3445.9 381.3,3477.1 383.9,3477.1 383.9,3467.7 386.4,3467.7 386.4,3455.8 389.3,3455.8 389.3,3499.3 392.1,3499.3 392.1,3530.5 395.0,3530.5 395.0,3581.0 397.6,3581.0 397.6,3579.7 400.1,3579.7 400.1,3604.9 402.7,3604.9 402.7,3597.3 405.2,3597.3 405.2,3613.0 407.5,3613.0 407.5,3573.6 409.8,3573.6 409.8,3516.5 412.1,3516.5 412.1,3461.1 414.9,3461.1 414.9,3436.5 417.8,3436.5 417.8,3408.8 420.6,3408.8 420.6,3383.8 423.2,3383.8 423.2,3420.0 425.7,3420.0 425.7,3442.4 428.3,3442.4 428.3,3435.2 430.9,3435.2 430.9,3418.5 433.4,3418.5 433.4,3429.9 436.0,3429.9 436.0,3442.4 438.3,3442.4 438.3,3469.2 440.5,3469.2 440.5,3491.0 442.8,3491.0 442.8,3509.1 445.4,3509.1 445.4,3526.0 447.9,3526.0 447.9,3551.7 450.5,3551.7 450.5,3461.7 453.1,3461.7 453.1,3383.8 455.3,3383.8 455.3,3421.5 457.6,3421.5 457.6,3458.3 459.9,3458.3 459.9,3495.7 462.5,3495.7 462.5,3505.9 465.0,3505.9 465.0,3518.7 467.6,3518.7 467.6,3529.0 470.2,3529.0 470.2,3535.7 472.7,3535.7 472.7,3555.8 475.3,3555.8 475.3,3558.1 477.8,3558.1 477.8,3576.2 480.4,3576.2 480.4,3589.0 483.0,3589.0 483.0,3549.9 485.5,3549.9 485.5,3507.8 488.1,3507.8 488.1,3465.6 490.6,3465.6 490.6,3429.1 492.9,3429.1 492.9,3446.5 495.2,3446.5 495.2,3484.2 497.5,3484.2 497.5,3509.1 500.3,3509.1 500.3,3532.1 503.2,3532.1 503.2,3548.6 506.0,3548.6 506.0,3570.4 508.6,3570.4 508.6,3530.6 511.1,3530.6 511.1,3479.7 513.9,3479.7 513.9,3482.6 516.6,3482.6 516.6,3496.1 519.3,3496.1 519.3,3508.8 522.1,3508.8 522.1,3525.3 524.8,3525.3 524.8,3535.7 527.7,3535.7 527.7,3490.0 530.5,3490.0 530.5,3447.1 533.4,3447.1 533.4,3413.1 535.6,3413.1 535.6,3458.7 537.9,3458.7 537.9,3512.7 540.2,3512.7 540.2,3559.7 543.1,3559.7 543.1,3537.4 545.9,3537.4 545.9,3486.9 548.8,3486.9 548.8,3462.1 551.7,3462.1 551.7,3426.5 552.1,3426.5 552.1,3426.5 554.8,3426.5 554.8,3439.1 557.5,3439.1 557.5,3434.9 560.2,3434.9 560.2,3447.8 562.8,3447.8 562.8,3486.9 565.4,3486.9 565.4,3530.4 568.2,3530.4 568.2,3520.1 571.1,3520.1 571.1,3491.9 573.9,3491.9 573.9,3471.8 576.5,3471.8 576.5,3492.2 579.0,3492.2 579.0,3502.6 581.6,3502.6 581.6,3540.1 584.2,3540.1 584.2,3546.4 587.2,3546.4 587.2,3563.5 590.1,3563.5 590.1,3576.6 593.1,3576.6 593.1,3581.1 596.1,3581.1 596.1,3605.0 598.4,3605.0 598.4,3573.0 600.7,3573.0 600.7,3546.0 603.0,3546.0 603.0,3487.7 605.7,3487.7 605.7,3490.4 608.4,3490.4 608.4,3473.2 611.2,3473.2 611.2,3463.3 613.9,3463.3 613.9,3450.9 616.6,3450.9 616.6,3455.8 619.5,3455.8 619.5,3478.9 622.3,3478.9 622.3,3512.5 625.2,3512.5 625.2,3533.0 627.4,3533.0 627.4,3503.3 629.7,3503.3 629.7,3485.1 632.0,3485.1 632.0,3461.1 634.8,3461.1 634.8,3447.7 637.7,3447.7 637.7,3431.7 640.5,3431.7 640.5,3417.1 643.4,3417.1 643.4,3418.1 646.2,3418.1 646.2,3441.7 649.1,3441.7 649.1,3445.1 651.4,3445.1 651.4,3473.1 653.6,3473.1 653.6,3488.2 655.9,3488.2 655.9,3509.1 658.5,3509.1 658.5,3478.8 661.0,3478.8 661.0,3447.8 663.9,3447.8 663.9,3482.4 666.7,3482.4 666.7,3512.1 669.6,3512.1 669.6,3535.7 671.9,3535.7 671.9,3567.0 674.1,3567.0 674.1,3594.5 676.4,3594.5 676.4,3637.0 678.7,3637.0 678.7,3607.5 681.0,3607.5 681.0,3582.8 683.2,3582.8 683.2,3562.4 685.8,3562.4 685.8,3506.3 688.4,3506.3 688.4,3466.4 691.2,3466.4 691.2,3506.0 694.1,3506.0 694.1,3529.6 696.9,3529.6 696.9,3546.4 699.2,3546.4 699.2,3527.0 701.5,3527.0 701.5,3506.2 703.7,3506.2 703.7,3474.4 706.6,3474.4 706.6,3542.2 709.4,3542.2 709.4,3596.5 712.3,3596.5 712.3,3658.3 715.1,3658.3 715.1,3643.6 718.0,3643.6 718.0,3615.0 720.8,3615.0 720.8,3589.0 723.1,3589.0 723.1,3572.1 725.4,3572.1 725.4,3534.9 727.7,3534.9 727.7,3498.4 730.5,3498.4 730.5,3528.7 733.4,3528.7 733.4,3580.1 736.2,3580.1 736.2,3615.7 738.5,3615.7 738.5,3626.9 740.8,3626.9 740.8,3637.7 743.0,3637.7 743.0,3655.6 745.9,3655.6 745.9,3632.2 748.7,3632.2 748.7,3598.6 751.6,3598.6 751.6,3575.7 753.8,3575.7 753.8,3592.0 756.1,3592.0 756.1,3606.7 758.4,3606.7 758.4,3629.0 760.7,3629.0 760.7,3638.5 763.0,3638.5 763.0,3649.0 765.2,3649.0 765.2,3645.0 768.1,3645.0 768.1,3624.1 770.9,3624.1 770.9,3593.5 773.8,3593.5 773.8,3562.4 776.6,3562.4 776.6,3588.2 779.5,3588.2 779.5,3622.3 782.3,3622.3 782.3,3650.3 784.6,3650.3 784.6,3632.5 786.9,3632.5 786.9,3610.6 789.2,3610.6 789.2,3589.0 791.4,3589.0 791.4,3573.0 793.7,3573.0 793.7,3575.0 796.0,3575.0 796.0,3562.4 798.8,3562.4 798.8,3568.5 801.7,3568.5 801.7,3602.3 804.5,3602.3 804.5,3610.3 806.8,3610.3 806.8,3620.4 809.1,3620.4 809.1,3617.2 811.4,3617.2 811.4,3629.0 814.2,3629.0 814.2,3630.0 817.1,3630.0 817.1,3643.4 819.9,3643.4 819.9,3642.3 822.2,3642.3 822.2,3590.6 824.5,3590.6 824.5,3542.1 826.7,3542.1 826.7,3485.1 829.3,3485.1 829.3,3524.8 831.9,3524.8 831.9,3575.7 834.9,3575.7 834.9,3513.5 838.0,3513.5 838.0,3458.4 840.5,3458.4 840.5,3487.1 843.0,3487.1 843.0,3503.8 845.5,3503.8 845.5,3530.4 848.5,3530.4 848.5,3548.8 851.5,3548.8 851.5,3562.8 854.5,3562.8 854.5,3577.9 857.5,3577.9 857.5,3594.3 860.6,3594.3 860.6,3577.2 863.6,3577.2 863.6,3550.0 866.7,3550.0 866.7,3529.0 869.8,3529.0 869.8,3508.4 872.9,3508.4 872.9,3490.4 875.7,3490.4 875.7,3489.4 878.6,3489.4 878.6,3504.6 881.4,3504.6 881.4,3509.1 883.7,3509.1 883.7,3546.3 886.0,3546.3 886.0,3567.3 888.2,3567.3 888.2,3591.7 891.0,3591.7 891.0,3571.2 893.7,3571.2 893.7,3553.2 896.4,3553.2 896.4,3530.3 899.2,3530.3 899.2,3509.7 901.9,3509.7 901.9,3495.7 904.5,3495.7 904.5,3529.8 907.0,3529.8 907.0,3563.1 909.6,3563.1 909.6,3602.1 912.1,3602.1 912.1,3629.0 915.1,3629.0 915.1,3535.7 918.1,3535.7 918.1,3560.3 921.1,3560.3 921.1,3600.1 924.1,3600.1 924.1,3636.7 927.1,3636.7 927.1,3661.0 929.6,3661.0 929.6,3646.9 932.2,3646.9 932.2,3621.0 934.8,3621.0 934.8,3586.9 937.3,3586.9 937.3,3575.7 940.5,3575.7 940.5,3560.4 943.6,3560.4 943.6,3566.3 946.7,3566.3 946.7,3545.8 949.9,3545.8 949.9,3533.1 953.0,3533.1 953.0,3520.5 956.1,3520.5 956.1,3514.4 958.4,3514.4 958.4,3528.1 960.7,3528.1 960.7,3550.5 963.0,3550.5 963.0,3562.4 966.0,3562.4 966.0,3547.4 969.1,3547.4 969.1,3541.5 972.2,3541.5 972.2,3540.2 975.3,3540.2 975.3,3517.9 978.3,3517.9 978.3,3501.1 980.9,3501.1 980.9,3562.8 983.5,3562.8 983.5,3615.7 986.3,3615.7 986.3,3579.2 989.1,3579.2 989.1,3548.4 992.0,3548.4 992.0,3525.0 994.8,3525.0 994.8,3570.1 997.7,3570.1 997.7,3600.3 1000.5,3600.3 1000.5,3639.6 1003.3,3639.6 1003.3,3608.1 1006.0,3608.1 1006.0,3587.2 1008.7,3587.2 1008.7,3560.3 1011.5,3560.3 1011.5,3516.6 1014.2,3516.6 1014.2,3485.1 1017.0,3485.1 1017.0,3488.6 1019.9,3488.6 1019.9,3497.8 1022.7,3497.8 1022.7,3498.4 1025.3,3498.4 1025.3,3489.4 1027.9,3489.4 1027.9,3445.3 1030.4,3445.3 1030.4,3422.2 1033.0,3422.2 1033.0,3391.8 1035.8,3391.8 1035.8,3463.3 1038.7,3463.3 1038.7,3525.4 1041.5,3525.4 1041.5,3589.0 1043.8,3589.0 1043.8,3560.8 1046.1,3560.8 1046.1,3514.3 1048.4,3514.3 1048.4,3482.4 1051.2,3482.4 1051.2,3500.1 1054.1,3500.1 1054.1,3521.6 1056.9,3521.6 1056.9,3535.7 1059.8,3535.7 1059.8,3508.6 1062.6,3508.6 1062.6,3485.3 1065.4,3485.3 1065.4,3459.8 1068.3,3459.8 1068.3,3491.4 1071.1,3491.4 1071.1,3504.2 1074.0,3504.2 1074.0,3525.0 1077.1,3525.0 1077.1,3542.4 1080.1,3542.4 1080.1,3565.2 1083.2,3565.2 1083.2,3572.5 1086.3,3572.5 1086.3,3579.8 1089.4,3579.8 1089.4,3597.0 1092.1,3597.0 1092.1,3562.1 1094.8,3562.1 1094.8,3510.0 1097.6,3510.0 1097.6,3469.2 1100.3,3469.2 1100.3,3443.4 1103.0,3443.4 1103.0,3402.5 1105.9,3402.5 1105.9,3453.9 1108.7,3453.9 1108.7,3499.6 1111.6,3499.6 1111.6,3567.7 1114.6,3567.7 1114.6,3554.4 1117.7,3554.4 1117.7,3542.6 1120.8,3542.6 1120.8,3524.1 1123.9,3524.1 1123.9,3514.8 1126.9,3514.8 1126.9,3490.4 1129.5,3490.4 1129.5,3499.2 1132.1,3499.2 1132.1,3490.4 1135.1,3490.4 1135.1,3518.4 1138.0,3518.4 1138.0,3551.7 1141.0,3551.7 1141.0,3576.7 1144.0,3576.7 1144.0,3607.7 1146.9,3607.7 1146.9,3563.6 1149.7,3563.6 1149.7,3530.9 1152.6,3530.9 1152.6,3485.1 1154.8,3485.1 1154.8,3528.1 1157.1,3528.1 1157.1,3570.3 1159.4,3570.3 1159.4,3610.3 1162.0,3610.3 1162.0,3581.4 1164.5,3581.4 1164.5,3549.2 1167.1,3549.2 1167.1,3508.3 1169.7,3508.3 1169.7,3477.1 1171.9,3477.1 1171.9,3509.1 1174.2,3509.1 1174.2,3537.1 1176.5,3537.1 1176.5,3570.4 1178.8,3570.4 1178.8,3541.6 1181.0,3541.6 1181.0,3519.3 1183.3,3519.3 1183.3,3503.7 1186.1,3503.7 1186.1,3511.5 1188.8,3511.5 1188.8,3510.4 1191.5,3510.4 1191.5,3507.0 1194.3,3507.0 1194.3,3505.1 1197.0,3505.1 1197.0,3506.4 1199.8,3506.4 1199.8,3529.6 1202.7,3529.6 1202.7,3571.3 1205.5,3571.3 1205.5,3594.3 1208.3,3594.3 1208.3,3595.6 1211.0,3595.6 1211.0,3589.5 1213.7,3589.5 1213.7,3581.5 1216.5,3581.5 1216.5,3579.0 1219.2,3579.0 1219.2,3586.3 1221.8,3586.3 1221.8,3595.6 1224.3,3595.6 1224.3,3593.1 1226.9,3593.1 1226.9,3599.6 1229.4,3599.6 1229.4,3597.0 1232.3,3597.0 1232.3,3571.0 1235.1,3571.0 1235.1,3553.2 1238.0,3553.2 1238.0,3535.7 1240.5,3535.7 1240.5,3591.1 1242.9,3591.1 1242.9,3645.8 1245.4,3645.8 1245.4,3692.9 1247.9,3692.9 1247.9,3747.8 1250.6,3747.8 1250.6,3696.7 1253.4,3696.7 1253.4,3658.3 1256.2,3658.3 1256.2,3616.2 1259.0,3616.2 1259.0,3566.2 1261.9,3566.2 1261.9,3517.1 1264.6,3517.1 1264.6,3536.7 1267.3,3536.7 1267.3,3557.8 1270.0,3557.8 1270.0,3578.3 1272.1,3578.3 1272.1,3573.0 1275.3,3573.0 1275.3,3552.2 1278.5,3552.2 1278.5,3535.7 1280.8,3535.7 1280.8,3576.0 1283.1,3576.0 1283.1,3607.1 1285.4,3607.1 1285.4,3637.0 1287.7,3637.0 1287.7,3625.8 1289.9,3625.8 1289.9,3586.9 1292.2,3586.9 1292.2,3562.4 1295.2,3562.4 1295.2,3563.4 1298.2,3563.4 1298.2,3591.8 1301.2,3591.8 1301.2,3590.5 1304.2,3590.5 1304.2,3594.3 1307.0,3594.3 1307.0,3568.0 1309.9,3568.0 1309.9,3554.4 1312.7,3554.4 1312.7,3533.0 1314.4,3533.0 1314.4,3623.6 1317.0,3623.6 1317.0,3644.7 1319.5,3644.7 1319.5,3633.4 1322.1,3633.4 1322.1,3658.9 1324.7,3658.9 1324.7,3658.3 1327.2,3658.3 1327.2,3588.1 1329.8,3588.1 1329.8,3535.7 1332.8,3535.7 1332.8,3536.2 1335.8,3536.2 1335.8,3533.7 1338.8,3533.7 1338.8,3525.5 1341.7,3525.5 1341.7,3522.4 1344.5,3522.4 1344.5,3520.4 1347.2,3520.4 1347.2,3514.2 1349.9,3514.2 1349.9,3512.7 1352.7,3512.7 1352.7,3514.8 1355.4,3514.8 1355.4,3511.7 1358.4,3511.7 1358.4,3529.1 1361.4,3529.1 1361.4,3559.0 1364.4,3559.0 1364.4,3587.9 1367.4,3587.9 1367.4,3615.7 1370.4,3615.7 1370.4,3591.9 1373.5,3591.9 1373.5,3570.4 1376.6,3570.4 1376.6,3547.4 1379.7,3547.4 1379.7,3519.7 1382.7,3519.7 1382.7,3501.1 1385.6,3501.1 1385.6,3477.5 1388.4,3477.5 1388.4,3459.9 1391.3,3459.9 1391.3,3439.8 1393.6,3439.8 1393.6,3465.1 1395.8,3465.1 1395.8,3505.4 1398.1,3505.4 1398.1,3535.7 1401.0,3535.7 1401.0,3560.4 1403.8,3560.4 1403.8,3585.2 1406.7,3585.2 1406.7,3618.3 1409.2,3618.3 1409.2,3592.9 1411.8,3592.9 1411.8,3554.8 1414.3,3554.8 1414.3,3509.5 1416.9,3509.5 1416.9,3487.7 1419.9,3487.7 1419.9,3508.6 1422.9,3508.6 1422.9,3509.5 1425.9,3509.5 1425.9,3538.6 1428.9,3538.6 1428.9,3546.4 1431.9,3546.4 1431.9,3513.1 1434.8,3513.1 1434.8,3492.0 1437.8,3492.0 1437.8,3458.4 1440.8,3458.4 1440.8,3423.8 1443.4,3423.8 1443.4,3470.2 1445.9,3470.2 1445.9,3515.3 1448.5,3515.3 1448.5,3549.1 1451.1,3549.1 1451.1,3599.7 1453.6,3599.7 1453.6,3578.2 1456.2,3578.2 1456.2,3562.0 1458.8,3562.0 1458.8,3550.4 1461.3,3550.4 1461.3,3535.7 1464.1,3535.7 1464.1,3514.9 1466.8,3514.9 1466.8,3508.8 1469.5,3508.8 1469.5,3503.2 1472.3,3503.2 1472.3,3502.0 1475.0,3502.0 1475.0,3485.1 1477.8,3485.1 1477.8,3524.1 1480.7,3524.1 1480.7,3567.9 1483.5,3567.9 1483.5,3615.7 1486.5,3615.7 1486.5,3620.4 1489.5,3620.4 1489.5,3621.7 1492.5,3621.7 1492.5,3626.6 1495.5,3626.6 1495.5,3637.0 1497.8,3637.0 1497.8,3589.2 1500.0,3589.2 1500.0,3533.8 1502.3,3533.8 1502.3,3487.7 1505.2,3487.7 1505.2,3505.0 1508.0,3505.0 1508.0,3524.8 1510.9,3524.8 1510.9,3548.6 1513.7,3548.6 1513.7,3568.9 1516.6,3568.9 1516.6,3584.7 1519.4,3584.7 1519.4,3605.0 1522.0,3605.0 1522.0,3578.3 1524.5,3578.3 1524.5,3555.2 1527.1,3555.2 1527.1,3555.4 1529.7,3555.4 1529.7,3535.7 1532.2,3535.7 1532.2,3566.6 1534.8,3566.6 1534.8,3583.7 1537.8,3583.7 1537.8,3564.6 1540.8,3564.6 1540.8,3546.5 1543.7,3546.5 1543.7,3522.4 1546.7,3522.4 1546.7,3498.4 1549.6,3498.4 1549.6,3487.8 1552.4,3487.8 1552.4,3488.4 1555.3,3488.4 1555.3,3474.4 1558.0,3474.4 1558.0,3496.0 1560.7,3496.0 1560.7,3520.4 1563.5,3520.4 1563.5,3541.3 1566.2,3541.3 1566.2,3564.9 1568.9,3564.9 1568.9,3602.3 1571.5,3602.3 1571.5,3569.2 1574.1,3569.2 1574.1,3534.3 1576.6,3534.3 1576.6,3525.6 1579.2,3525.6 1579.2,3495.7 1581.5,3495.7 1581.5,3539.2 1583.7,3539.2 1583.7,3585.2 1586.0,3585.2 1586.0,3631.6 1588.3,3631.6 1588.3,3614.6 1590.6,3614.6 1590.6,3596.5 1592.9,3596.5 1592.9,3589.0 1595.1,3589.0 1595.1,3563.6 1597.4,3563.6 1597.4,3522.8 1599.7,3522.8 1599.7,3506.4 1602.5,3506.4 1602.5,3521.2 1605.4,3521.2 1605.4,3550.3 1608.2,3550.3 1608.2,3575.7 1610.5,3575.7 1610.5,3539.7 1612.8,3539.7 1612.8,3516.2 1615.1,3516.2 1615.1,3477.1 1617.3,3477.1 1617.3,3519.9 1619.6,3519.9 1619.6,3530.9 1621.9,3530.9 1621.9,3557.0 1624.2,3557.0 1624.2,3538.9 1626.5,3538.9 1626.5,3523.5 1628.7,3523.5 1628.7,3509.1 1631.5,3509.1 1631.5,3506.2 1634.4,3506.2 1634.4,3492.0 1637.2,3492.0 1637.2,3467.6 1640.0,3467.6 1640.0,3469.1 1643.0,3469.1 1643.0,3470.3 1646.0,3470.3 1646.0,3477.1 1649.0,3477.1 1649.0,3489.2 1652.1,3489.2 1652.1,3488.4 1655.1,3488.4 1655.1,3490.9 1658.1,3490.9 1658.1,3500.4 1661.1,3500.4 1661.1,3514.0 1664.1,3514.0 1664.1,3515.6 1667.1,3515.6 1667.1,3529.2 1670.1,3529.2 1670.1,3531.6 1673.1,3531.6 1673.1,3535.7 1676.1,3535.7 1676.1,3524.9 1679.0,3524.9 1679.0,3525.4 1681.9,3525.4 1681.9,3516.6 1684.9,3516.6 1684.9,3498.9 1687.8,3498.9 1687.8,3502.4 1690.7,3502.4 1690.7,3489.5 1693.6,3489.5 1693.6,3487.7" fill="none" stroke="#f08888" stroke-width="3.0" stroke-linejoin="miter" stroke-linecap="butt" />
<polyline points="191.7,3523.0 194.3,3523.0 194.3,3496.2 196.8,3496.2 196.8,3471.7 199.4,3471.7 199.4,3482.8 202.0,3482.8 202.0,3503.5 203.7,3503.5 203.7,3504.0 205.4,3504.0 205.4,3493.1 207.7,3493.1 207.7,3499.9 209.9,3499.9 209.9,3517.5 212.2,3517.5 212.2,3529.4 214.5,3529.4 214.5,3525.9 216.8,3525.9 216.8,3519.9 219.0,3519.9 219.0,3511.3 221.6,3511.3 221.6,3509.5 224.2,3509.5 224.2,3500.9 226.7,3500.9 226.7,3500.9 229.3,3500.9 229.3,3499.6 231.9,3499.6 231.9,3490.4 234.4,3490.4 234.4,3486.6 236.7,3486.6 236.7,3513.3 239.0,3513.3 239.0,3541.7 241.2,3541.7 241.2,3572.3 244.1,3572.3 244.1,3568.6 246.9,3568.6 246.9,3559.1 249.8,3559.1 249.8,3545.0 252.6,3545.0 252.6,3544.9 255.5,3544.9 255.5,3551.5 258.3,3551.5 258.3,3559.3 261.2,3559.3 261.2,3542.0 264.0,3542.0 264.0,3534.7 266.9,3534.7 266.9,3528.1 269.4,3528.1 269.4,3521.3 272.0,3521.3 272.0,3503.9 274.6,3503.9 274.6,3496.0 277.1,3496.0 277.1,3487.9 280.0,3487.9 280.0,3495.0 282.8,3495.0 282.8,3506.1 285.7,3506.1 285.7,3511.3 287.9,3511.3 287.9,3524.7 290.2,3524.7 290.2,3538.6 292.5,3538.6 292.5,3551.5 294.8,3551.5 294.8,3527.0 297.0,3527.0 297.0,3507.8 299.3,3507.8 299.3,3486.6 301.9,3486.6 301.9,3503.0 304.5,3503.0 304.5,3529.4 306.2,3529.4 306.2,3525.4 307.9,3525.4 307.9,3516.5 310.4,3516.5 310.4,3522.8 313.0,3522.8 313.0,3532.0 315.3,3532.0 315.3,3539.1 317.5,3539.1 317.5,3552.1 319.8,3552.1 319.8,3558.0 322.4,3558.0 322.4,3548.1 325.0,3548.1 325.0,3527.5 327.5,3527.5 327.5,3515.5 330.1,3515.5 330.1,3503.5 332.4,3503.5 332.4,3510.5 334.6,3510.5 334.6,3515.2 336.9,3515.2 336.9,3523.0 339.5,3523.0 339.5,3541.3 342.0,3541.3 342.0,3554.7 344.6,3554.7 344.6,3573.6 347.2,3573.6 347.2,3587.9 349.7,3587.9 349.7,3572.7 352.3,3572.7 352.3,3555.5 354.8,3555.5 354.8,3545.1 357.4,3545.1 357.4,3529.4 359.7,3529.4 359.7,3530.6 362.0,3530.6 362.0,3540.5 364.2,3540.5 364.2,3541.1 367.2,3541.1 367.2,3524.5 370.2,3524.5 370.2,3510.4 373.2,3510.4 373.2,3488.9 376.2,3488.9 376.2,3471.0 378.8,3471.0 378.8,3485.7 381.3,3485.7 381.3,3500.9 383.9,3500.9 383.9,3496.3 386.4,3496.3 386.4,3490.5 389.3,3490.5 389.3,3511.7 392.1,3511.7 392.1,3526.9 395.0,3526.9 395.0,3551.5 397.6,3551.5 397.6,3550.9 400.1,3550.9 400.1,3563.2 402.7,3563.2 402.7,3559.5 405.2,3559.5 405.2,3567.1 407.5,3567.1 407.5,3547.9 409.8,3547.9 409.8,3520.1 412.1,3520.1 412.1,3493.1 414.9,3493.1 414.9,3481.1 417.8,3481.1 417.8,3467.6 420.6,3467.6 420.6,3455.4 423.2,3455.4 423.2,3473.1 425.7,3473.1 425.7,3484.0 428.3,3484.0 428.3,3480.5 430.9,3480.5 430.9,3472.3 433.4,3472.3 433.4,3477.9 436.0,3477.9 436.0,3484.0 438.3,3484.0 438.3,3497.0 440.5,3497.0 440.5,3507.7 442.8,3507.7 442.8,3516.5 445.4,3516.5 445.4,3524.7 447.9,3524.7 447.9,3537.2 450.5,3537.2 450.5,3493.4 453.1,3493.4 453.1,3455.4 455.3,3455.4 455.3,3473.8 457.6,3473.8 457.6,3491.7 459.9,3491.7 459.9,3510.0 462.5,3510.0 462.5,3514.9 465.0,3514.9 465.0,3521.2 467.6,3521.2 467.6,3526.2 470.2,3526.2 470.2,3529.4 472.7,3529.4 472.7,3539.2 475.3,3539.2 475.3,3540.4 477.8,3540.4 477.8,3549.2 480.4,3549.2 480.4,3555.4 483.0,3555.4 483.0,3536.4 485.5,3536.4 485.5,3515.8 488.1,3515.8 488.1,3495.3 490.6,3495.3 490.6,3477.5 492.9,3477.5 492.9,3486.0 495.2,3486.0 495.2,3504.4 497.5,3504.4 497.5,3516.5 500.3,3516.5 500.3,3527.7 503.2,3527.7 503.2,3535.7 506.0,3535.7 506.0,3546.3 508.6,3546.3 508.6,3526.9 511.1,3526.9 511.1,3502.2 513.9,3502.2 513.9,3503.6 516.6,3503.6 516.6,3510.1 519.3,3510.1 519.3,3516.3 522.1,3516.3 522.1,3524.4 524.8,3524.4 524.8,3529.4 527.7,3529.4 527.7,3507.2 530.5,3507.2 530.5,3486.3 533.4,3486.3 533.4,3469.7 535.6,3469.7 535.6,3491.9 537.9,3491.9 537.9,3518.2 540.2,3518.2 540.2,3541.1 543.1,3541.1 543.1,3530.3 545.9,3530.3 545.9,3505.7 548.8,3505.7 548.8,3493.6 551.7,3493.6 551.7,3476.2 552.1,3476.2 552.1,3476.2 554.8,3476.2 554.8,3482.4 557.5,3482.4 557.5,3480.3 560.2,3480.3 560.2,3486.6 562.8,3486.6 562.8,3505.7 565.4,3505.7 565.4,3526.9 568.2,3526.9 568.2,3521.8 571.1,3521.8 571.1,3508.1 573.9,3508.1 573.9,3498.3 576.5,3498.3 576.5,3508.2 579.0,3508.2 579.0,3513.3 581.6,3513.3 581.6,3531.6 584.2,3531.6 584.2,3534.6 587.2,3534.6 587.2,3543.0 590.1,3543.0 590.1,3549.4 593.1,3549.4 593.1,3551.6 596.1,3551.6 596.1,3563.2 598.4,3563.2 598.4,3547.6 600.7,3547.6 600.7,3534.5 603.0,3534.5 603.0,3506.1 605.7,3506.1 605.7,3507.4 608.4,3507.4 608.4,3499.0 611.2,3499.0 611.2,3494.2 613.9,3494.2 613.9,3488.1 616.6,3488.1 616.6,3490.5 619.5,3490.5 619.5,3501.8 622.3,3501.8 622.3,3518.1 625.2,3518.1 625.2,3528.1 627.4,3528.1 627.4,3513.7 629.7,3513.7 629.7,3504.8 632.0,3504.8 632.0,3493.1 634.8,3493.1 634.8,3486.6 637.7,3486.6 637.7,3478.8 640.5,3478.8 640.5,3471.7 643.4,3471.7 643.4,3472.2 646.2,3472.2 646.2,3483.6 649.1,3483.6 649.1,3485.3 651.4,3485.3 651.4,3498.9 653.6,3498.9 653.6,3506.3 655.9,3506.3 655.9,3516.5 658.5,3516.5 658.5,3501.7 661.0,3501.7 661.0,3486.6 663.9,3486.6 663.9,3503.5 666.7,3503.5 666.7,3518.0 669.6,3518.0 669.6,3529.4 671.9,3529.4 671.9,3544.7 674.1,3544.7 674.1,3558.1 676.4,3558.1 676.4,3578.8 678.7,3578.8 678.7,3564.4 681.0,3564.4 681.0,3552.4 683.2,3552.4 683.2,3542.4 685.8,3542.4 685.8,3515.1 688.4,3515.1 688.4,3495.7 691.2,3495.7 691.2,3515.0 694.1,3515.0 694.1,3526.5 696.9,3526.5 696.9,3534.6 699.2,3534.6 699.2,3525.2 701.5,3525.2 701.5,3515.1 703.7,3515.1 703.7,3499.6 706.6,3499.6 706.6,3532.6 709.4,3532.6 709.4,3559.1 712.3,3559.1 712.3,3589.2 715.1,3589.2 715.1,3582.0 718.0,3582.0 718.0,3568.1 720.8,3568.1 720.8,3555.4 723.1,3555.4 723.1,3547.2 725.4,3547.2 725.4,3529.1 727.7,3529.1 727.7,3511.3 730.5,3511.3 730.5,3526.0 733.4,3526.0 733.4,3551.1 736.2,3551.1 736.2,3568.4 738.5,3568.4 738.5,3573.9 740.8,3573.9 740.8,3579.1 743.0,3579.1 743.0,3587.9 745.9,3587.9 745.9,3576.4 748.7,3576.4 748.7,3560.1 751.6,3560.1 751.6,3548.9 753.8,3548.9 753.8,3556.9 756.1,3556.9 756.1,3564.0 758.4,3564.0 758.4,3574.9 760.7,3574.9 760.7,3579.5 763.0,3579.5 763.0,3584.7 765.2,3584.7 765.2,3582.7 768.1,3582.7 768.1,3572.5 770.9,3572.5 770.9,3557.6 773.8,3557.6 773.8,3542.4 776.6,3542.4 776.6,3555.0 779.5,3555.0 779.5,3571.6 782.3,3571.6 782.3,3585.3 784.6,3585.3 784.6,3576.6 786.9,3576.6 786.9,3565.9 789.2,3565.9 789.2,3555.4 791.4,3555.4 791.4,3547.6 793.7,3547.6 793.7,3548.6 796.0,3548.6 796.0,3542.4 798.8,3542.4 798.8,3545.4 801.7,3545.4 801.7,3561.9 804.5,3561.9 804.5,3565.8 806.8,3565.8 806.8,3570.7 809.1,3570.7 809.1,3569.1 811.4,3569.1 811.4,3574.9 814.2,3574.9 814.2,3575.4 817.1,3575.4 817.1,3581.9 819.9,3581.9 819.9,3581.4 822.2,3581.4 822.2,3556.2 824.5,3556.2 824.5,3532.6 826.7,3532.6 826.7,3504.8 829.3,3504.8 829.3,3524.1 831.9,3524.1 831.9,3548.9 834.9,3548.9 834.9,3518.6 838.0,3518.6 838.0,3491.8 840.5,3491.8 840.5,3505.7 843.0,3505.7 843.0,3513.9 845.5,3513.9 845.5,3526.9 848.5,3526.9 848.5,3535.8 851.5,3535.8 851.5,3542.7 854.5,3542.7 854.5,3550.0 857.5,3550.0 857.5,3558.0 860.6,3558.0 860.6,3549.7 863.6,3549.7 863.6,3536.4 866.7,3536.4 866.7,3526.2 869.8,3526.2 869.8,3516.2 872.9,3516.2 872.9,3507.4 875.7,3507.4 875.7,3506.9 878.6,3506.9 878.6,3514.3 881.4,3514.3 881.4,3516.5 883.7,3516.5 883.7,3534.6 886.0,3534.6 886.0,3544.8 888.2,3544.8 888.2,3556.7 891.0,3556.7 891.0,3546.7 893.7,3546.7 893.7,3537.9 896.4,3537.9 896.4,3526.8 899.2,3526.8 899.2,3516.8 901.9,3516.8 901.9,3510.0 904.5,3510.0 904.5,3526.6 907.0,3526.6 907.0,3542.8 909.6,3542.8 909.6,3561.8 912.1,3561.8 912.1,3574.9 915.1,3574.9 915.1,3529.4 918.1,3529.4 918.1,3541.4 921.1,3541.4 921.1,3560.8 924.1,3560.8 924.1,3578.7 927.1,3578.7 927.1,3590.5 929.6,3590.5 929.6,3583.6 932.2,3583.6 932.2,3571.0 934.8,3571.0 934.8,3554.4 937.3,3554.4 937.3,3548.9 940.5,3548.9 940.5,3541.5 943.6,3541.5 943.6,3544.3 946.7,3544.3 946.7,3534.4 949.9,3534.4 949.9,3528.2 953.0,3528.2 953.0,3522.0 956.1,3522.0 956.1,3519.1 958.4,3519.1 958.4,3525.8 960.7,3525.8 960.7,3536.7 963.0,3536.7 963.0,3542.4 966.0,3542.4 966.0,3535.2 969.1,3535.2 969.1,3532.2 972.2,3532.2 972.2,3531.6 975.3,3531.6 975.3,3520.8 978.3,3520.8 978.3,3512.6 980.9,3512.6 980.9,3542.7 983.5,3542.7 983.5,3568.4 986.3,3568.4 986.3,3550.7 989.1,3550.7 989.1,3535.6 992.0,3535.6 992.0,3524.3 994.8,3524.3 994.8,3546.2 997.7,3546.2 997.7,3560.9 1000.5,3560.9 1000.5,3580.1 1003.3,3580.1 1003.3,3564.7 1006.0,3564.7 1006.0,3554.5 1008.7,3554.5 1008.7,3541.4 1011.5,3541.4 1011.5,3520.1 1014.2,3520.1 1014.2,3504.8 1017.0,3504.8 1017.0,3506.5 1019.9,3506.5 1019.9,3511.0 1022.7,3511.0 1022.7,3511.3 1025.3,3511.3 1025.3,3506.9 1027.9,3506.9 1027.9,3485.4 1030.4,3485.4 1030.4,3474.2 1033.0,3474.2 1033.0,3459.3 1035.8,3459.3 1035.8,3494.2 1038.7,3494.2 1038.7,3524.4 1041.5,3524.4 1041.5,3555.4 1043.8,3555.4 1043.8,3541.7 1046.1,3541.7 1046.1,3519.0 1048.4,3519.0 1048.4,3503.5 1051.2,3503.5 1051.2,3512.1 1054.1,3512.1 1054.1,3522.6 1056.9,3522.6 1056.9,3529.4 1059.8,3529.4 1059.8,3516.2 1062.6,3516.2 1062.6,3504.9 1065.4,3504.9 1065.4,3492.4 1068.3,3492.4 1068.3,3507.9 1071.1,3507.9 1071.1,3514.1 1074.0,3514.1 1074.0,3524.3 1077.1,3524.3 1077.1,3532.7 1080.1,3532.7 1080.1,3543.8 1083.2,3543.8 1083.2,3547.4 1086.3,3547.4 1086.3,3550.9 1089.4,3550.9 1089.4,3559.3 1092.1,3559.3 1092.1,3542.3 1094.8,3542.3 1094.8,3516.9 1097.6,3516.9 1097.6,3497.1 1100.3,3497.1 1100.3,3484.5 1103.0,3484.5 1103.0,3464.5 1105.9,3464.5 1105.9,3489.6 1108.7,3489.6 1108.7,3511.9 1111.6,3511.9 1111.6,3545.0 1114.6,3545.0 1114.6,3538.5 1117.7,3538.5 1117.7,3532.8 1120.8,3532.8 1120.8,3523.8 1123.9,3523.8 1123.9,3519.3 1126.9,3519.3 1126.9,3507.4 1129.5,3507.4 1129.5,3511.7 1132.1,3511.7 1132.1,3507.4 1135.1,3507.4 1135.1,3521.0 1138.0,3521.0 1138.0,3537.3 1141.0,3537.3 1141.0,3549.4 1144.0,3549.4 1144.0,3564.5 1146.9,3564.5 1146.9,3543.0 1149.7,3543.0 1149.7,3527.1 1152.6,3527.1 1152.6,3504.8 1154.8,3504.8 1154.8,3525.7 1157.1,3525.7 1157.1,3546.3 1159.4,3546.3 1159.4,3565.8 1162.0,3565.8 1162.0,3551.7 1164.5,3551.7 1164.5,3536.0 1167.1,3536.0 1167.1,3516.1 1169.7,3516.1 1169.7,3500.9 1171.9,3500.9 1171.9,3516.5 1174.2,3516.5 1174.2,3530.1 1176.5,3530.1 1176.5,3546.3 1178.8,3546.3 1178.8,3532.3 1181.0,3532.3 1181.0,3521.5 1183.3,3521.5 1183.3,3513.9 1186.1,3513.9 1186.1,3517.7 1188.8,3517.7 1188.8,3517.1 1191.5,3517.1 1191.5,3515.5 1194.3,3515.5 1194.3,3514.5 1197.0,3514.5 1197.0,3515.2 1199.8,3515.2 1199.8,3526.5 1202.7,3526.5 1202.7,3546.8 1205.5,3546.8 1205.5,3558.0 1208.3,3558.0 1208.3,3558.6 1211.0,3558.6 1211.0,3555.7 1213.7,3555.7 1213.7,3551.8 1216.5,3551.8 1216.5,3550.5 1219.2,3550.5 1219.2,3554.1 1221.8,3554.1 1221.8,3558.6 1224.3,3558.6 1224.3,3557.4 1226.9,3557.4 1226.9,3560.6 1229.4,3560.6 1229.4,3559.3 1232.3,3559.3 1232.3,3546.7 1235.1,3546.7 1235.1,3538.0 1238.0,3538.0 1238.0,3529.4 1240.5,3529.4 1240.5,3556.4 1242.9,3556.4 1242.9,3583.1 1245.4,3583.1 1245.4,3606.0 1247.9,3606.0 1247.9,3632.8 1250.6,3632.8 1250.6,3607.9 1253.4,3607.9 1253.4,3589.2 1256.2,3589.2 1256.2,3568.7 1259.0,3568.7 1259.0,3544.3 1261.9,3544.3 1261.9,3520.4 1264.6,3520.4 1264.6,3530.0 1267.3,3530.0 1267.3,3540.2 1270.0,3540.2 1270.0,3550.2 1272.1,3550.2 1272.1,3547.6 1275.3,3547.6 1275.3,3537.5 1278.5,3537.5 1278.5,3529.4 1280.8,3529.4 1280.8,3549.1 1283.1,3549.1 1283.1,3564.2 1285.4,3564.2 1285.4,3578.8 1287.7,3578.8 1287.7,3573.3 1289.9,3573.3 1289.9,3554.4 1292.2,3554.4 1292.2,3542.4 1295.2,3542.4 1295.2,3542.9 1298.2,3542.9 1298.2,3556.8 1301.2,3556.8 1301.2,3556.1 1304.2,3556.1 1304.2,3558.0 1307.0,3558.0 1307.0,3545.2 1309.9,3545.2 1309.9,3538.6 1312.7,3538.6 1312.7,3528.1 1314.4,3528.1 1314.4,3572.3 1317.0,3572.3 1317.0,3582.5 1319.5,3582.5 1319.5,3577.0 1322.1,3577.0 1322.1,3589.5 1324.7,3589.5 1324.7,3589.2 1327.2,3589.2 1327.2,3555.0 1329.8,3555.0 1329.8,3529.4 1332.8,3529.4 1332.8,3529.7 1335.8,3529.7 1335.8,3528.4 1338.8,3528.4 1338.8,3524.5 1341.7,3524.5 1341.7,3523.0 1344.5,3523.0 1344.5,3522.0 1347.2,3522.0 1347.2,3519.0 1349.9,3519.0 1349.9,3518.2 1352.7,3518.2 1352.7,3519.3 1355.4,3519.3 1355.4,3517.8 1358.4,3517.8 1358.4,3526.2 1361.4,3526.2 1361.4,3540.8 1364.4,3540.8 1364.4,3554.9 1367.4,3554.9 1367.4,3568.4 1370.4,3568.4 1370.4,3556.8 1373.5,3556.8 1373.5,3546.4 1376.6,3546.4 1376.6,3535.1 1379.7,3535.1 1379.7,3521.6 1382.7,3521.6 1382.7,3512.6 1385.6,3512.6 1385.6,3501.1 1388.4,3501.1 1388.4,3492.5 1391.3,3492.5 1391.3,3482.7 1393.6,3482.7 1393.6,3495.1 1395.8,3495.1 1395.8,3514.7 1398.1,3514.7 1398.1,3529.4 1401.0,3529.4 1401.0,3541.5 1403.8,3541.5 1403.8,3553.5 1406.7,3553.5 1406.7,3569.7 1409.2,3569.7 1409.2,3557.3 1411.8,3557.3 1411.8,3538.7 1414.3,3538.7 1414.3,3516.7 1416.9,3516.7 1416.9,3506.1 1419.9,3506.1 1419.9,3516.3 1422.9,3516.3 1422.9,3516.7 1425.9,3516.7 1425.9,3530.9 1428.9,3530.9 1428.9,3534.6 1431.9,3534.6 1431.9,3518.4 1434.8,3518.4 1434.8,3508.2 1437.8,3508.2 1437.8,3491.8 1440.8,3491.8 1440.8,3474.9 1443.4,3474.9 1443.4,3497.5 1445.9,3497.5 1445.9,3519.5 1448.5,3519.5 1448.5,3536.0 1451.1,3536.0 1451.1,3560.6 1453.6,3560.6 1453.6,3550.2 1456.2,3550.2 1456.2,3542.3 1458.8,3542.3 1458.8,3536.6 1461.3,3536.6 1461.3,3529.4 1464.1,3529.4 1464.1,3519.3 1466.8,3519.3 1466.8,3516.3 1469.5,3516.3 1469.5,3513.6 1472.3,3513.6 1472.3,3513.0 1475.0,3513.0 1475.0,3504.8 1477.8,3504.8 1477.8,3523.8 1480.7,3523.8 1480.7,3545.1 1483.5,3545.1 1483.5,3568.4 1486.5,3568.4 1486.5,3570.7 1489.5,3570.7 1489.5,3571.3 1492.5,3571.3 1492.5,3573.7 1495.5,3573.7 1495.5,3578.8 1497.8,3578.8 1497.8,3555.5 1500.0,3555.5 1500.0,3528.5 1502.3,3528.5 1502.3,3506.1 1505.2,3506.1 1505.2,3514.5 1508.0,3514.5 1508.0,3524.1 1510.9,3524.1 1510.9,3535.7 1513.7,3535.7 1513.7,3545.6 1516.6,3545.6 1516.6,3553.3 1519.4,3553.3 1519.4,3563.2 1522.0,3563.2 1522.0,3550.2 1524.5,3550.2 1524.5,3538.9 1527.1,3538.9 1527.1,3539.1 1529.7,3539.1 1529.7,3529.4 1532.2,3529.4 1532.2,3544.5 1534.8,3544.5 1534.8,3552.8 1537.8,3552.8 1537.8,3543.5 1540.8,3543.5 1540.8,3534.7 1543.7,3534.7 1543.7,3523.0 1546.7,3523.0 1546.7,3511.3 1549.6,3511.3 1549.6,3506.1 1552.4,3506.1 1552.4,3506.4 1555.3,3506.4 1555.3,3499.6 1558.0,3499.6 1558.0,3510.1 1560.7,3510.1 1560.7,3522.0 1563.5,3522.0 1563.5,3532.2 1566.2,3532.2 1566.2,3543.7 1568.9,3543.7 1568.9,3561.9 1571.5,3561.9 1571.5,3545.8 1574.1,3545.8 1574.1,3528.7 1576.6,3528.7 1576.6,3524.5 1579.2,3524.5 1579.2,3510.0 1581.5,3510.0 1581.5,3531.2 1583.7,3531.2 1583.7,3553.6 1586.0,3553.6 1586.0,3576.2 1588.3,3576.2 1588.3,3567.9 1590.6,3567.9 1590.6,3559.1 1592.9,3559.1 1592.9,3555.4 1595.1,3555.4 1595.1,3543.0 1597.4,3543.0 1597.4,3523.1 1599.7,3523.1 1599.7,3515.2 1602.5,3515.2 1602.5,3522.4 1605.4,3522.4 1605.4,3536.5 1608.2,3536.5 1608.2,3548.9 1610.5,3548.9 1610.5,3531.4 1612.8,3531.4 1612.8,3520.0 1615.1,3520.0 1615.1,3500.9 1617.3,3500.9 1617.3,3521.7 1619.6,3521.7 1619.6,3527.1 1621.9,3527.1 1621.9,3539.8 1624.2,3539.8 1624.2,3531.0 1626.5,3531.0 1626.5,3523.5 1628.7,3523.5 1628.7,3516.5 1631.5,3516.5 1631.5,3515.1 1634.4,3515.1 1634.4,3508.1 1637.2,3508.1 1637.2,3496.3 1640.0,3496.3 1640.0,3497.0 1643.0,3497.0 1643.0,3497.6 1646.0,3497.6 1646.0,3500.9 1649.0,3500.9 1649.0,3506.8 1652.1,3506.8 1652.1,3506.4 1655.1,3506.4 1655.1,3507.6 1658.1,3507.6 1658.1,3512.3 1661.1,3512.3 1661.1,3518.9 1664.1,3518.9 1664.1,3519.7 1667.1,3519.7 1667.1,3526.3 1670.1,3526.3 1670.1,3527.4 1673.1,3527.4 1673.1,3529.4 1676.1,3529.4 1676.1,3524.2 1679.0,3524.2 1679.0,3524.4 1681.9,3524.4 1681.9,3520.1 1684.9,3520.1 1684.9,3511.5 1687.8,3511.5 1687.8,3513.2 1690.7,3513.2 1690.7,3507.0 1693.6,3507.0 1693.6,3506.1" fill="none" stroke="#ffb878" stroke-width="3.0" stroke-linejoin="miter" stroke-linecap="butt" />
<polyline points="191.7,3517.7 194.3,3517.7 194.3,3514.5 196.8,3514.5 196.8,3511.2 199.4,3511.2 199.4,3507.9 202.0,3507.9 202.0,3510.9 203.7,3510.9 203.7,3513.7 205.4,3513.7 205.4,3513.4 207.7,3513.4 207.7,3510.8 209.9,3510.8 209.9,3513.3 212.2,3513.3 212.2,3518.4 214.5,3518.4 214.5,3517.8 216.8,3517.8 216.8,3517.3 219.0,3517.3 219.0,3517.6 221.6,3517.6 221.6,3512.4 224.2,3512.4 224.2,3507.1 226.7,3507.1 226.7,3513.4 229.3,3513.4 229.3,3512.1 231.9,3512.1 231.9,3505.8 234.4,3505.8 234.4,3508.2 236.7,3508.2 236.7,3514.1 239.0,3514.1 239.0,3521.2 241.2,3521.2 241.2,3524.3 244.1,3524.3 244.1,3527.3 246.9,3527.3 246.9,3529.1 249.8,3529.1 249.8,3529.6 252.6,3529.6 252.6,3529.9 255.5,3529.9 255.5,3529.0 258.3,3529.0 258.3,3531.7 261.2,3531.7 261.2,3527.9 264.0,3527.9 264.0,3523.2 266.9,3523.2 266.9,3523.2 269.4,3523.2 269.4,3518.9 272.0,3518.9 272.0,3514.4 274.6,3514.4 274.6,3515.2 277.1,3515.2 277.1,3513.5 280.0,3513.5 280.0,3511.5 282.8,3511.5 282.8,3515.5 285.7,3515.5 285.7,3520.2 287.9,3520.2 287.9,3526.4 290.2,3526.4 290.2,3525.1 292.5,3525.1 292.5,3523.5 294.8,3523.5 294.8,3523.0 297.0,3523.0 297.0,3519.1 299.3,3519.1 299.3,3518.6 301.9,3518.6 301.9,3518.6 304.5,3518.6 304.5,3519.1 306.2,3519.1 306.2,3520.3 307.9,3520.3 307.9,3525.1 310.4,3525.1 310.4,3527.0 313.0,3527.0 313.0,3522.5 315.3,3522.5 315.3,3522.4 317.5,3522.4 317.5,3525.0 319.8,3525.0 319.8,3527.3 322.4,3527.3 322.4,3530.2 325.0,3530.2 325.0,3526.2 327.5,3526.2 327.5,3518.9 330.1,3518.9 330.1,3516.6 332.4,3516.6 332.4,3518.3 334.6,3518.3 334.6,3519.0 336.9,3519.0 336.9,3517.3 339.5,3517.3 339.5,3521.7 342.0,3521.7 342.0,3531.0 344.6,3531.0 344.6,3536.9 347.2,3536.9 347.2,3539.3 349.7,3539.3 349.7,3540.2 352.3,3540.2 352.3,3536.2 354.8,3536.2 354.8,3531.3 357.4,3531.3 357.4,3528.8 359.7,3528.8 359.7,3526.7 362.0,3526.7 362.0,3526.8 364.2,3526.8 364.2,3527.8 367.2,3527.8 367.2,3522.5 370.2,3522.5 370.2,3516.7 373.2,3516.7 373.2,3511.0 376.2,3511.0 376.2,3509.9 378.8,3509.9 378.8,3507.0 381.3,3507.0 381.3,3503.0 383.9,3503.0 383.9,3504.0 386.4,3504.0 386.4,3512.3 389.3,3512.3 389.3,3523.0 392.1,3523.0 392.1,3520.1 395.0,3520.1 395.0,3522.2 397.6,3522.2 397.6,3529.7 400.1,3529.7 400.1,3533.7 402.7,3533.7 402.7,3535.6 405.2,3535.6 405.2,3533.3 407.5,3533.3 407.5,3531.0 409.8,3531.0 409.8,3525.8 412.1,3525.8 412.1,3513.3 414.9,3513.3 414.9,3504.0 417.8,3504.0 417.8,3501.5 420.6,3501.5 420.6,3499.2 423.2,3499.2 423.2,3495.5 425.7,3495.5 425.7,3496.3 428.3,3496.3 428.3,3499.9 430.9,3499.9 430.9,3500.0 433.4,3500.0 433.4,3499.1 436.0,3499.1 436.0,3498.9 438.3,3498.9 438.3,3504.0 440.5,3504.0 440.5,3510.3 442.8,3510.3 442.8,3512.5 445.4,3512.5 445.4,3519.1 447.9,3519.1 447.9,3518.4 450.5,3518.4 450.5,3509.5 453.1,3509.5 453.1,3506.6 455.3,3506.6 455.3,3506.4 457.6,3506.4 457.6,3504.9 459.9,3504.9 459.9,3504.7 462.5,3504.7 462.5,3511.3 465.0,3511.3 465.0,3518.7 467.6,3518.7 467.6,3521.9 470.2,3521.9 470.2,3520.4 472.7,3520.4 472.7,3519.9 475.3,3519.9 475.3,3525.4 477.8,3525.4 477.8,3531.6 480.4,3531.6 480.4,3533.4 483.0,3533.4 483.0,3528.9 485.5,3528.9 485.5,3521.8 488.1,3521.8 488.1,3514.3 490.6,3514.3 490.6,3511.4 492.9,3511.4 492.9,3510.7 495.2,3510.7 495.2,3508.9 497.5,3508.9 497.5,3516.1 500.3,3516.1 500.3,3517.9 503.2,3517.9 503.2,3517.2 506.0,3517.2 506.0,3521.0 508.6,3521.0 508.6,3523.0 511.1,3523.0 511.1,3523.8 513.9,3523.8 513.9,3516.7 516.6,3516.7 516.6,3511.5 519.3,3511.5 519.3,3519.4 522.1,3519.4 522.1,3520.3 524.8,3520.3 524.8,3513.1 527.7,3513.1 527.7,3511.0 530.5,3511.0 530.5,3511.1 533.4,3511.1 533.4,3509.9 535.6,3509.9 535.6,3509.9 537.9,3509.9 537.9,3512.8 540.2,3512.8 540.2,3511.5 543.1,3511.5 543.1,3513.1 545.9,3513.1 545.9,3512.9 548.8,3512.9 548.8,3510.0 551.7,3510.0 551.7,3508.9 552.1,3508.9 552.1,3505.0 554.8,3505.0 554.8,3499.5 557.5,3499.5 557.5,3497.6 560.2,3497.6 560.2,3503.4 562.8,3503.4 562.8,3509.8 565.4,3509.8 565.4,3513.5 568.2,3513.5 568.2,3519.1 571.1,3519.1 571.1,3518.8 573.9,3518.8 573.9,3514.2 576.5,3514.2 576.5,3515.0 579.0,3515.0 579.0,3517.7 581.6,3517.7 581.6,3523.6 584.2,3523.6 584.2,3527.0 587.2,3527.0 587.2,3524.3 590.1,3524.3 590.1,3527.6 593.1,3527.6 593.1,3531.1 596.1,3531.1 596.1,3530.4 598.4,3530.4 598.4,3530.7 600.7,3530.7 600.7,3527.3 603.0,3527.3 603.0,3522.5 605.7,3522.5 605.7,3512.0 608.4,3512.0 608.4,3505.5 611.2,3505.5 611.2,3510.6 613.9,3510.6 613.9,3513.1 616.6,3513.1 616.6,3508.6 619.5,3508.6 619.5,3506.7 622.3,3506.7 622.3,3511.6 625.2,3511.6 625.2,3517.2 627.4,3517.2 627.4,3519.4 629.7,3519.4 629.7,3517.3 632.0,3517.3 632.0,3510.4 634.8,3510.4 634.8,3504.9 637.7,3504.9 637.7,3500.0 640.5,3500.0 640.5,3496.0 643.4,3496.0 643.4,3500.0 646.2,3500.0 646.2,3499.2 649.1,3499.2 649.1,3505.2 651.4,3505.2 651.4,3513.0 653.6,3513.0 653.6,3512.4 655.9,3512.4 655.9,3509.6 658.5,3509.6 658.5,3506.9 661.0,3506.9 661.0,3509.0 663.9,3509.0 663.9,3515.7 666.7,3515.7 666.7,3520.0 669.6,3520.0 669.6,3523.8 671.9,3523.8 671.9,3526.9 674.1,3526.9 674.1,3531.0 676.4,3531.0 676.4,3535.4 678.7,3535.4 678.7,3531.8 681.0,3531.8 681.0,3531.1 683.2,3531.1 683.2,3527.7 685.8,3527.7 685.8,3522.4 688.4,3522.4 688.4,3520.3 691.2,3520.3 691.2,3518.0 694.1,3518.0 694.1,3518.1 696.9,3518.1 696.9,3519.4 699.2,3519.4 699.2,3520.4 701.5,3520.4 701.5,3516.4 703.7,3516.4 703.7,3518.3 706.6,3518.3 706.6,3525.4 709.4,3525.4 709.4,3530.6 712.3,3530.6 712.3,3541.6 715.1,3541.6 715.1,3543.2 718.0,3543.2 718.0,3538.8 720.8,3538.8 720.8,3540.2 723.1,3540.2 723.1,3536.2 725.4,3536.2 725.4,3531.7 727.7,3531.7 727.7,3527.6 730.5,3527.6 730.5,3522.1 733.4,3522.1 733.4,3523.2 736.2,3523.2 736.2,3533.9 738.5,3533.9 738.5,3545.5 740.8,3545.5 740.8,3545.8 743.0,3545.8 743.0,3539.8 745.9,3539.8 745.9,3539.3 748.7,3539.3 748.7,3538.4 751.6,3538.4 751.6,3539.2 753.8,3539.2 753.8,3540.4 756.1,3540.4 756.1,3537.6 758.4,3537.6 758.4,3540.6 760.7,3540.6 760.7,3544.7 763.0,3544.7 763.0,3544.1 765.2,3544.1 765.2,3544.5 768.1,3544.5 768.1,3545.4 770.9,3545.4 770.9,3539.7 773.8,3539.7 773.8,3535.4 776.6,3535.4 776.6,3538.9 779.5,3538.9 779.5,3540.0 782.3,3540.0 782.3,3541.0 784.6,3541.0 784.6,3541.7 786.9,3541.7 786.9,3539.5 789.2,3539.5 789.2,3538.7 791.4,3538.7 791.4,3537.0 793.7,3537.0 793.7,3533.6 796.0,3533.6 796.0,3531.5 798.8,3531.5 798.8,3529.3 801.7,3529.3 801.7,3531.1 804.5,3531.1 804.5,3539.7 806.8,3539.7 806.8,3538.0 809.1,3538.0 809.1,3541.3 811.4,3541.3 811.4,3543.5 814.2,3543.5 814.2,3542.3 817.1,3542.3 817.1,3542.8 819.9,3542.8 819.9,3538.9 822.2,3538.9 822.2,3535.6 824.5,3535.6 824.5,3529.4 826.7,3529.4 826.7,3526.7 829.3,3526.7 829.3,3522.6 831.9,3522.6 831.9,3520.1 834.9,3520.1 834.9,3518.4 838.0,3518.4 838.0,3518.9 840.5,3518.9 840.5,3519.8 843.0,3519.8 843.0,3518.5 845.5,3518.5 845.5,3520.3 848.5,3520.3 848.5,3521.1 851.5,3521.1 851.5,3526.5 854.5,3526.5 854.5,3533.6 857.5,3533.6 857.5,3535.2 860.6,3535.2 860.6,3533.6 863.6,3533.6 863.6,3528.0 866.7,3528.0 866.7,3524.9 869.8,3524.9 869.8,3522.5 872.9,3522.5 872.9,3519.2 875.7,3519.2 875.7,3517.1 878.6,3517.1 878.6,3520.3 881.4,3520.3 881.4,3521.8 883.7,3521.8 883.7,3519.9 886.0,3519.9 886.0,3526.4 888.2,3526.4 888.2,3530.8 891.0,3530.8 891.0,3531.5 893.7,3531.5 893.7,3527.8 896.4,3527.8 896.4,3521.4 899.2,3521.4 899.2,3514.7 901.9,3514.7 901.9,3515.6 904.5,3515.6 904.5,3524.9 907.0,3524.9 907.0,3529.6 909.6,3529.6 909.6,3533.8 912.1,3533.8 912.1,3534.0 915.1,3534.0 915.1,3532.3 918.1,3532.3 918.1,3532.5 921.1,3532.5 921.1,3533.7 924.1,3533.7 924.1,3539.5 927.1,3539.5 927.1,3541.5 929.6,3541.5 929.6,3540.6 932.2,3540.6 932.2,3539.9 934.8,3539.9 934.8,3539.8 937.3,3539.8 937.3,3539.1 940.5,3539.1 940.5,3534.7 943.6,3534.7 943.6,3531.0 946.7,3531.0 946.7,3531.7 949.9,3531.7 949.9,3526.3 953.0,3526.3 953.0,3520.6 956.1,3520.6 956.1,3520.5 958.4,3520.5 958.4,3519.3 960.7,3519.3 960.7,3519.3 963.0,3519.3 963.0,3520.8 966.0,3520.8 966.0,3523.9 969.1,3523.9 969.1,3526.0 972.2,3526.0 972.2,3524.4 975.3,3524.4 975.3,3518.5 978.3,3518.5 978.3,3524.2 980.9,3524.2 980.9,3531.5 983.5,3531.5 983.5,3529.0 986.3,3529.0 986.3,3525.6 989.1,3525.6 989.1,3529.0 992.0,3529.0 992.0,3532.8 994.8,3532.8 994.8,3531.4 997.7,3531.4 997.7,3526.9 1000.5,3526.9 1000.5,3531.6 1003.3,3531.6 1003.3,3539.2 1006.0,3539.2 1006.0,3533.9 1008.7,3533.9 1008.7,3529.8 1011.5,3529.8 1011.5,3524.6 1014.2,3524.6 1014.2,3517.8 1017.0,3517.8 1017.0,3516.0 1019.9,3516.0 1019.9,3514.1 1022.7,3514.1 1022.7,3508.6 1025.3,3508.6 1025.3,3506.7 1027.9,3506.7 1027.9,3507.2 1030.4,3507.2 1030.4,3505.8 1033.0,3505.8 1033.0,3504.5 1035.8,3504.5 1035.8,3504.9 1038.7,3504.9 1038.7,3511.2 1041.5,3511.2 1041.5,3518.3 1043.8,3518.3 1043.8,3516.5 1046.1,3516.5 1046.1,3518.5 1048.4,3518.5 1048.4,3523.8 1051.2,3523.8 1051.2,3519.7 1054.1,3519.7 1054.1,3517.3 1056.9,3517.3 1056.9,3516.7 1059.8,3516.7 1059.8,3513.0 1062.6,3513.0 1062.6,3511.9 1065.4,3511.9 1065.4,3513.4 1068.3,3513.4 1068.3,3512.7 1071.1,3512.7 1071.1,3513.0 1074.0,3513.0 1074.0,3517.7 1077.1,3517.7 1077.1,3523.9 1080.1,3523.9 1080.1,3525.8 1083.2,3525.8 1083.2,3528.3 1086.3,3528.3 1086.3,3533.9 1089.4,3533.9 1089.4,3531.4 1092.1,3531.4 1092.1,3526.7 1094.8,3526.7 1094.8,3523.9 1097.6,3523.9 1097.6,3514.3 1100.3,3514.3 1100.3,3508.2 1103.0,3508.2 1103.0,3507.3 1105.9,3507.3 1105.9,3509.6 1108.7,3509.6 1108.7,3516.8 1111.6,3516.8 1111.6,3519.8 1114.6,3519.8 1114.6,3518.3 1117.7,3518.3 1117.7,3522.5 1120.8,3522.5 1120.8,3521.9 1123.9,3521.9 1123.9,3515.2 1126.9,3515.2 1126.9,3512.2 1129.5,3512.2 1129.5,3515.1 1132.1,3515.1 1132.1,3520.0 1135.1,3520.0 1135.1,3517.4 1138.0,3517.4 1138.0,3520.4 1141.0,3520.4 1141.0,3527.7 1144.0,3527.7 1144.0,3528.0 1146.9,3528.0 1146.9,3525.6 1149.7,3525.6 1149.7,3525.6 1152.6,3525.6 1152.6,3525.3 1154.8,3525.3 1154.8,3523.2 1157.1,3523.2 1157.1,3524.3 1159.4,3524.3 1159.4,3529.5 1162.0,3529.5 1162.0,3528.5 1164.5,3528.5 1164.5,3522.9 1167.1,3522.9 1167.1,3521.8 1169.7,3521.8 1169.7,3521.4 1171.9,3521.4 1171.9,3518.5 1174.2,3518.5 1174.2,3523.3 1176.5,3523.3 1176.5,3526.6 1178.8,3526.6 1178.8,3523.8 1181.0,3523.8 1181.0,3524.6 1183.3,3524.6 1183.3,3519.9 1186.1,3519.9 1186.1,3515.9 1188.8,3515.9 1188.8,3510.5 1191.5,3510.5 1191.5,3511.3 1194.3,3511.3 1194.3,3517.0 1197.0,3517.0 1197.0,3521.1 1199.8,3521.1 1199.8,3523.0 1202.7,3523.0 1202.7,3525.3 1205.5,3525.3 1205.5,3530.6 1208.3,3530.6 1208.3,3529.9 1211.0,3529.9 1211.0,3529.3 1213.7,3529.3 1213.7,3530.8 1216.5,3530.8 1216.5,3530.5 1219.2,3530.5 1219.2,3532.4 1221.8,3532.4 1221.8,3537.2 1224.3,3537.2 1224.3,3540.1 1226.9,3540.1 1226.9,3537.2 1229.4,3537.2 1229.4,3529.1 1232.3,3529.1 1232.3,3528.7 1235.1,3528.7 1235.1,3531.1 1238.0,3531.1 1238.0,3531.9 1240.5,3531.9 1240.5,3534.7 1242.9,3534.7 1242.9,3544.6 1245.4,3544.6 1245.4,3551.6 1247.9,3551.6 1247.9,3550.9 1250.6,3550.9 1250.6,3554.7 1253.4,3554.7 1253.4,3555.4 1256.2,3555.4 1256.2,3548.0 1259.0,3548.0 1259.0,3536.5 1261.9,3536.5 1261.9,3526.2 1264.6,3526.2 1264.6,3526.2 1267.3,3526.2 1267.3,3531.4 1270.0,3531.4 1270.0,3530.2 1272.1,3530.2 1272.1,3527.4 1275.3,3527.4 1275.3,3526.6 1278.5,3526.6 1278.5,3529.5 1280.8,3529.5 1280.8,3531.5 1283.1,3531.5 1283.1,3530.9 1285.4,3530.9 1285.4,3538.3 1287.7,3538.3 1287.7,3541.9 1289.9,3541.9 1289.9,3536.2 1292.2,3536.2 1292.2,3532.2 1295.2,3532.2 1295.2,3532.8 1298.2,3532.8 1298.2,3537.5 1301.2,3537.5 1301.2,3538.2 1304.2,3538.2 1304.2,3537.1 1307.0,3537.1 1307.0,3535.2 1309.9,3535.2 1309.9,3529.8 1312.7,3529.8 1312.7,3531.8 1314.4,3531.8 1314.4,3536.2 1317.0,3536.2 1317.0,3541.1 1319.5,3541.1 1319.5,3544.4 1322.1,3544.4 1322.1,3545.2 1324.7,3545.2 1324.7,3546.0 1327.2,3546.0 1327.2,3536.6 1329.8,3536.6 1329.8,3529.0 1332.8,3529.0 1332.8,3525.7 1335.8,3525.7 1335.8,3526.0 1338.8,3526.0 1338.8,3522.8 1341.7,3522.8 1341.7,3514.7 1344.5,3514.7 1344.5,3516.8 1347.2,3516.8 1347.2,3520.1 1349.9,3520.1 1349.9,3520.5 1352.7,3520.5 1352.7,3517.7 1355.4,3517.7 1355.4,3520.9 1358.4,3520.9 1358.4,3525.0 1361.4,3525.0 1361.4,3521.8 1364.4,3521.8 1364.4,3526.1 1367.4,3526.1 1367.4,3528.8 1370.4,3528.8 1370.4,3529.7 1373.5,3529.7 1373.5,3532.4 1376.6,3532.4 1376.6,3526.7 1379.7,3526.7 1379.7,3521.2 1382.7,3521.2 1382.7,3517.9 1385.6,3517.9 1385.6,3513.8 1388.4,3513.8 1388.4,3512.9 1391.3,3512.9 1391.3,3511.6 1393.6,3511.6 1393.6,3509.2 1395.8,3509.2 1395.8,3509.9 1398.1,3509.9 1398.1,3516.8 1401.0,3516.8 1401.0,3524.8 1403.8,3524.8 1403.8,3531.8 1406.7,3531.8 1406.7,3535.0 1409.2,3535.0 1409.2,3532.8 1411.8,3532.8 1411.8,3529.5 1414.3,3529.5 1414.3,3524.6 1416.9,3524.6 1416.9,3519.4 1419.9,3519.4 1419.9,3514.9 1422.9,3514.9 1422.9,3514.6 1425.9,3514.6 1425.9,3517.3 1428.9,3517.3 1428.9,3521.4 1431.9,3521.4 1431.9,3522.5 1434.8,3522.5 1434.8,3516.4 1437.8,3516.4 1437.8,3510.5 1440.8,3510.5 1440.8,3507.5 1443.4,3507.5 1443.4,3512.5 1445.9,3512.5 1445.9,3517.9 1448.5,3517.9 1448.5,3520.6 1451.1,3520.6 1451.1,3527.0 1453.6,3527.0 1453.6,3531.5 1456.2,3531.5 1456.2,3530.9 1458.8,3530.9 1458.8,3527.5 1461.3,3527.5 1461.3,3523.7 1464.1,3523.7 1464.1,3524.5 1466.8,3524.5 1466.8,3524.9 1469.5,3524.9 1469.5,3515.8 1472.3,3515.8 1472.3,3512.7 1475.0,3512.7 1475.0,3518.7 1477.8,3518.7 1477.8,3523.5 1480.7,3523.5 1480.7,3529.5 1483.5,3529.5 1483.5,3531.6 1486.5,3531.6 1486.5,3531.5 1489.5,3531.5 1489.5,3536.3 1492.5,3536.3 1492.5,3537.7 1495.5,3537.7 1495.5,3536.0 1497.8,3536.0 1497.8,3531.0 1500.0,3531.0 1500.0,3525.1 1502.3,3525.1 1502.3,3519.8 1505.2,3519.8 1505.2,3517.7 1508.0,3517.7 1508.0,3520.6 1510.9,3520.6 1510.9,3524.5 1513.7,3524.5 1513.7,3529.5 1516.6,3529.5 1516.6,3534.9 1519.4,3534.9 1519.4,3532.6 1522.0,3532.6 1522.0,3526.7 1524.5,3526.7 1524.5,3526.5 1527.1,3526.5 1527.1,3525.3 1529.7,3525.3 1529.7,3525.6 1532.2,3525.6 1532.2,3526.9 1534.8,3526.9 1534.8,3530.0 1537.8,3530.0 1537.8,3530.6 1540.8,3530.6 1540.8,3529.8 1543.7,3529.8 1543.7,3527.4 1546.7,3527.4 1546.7,3520.6 1549.6,3520.6 1549.6,3516.7 1552.4,3516.7 1552.4,3516.1 1555.3,3516.1 1555.3,3512.9 1558.0,3512.9 1558.0,3510.5 1560.7,3510.5 1560.7,3516.9 1563.5,3516.9 1563.5,3525.7 1566.2,3525.7 1566.2,3530.0 1568.9,3530.0 1568.9,3527.6 1571.5,3527.6 1571.5,3530.4 1574.1,3530.4 1574.1,3528.8 1576.6,3528.8 1576.6,3522.4 1579.2,3522.4 1579.2,3523.8 1581.5,3523.8 1581.5,3524.0 1583.7,3524.0 1583.7,3527.2 1586.0,3527.2 1586.0,3534.0 1588.3,3534.0 1588.3,3534.9 1590.6,3534.9 1590.6,3538.0 1592.9,3538.0 1592.9,3534.4 1595.1,3534.4 1595.1,3528.2 1597.4,3528.2 1597.4,3529.0 1599.7,3529.0 1599.7,3521.8 1602.5,3521.8 1602.5,3513.0 1605.4,3513.0 1605.4,3514.4 1608.2,3514.4 1608.2,3523.1 1610.5,3523.1 1610.5,3529.0 1612.8,3529.0 1612.8,3525.3 1615.1,3525.3 1615.1,3519.4 1617.3,3519.4 1617.3,3520.4 1619.6,3520.4 1619.6,3521.5 1621.9,3521.5 1621.9,3523.2 1624.2,3523.2 1624.2,3522.1 1626.5,3522.1 1626.5,3520.1 1628.7,3520.1 1628.7,3520.2 1631.5,3520.2 1631.5,3521.4 1634.4,3521.4 1634.4,3517.8 1637.2,3517.8 1637.2,3514.3 1640.0,3514.3 1640.0,3511.9 1643.0,3511.9 1643.0,3508.4 1646.0,3508.4 1646.0,3514.2 1649.0,3514.2 1649.0,3515.7 1652.1,3515.7 1652.1,3515.2 1655.1,3515.2 1655.1,3514.9 1658.1,3514.9 1658.1,3513.1 1661.1,3513.1 1661.1,3513.6 1664.1,3513.6 1664.1,3517.8 1667.1,3517.8 1667.1,3520.5 1670.1,3520.5 1670.1,3522.7 1673.1,3522.7 1673.1,3523.5 1676.1,3523.5 1676.1,3521.2 1679.0,3521.2 1679.0,3520.4 1681.9,3520.4 1681.9,3518.5 1684.9,3518.5 1684.9,3515.5 1687.8,3515.5 1687.8,3514.6 1690.7,3514.6 1690.7,3516.3 1693.6,3516.3 1693.6,3513.5" fill="none" stroke="#b08fdc" stroke-width="3.2" stroke-linejoin="miter" stroke-linecap="butt" />
</g>
<text x="0" y="0" font-size="62.8" text-anchor="end" font-weight="bold" transform="translate(166 3822) scale(1.05 1)" ><tspan font-weight="normal">-</tspan>3</text>
<text x="0" y="0" font-size="62.8" text-anchor="end" font-weight="bold" transform="translate(166 3729.2) scale(1.05 1)" ><tspan font-weight="normal">-</tspan>2</text>
<text x="0" y="0" font-size="62.8" text-anchor="end" font-weight="bold" transform="translate(166 3636.3) scale(1.05 1)" ><tspan font-weight="normal">-</tspan>1</text>
<text x="0" y="0" font-size="62.8" text-anchor="end" font-weight="bold" transform="translate(166 3543.5) scale(1.05 1)" >0</text>
<text x="0" y="0" font-size="62.8" text-anchor="end" font-weight="bold" transform="translate(166 3450.7) scale(1.05 1)" >1</text>
<text x="0" y="0" font-size="62.8" text-anchor="end" font-weight="bold" transform="translate(166 3357.8) scale(1.05 1)" >2</text>
<text x="0" y="0" font-size="62.8" text-anchor="end" font-weight="bold" transform="translate(166 3265) scale(1.05 1)" >3</text>
<text x="0" y="0" font-size="61" text-anchor="middle" font-weight="bold" transform="translate(190 3921.8) scale(1.02 1)" >0.0</text>
<text x="0" y="0" font-size="61" text-anchor="middle" font-weight="bold" transform="translate(338.9 3921.8) scale(1.02 1)" >0.5</text>
<text x="0" y="0" font-size="61" text-anchor="middle" font-weight="bold" transform="translate(487.8 3921.8) scale(1.02 1)" >1.0</text>
<text x="0" y="0" font-size="61" text-anchor="middle" font-weight="bold" transform="translate(636.7 3921.8) scale(1.02 1)" >1.5</text>
<text x="0" y="0" font-size="61" text-anchor="middle" font-weight="bold" transform="translate(785.6 3921.8) scale(1.02 1)" >2.0</text>
<text x="0" y="0" font-size="61" text-anchor="middle" font-weight="bold" transform="translate(934.5 3921.8) scale(1.02 1)" >2.5</text>
<text x="0" y="0" font-size="61" text-anchor="middle" font-weight="bold" transform="translate(1083.4 3921.8) scale(1.02 1)" >3.0</text>
<text x="0" y="0" font-size="61" text-anchor="middle" font-weight="bold" transform="translate(1232.3 3921.8) scale(1.02 1)" >3.5</text>
<text x="0" y="0" font-size="61" text-anchor="middle" font-weight="bold" transform="translate(1381.2 3921.8) scale(1.02 1)" >4.0</text>
<text x="0" y="0" font-size="61" text-anchor="middle" font-weight="bold" transform="translate(1530.1 3921.8) scale(1.02 1)" >4.5</text>
<text x="0" y="0" font-size="61" text-anchor="middle" font-weight="bold" transform="translate(1679 3921.8) scale(1.02 1)" >5.0</text>
<text x="948" y="4009" font-size="58.5" text-anchor="middle" font-weight="bold" >Time/min</text>
<text transform="translate(90.5 3524) rotate(-90)" font-size="61" font-weight="bold" text-anchor="middle">FM units power output/10<tspan font-size="44" dy="-24.5">-3</tspan><tspan dy="24.5">MW(p.u.)</tspan></text>
<rect x="269.8" y="3257.7" width="639.8" height="85.1" fill="#fff" stroke="#222" stroke-width="2.4"/>
<path d="M277 3299.5H350.5" stroke="#7ab9e8" stroke-width="8" stroke-linecap="round"/>
<text x="0" y="0" font-size="58" text-anchor="start" font-weight="bold" transform="translate(378 3320) scale(1.047 1)" >Conventional units</text>
<rect x="952.5" y="3225" width="657.5" height="160.7" fill="#fff" stroke="#222" stroke-width="2.4"/>
<path d="M961.5 3266.5H1034" stroke="#85d885" stroke-width="8" stroke-linecap="round"/>
<text x="0" y="0" font-size="58.5" text-anchor="start" font-weight="bold" transform="translate(1065 3288) scale(1.025 1)" >BESS 1</text>
<path d="M1272.5 3266.8H1348.5" stroke="#f08888" stroke-width="8" stroke-linecap="round"/>
<text x="0" y="0" font-size="58.5" text-anchor="start" font-weight="bold" transform="translate(1378.3 3288.3) scale(1.025 1)" >BESS 2</text>
<path d="M961.5 3342.5H1034" stroke="#ffb878" stroke-width="8" stroke-linecap="round"/>
<text x="0" y="0" font-size="58.5" text-anchor="start" font-weight="bold" transform="translate(1065 3364) scale(1.025 1)" >BESS 3</text>
<path d="M1272.5 3343.3H1348.5" stroke="#b08fdc" stroke-width="8" stroke-linecap="round"/>
<text x="0" y="0" font-size="58.5" text-anchor="start" font-weight="bold" transform="translate(1378.3 3364.8) scale(1.025 1)" >BESS 4</text>
<text x="0" y="0" font-size="72" transform="translate(830.9 4133.4) scale(1 1.13)">(</text>
<text x="0" y="0" font-size="72" transform="translate(903.2 4133.4) scale(1 1.13)">)</text>
<text x="0" y="0" font-size="72" font-weight="bold" text-anchor="middle" transform="translate(878.8 4133.4) scale(1.16 1.13)">d</text>
</svg>
</body></html>
